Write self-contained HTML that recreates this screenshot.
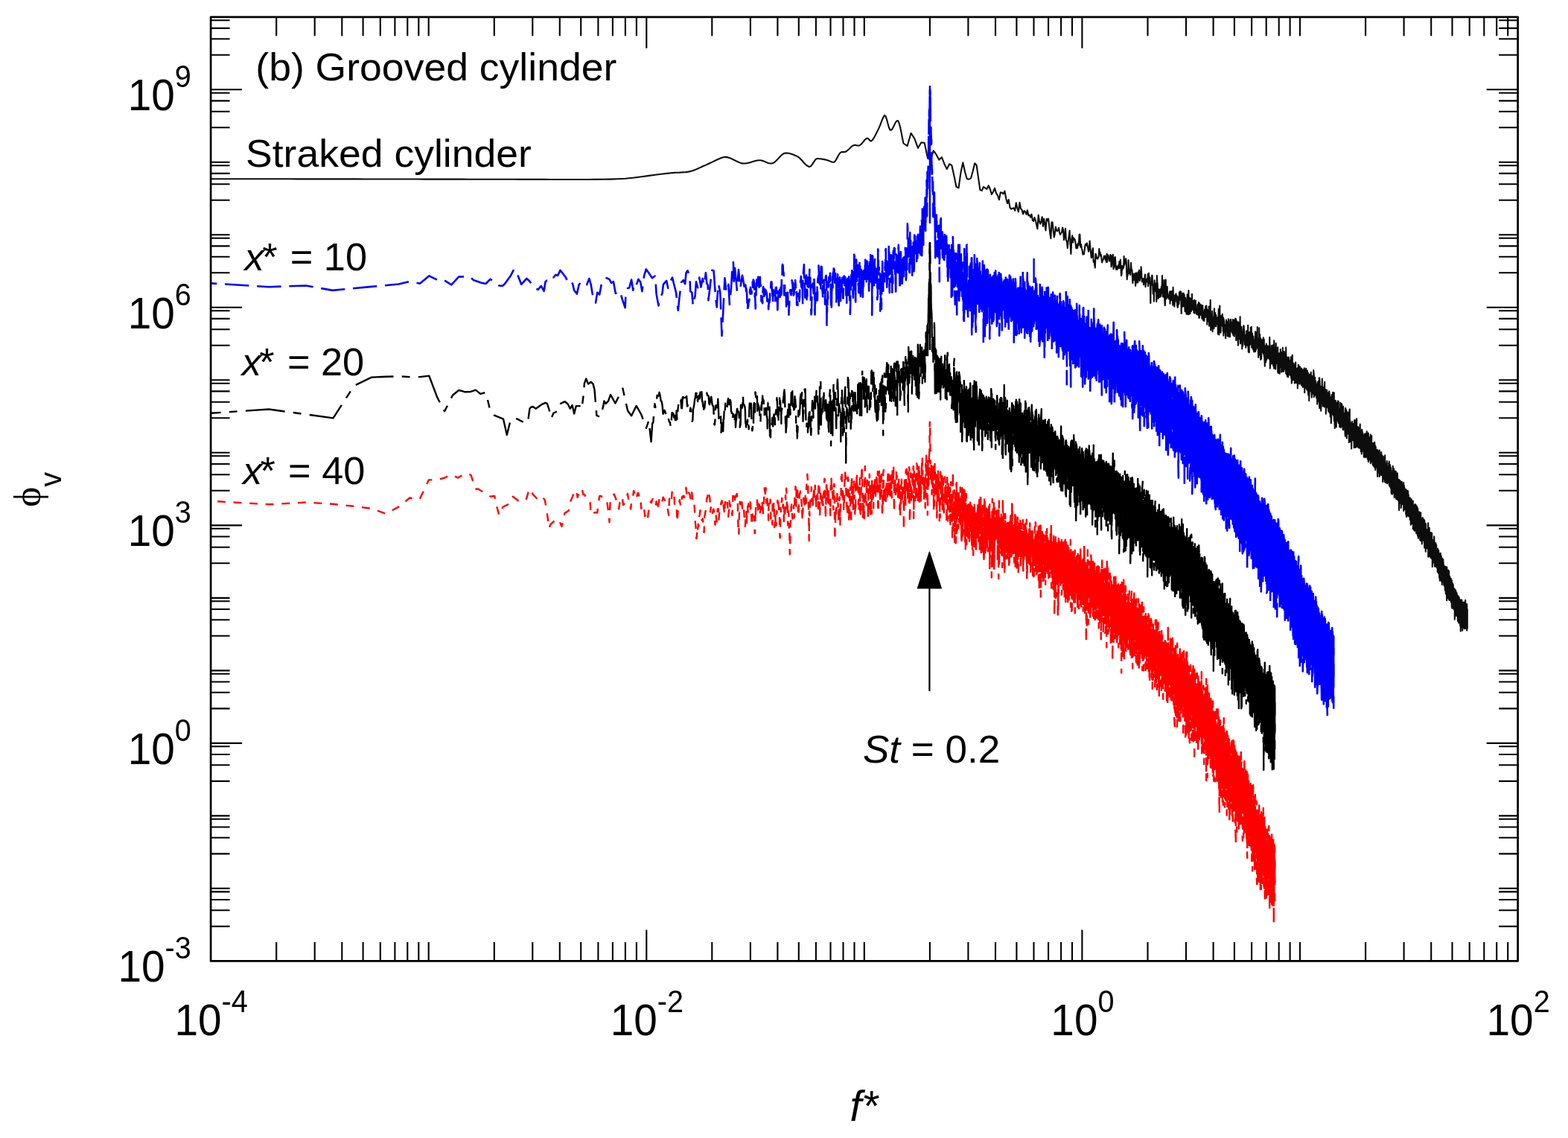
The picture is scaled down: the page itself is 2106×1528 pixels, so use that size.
<!DOCTYPE html>
<html lang="en"><head><meta charset="utf-8"><title>Velocity spectra - grooved cylinder</title>
<style>html,body{margin:0;padding:0;background:#fff}svg{display:block}text{font-family:"Liberation Sans",Arial,Helvetica,sans-serif;fill:#000}.i{font-style:italic}</style></head><body>
<svg width="2106" height="1528" viewBox="0 0 2106 1528">
<rect width="2106" height="1528" fill="#fff"/>
<defs><clipPath id="pc"><rect x="283.1" y="22.8" width="1755.5" height="1267.6"/></clipPath></defs>
<g clip-path="url(#pc)" fill="none" stroke-linejoin="round" stroke-linecap="butt">
<path d="M270.0 240.3L280.0 240.3L290.0 240.3L300.0 240.3L310.0 240.3L320.0 240.3L330.0 240.3L340.0 240.3L350.0 240.3L360.0 240.3L370.0 240.3L380.0 240.3L390.0 240.3L400.0 240.4L410.0 240.4L420.0 240.4L430.0 240.4L440.0 240.4L450.0 240.4L460.0 240.4L470.0 240.4L480.0 240.4L490.0 240.5L500.0 240.5L510.0 240.5L520.0 240.5L530.0 240.5L540.0 240.5L550.0 240.5L560.0 240.5L570.0 240.6L580.0 240.6L590.0 240.6L600.0 240.6L610.0 240.6L620.0 240.6L630.0 240.7L640.0 240.7L650.0 240.7L660.0 240.7L670.0 240.8L680.0 240.8L690.0 240.8L700.0 240.9L710.0 240.9L720.0 240.9L730.0 240.9L740.0 241.0L750.0 241.0L760.0 241.0L770.0 241.0L780.0 241.0L790.0 241.0L800.0 240.9L810.0 240.8L820.0 240.6L830.0 240.3L840.0 239.8L850.0 238.8L860.0 237.5L870.0 236.1L880.0 234.8L890.0 233.5L900.0 232.4L901.5 232.2L903.0 232.1L904.5 232.0L906.0 231.9L907.5 231.8L909.0 231.8L910.5 231.7L912.0 231.7L913.5 231.6L915.0 231.5L916.5 231.4L918.0 231.3L919.5 231.2L921.0 231.1L922.5 230.9L924.0 230.7L925.5 230.4L927.0 230.1L928.5 229.7L930.0 229.3L931.5 228.8L933.0 228.2L934.5 227.6L936.0 227.0L937.5 226.3L939.0 225.6L940.5 224.9L942.0 224.2L943.5 223.5L945.0 222.8L946.5 222.2L948.0 221.6L949.5 220.9L951.0 220.2L952.5 219.5L954.0 218.8L955.5 218.1L957.0 217.4L958.5 216.6L960.0 215.9L961.5 215.2L963.0 214.5L964.5 213.8L966.0 213.2L967.5 212.5L969.0 211.9L970.5 211.4L972.0 211.0L973.5 210.9L975.0 210.9L976.5 211.1L978.0 211.4L979.5 211.9L981.0 212.5L982.5 213.1L984.0 213.8L985.5 214.6L987.0 215.3L988.5 216.1L990.0 216.8L991.5 217.5L993.0 218.1L994.5 218.7L996.0 219.1L997.5 219.4L999.0 219.5L1000.5 219.5L1002.0 219.3L1003.5 219.1L1005.0 218.7L1006.5 218.4L1008.0 218.0L1009.5 217.5L1011.0 217.1L1012.5 216.6L1014.0 216.2L1015.5 215.8L1017.0 215.5L1018.5 215.3L1020.0 215.2L1021.5 215.3L1023.0 215.5L1024.5 216.0L1026.0 216.5L1027.5 217.1L1029.0 217.8L1030.5 218.4L1032.0 218.9L1033.5 219.3L1035.0 219.5L1036.5 219.5L1038.0 219.1L1039.5 218.3L1041.0 217.2L1042.5 215.8L1044.0 214.2L1045.5 212.6L1047.0 211.0L1048.5 209.4L1050.0 208.0L1051.5 206.9L1053.0 206.0L1054.5 205.6L1056.0 205.5L1057.5 205.6L1059.0 205.7L1060.5 206.0L1062.0 206.4L1063.5 206.9L1065.0 207.4L1066.5 208.0L1068.0 208.7L1069.5 209.4L1071.0 210.1L1072.5 211.0L1074.0 212.2L1075.5 213.7L1077.0 215.3L1078.5 217.0L1080.0 218.7L1081.5 220.3L1083.0 221.7L1084.5 222.8L1086.0 223.6L1087.5 223.9L1089.0 223.1L1090.5 221.3L1092.0 219.1L1093.5 216.8L1095.0 214.7L1096.5 213.3L1098.0 212.9L1099.5 213.0L1101.0 213.2L1102.5 213.3L1104.0 213.6L1105.5 213.8L1107.0 214.1L1108.5 214.4L1110.0 214.7L1111.5 215.2L1113.0 215.8L1114.5 216.4L1116.0 217.0L1117.5 217.5L1119.0 217.8L1120.5 217.6L1122.0 216.0L1123.5 213.6L1125.0 210.7L1126.5 208.0L1128.0 205.7L1129.5 204.5L1131.0 204.1L1132.5 204.1L1134.0 204.1L1135.5 203.8L1137.0 203.0L1138.5 201.8L1140.0 200.4L1141.5 198.9L1143.0 197.5L1144.5 196.2L1146.0 195.3L1147.5 194.9L1149.0 194.9L1150.5 195.2L1152.0 195.5L1153.5 195.5L1155.0 195.0L1156.5 193.8L1158.0 192.2L1159.5 190.4L1161.0 188.5L1162.5 186.9L1164.0 185.7L1165.5 185.7L1167.0 187.1L1168.5 188.8L1170.0 189.5L1171.5 188.3L1173.0 186.2L1174.5 183.7L1176.0 180.9L1177.5 178.0L1179.0 175.1L1180.5 171.9L1182.0 168.3L1183.5 164.4L1185.0 160.6L1186.5 157.3L1188.0 154.9L1189.5 156.1L1191.0 160.4L1192.5 166.0L1194.0 171.2L1195.5 174.5L1197.0 174.7L1198.5 173.0L1200.0 170.3L1201.5 167.1L1203.0 164.2L1204.5 162.3L1206.0 162.1L1207.5 165.0L1209.0 170.6L1210.5 177.8L1212.0 185.5L1213.5 192.5L1218.6 196.0L1223.6 178.8L1228.4 186.3L1233.0 198.8L1237.4 191.3L1241.7 191.9L1245.9 212.1L1249.9 215.0L1253.8 202.3L1257.6 207.7L1261.3 214.6L1264.9 211.2L1268.4 220.2L1271.8 227.1L1275.1 220.2L1278.3 222.0L1281.4 235.9L1284.5 251.0L1287.5 252.3L1290.4 232.0L1293.3 218.3L1296.1 231.0L1298.8 240.3L1301.5 240.7L1304.1 239.3L1306.6 230.0L1309.2 219.3L1311.6 221.8L1314.1 239.2L1316.4 255.1L1318.8 255.9L1321.0 250.8L1323.3 252.5L1325.5 253.8L1327.7 249.2L1329.8 253.8L1331.9 261.0L1334.0 257.5L1336.0 252.7L1338.0 259.3L1340.0 262.3L1341.9 268.2L1343.8 258.4L1345.7 258.8L1347.6 260.4L1349.4 256.5L1351.2 266.3L1353.0 273.1L1354.7 268.1L1356.5 278.7L1358.2 280.7L1359.9 279.7L1361.5 279.2L1363.2 282.9L1364.8 272.2L1366.4 279.8L1367.9 284.4L1369.5 271.9L1371.0 280.3L1372.6 281.8L1374.1 287.4L1375.6 283.2L1377.0 284.2L1378.5 287.9L1379.9 282.3L1381.3 289.3L1382.7 288.8L1384.1 291.7L1385.5 287.7L1386.9 295.9L1388.2 297.0L1389.5 292.1L1390.9 296.1L1392.2 302.1L1393.4 307.3L1394.7 288.9L1396.0 297.6L1397.2 300.7L1398.5 297.2L1399.7 291.2L1400.9 303.8L1402.1 293.8L1403.3 300.5L1404.5 309.4L1405.7 293.8L1406.8 296.5L1408.0 293.7L1409.1 301.9L1410.3 313.6L1411.4 320.1L1412.5 298.2L1413.6 298.5L1414.7 309.6L1415.8 318.5L1416.8 313.7L1417.9 304.6L1418.9 309.4L1420.0 310.3L1421.0 309.1L1422.1 305.9L1423.1 312.6L1424.1 315.1L1425.1 313.0L1426.1 312.0L1427.1 305.5L1428.1 308.9L1429.0 322.1L1430.0 317.4L1431.0 306.9L1431.9 322.7L1432.9 324.1L1433.8 333.2L1434.7 323.9L1435.7 316.7L1436.6 309.7L1437.5 326.2L1438.4 341.0L1439.3 322.1L1440.2 316.4L1441.1 325.5L1441.9 319.4L1442.8 320.5L1443.7 321.8L1444.5 325.8L1445.4 333.5L1446.2 328.9L1447.1 333.1L1447.9 326.7L1448.8 329.3L1449.6 315.1L1450.4 314.8L1451.2 331.7L1452.0 328.0L1452.8 333.2L1453.6 336.1L1454.4 341.7L1455.2 340.5L1456.0 341.2L1456.8 334.7L1457.6 328.7L1458.4 327.7L1459.1 329.7L1459.9 326.4L1460.6 329.3L1461.4 334.1L1462.1 337.8L1462.9 335.1L1463.6 323.6L1464.4 332.9L1465.1 339.4L1465.8 346.2L1466.6 345.1L1467.3 336.2L1468.0 333.3L1468.7 351.8L1469.4 349.9L1470.1 354.7L1470.8 359.4L1471.5 340.7L1472.2 342.5L1472.9 346.0L1473.6 347.2L1474.3 347.6L1474.9 345.6L1475.6 345.0L1476.3 334.0L1476.9 339.5L1477.6 338.9L1478.3 343.8L1478.9 342.0L1479.6 348.3L1480.2 352.4L1480.9 349.7L1481.5 348.9L1482.2 347.7L1482.8 343.9L1483.4 344.8L1484.1 343.5L1484.7 349.0L1485.3 348.8L1485.9 352.0L1486.6 340.7L1487.2 351.7L1487.8 345.8L1488.4 342.5L1489.0 346.5L1489.6 345.5L1490.2 350.7L1490.8 347.1L1491.4 342.0L1492.0 342.7L1492.6 358.1L1493.2 354.7L1493.8 343.8L1494.3 349.3L1494.9 341.7L1495.5 361.1L1496.1 346.4L1496.6 352.8L1497.2 358.1L1497.8 345.0L1498.3 352.6L1498.9 361.6L1499.4 359.9L1500.0 357.5L1500.6 362.0L1501.1 358.5L1501.7 358.2L1502.2 355.7L1502.8 360.1L1503.3 351.4L1503.8 359.9L1504.4 355.3L1504.9 348.6L1505.4 357.5L1506.0 370.2L1506.5 368.5L1507.0 357.0L1507.5 362.2L1508.1 357.4L1508.6 357.3L1509.1 359.8L1509.6 344.0L1510.1 356.0L1510.6 353.6L1511.2 353.4L1511.7 349.1L1512.2 347.3L1512.7 351.4L1513.2 365.1L1513.7 375.2L1514.2 365.8L1514.7 369.9L1515.2 363.4L1515.6 349.2L1516.1 359.9L1516.6 366.9L1517.1 361.8L1517.6 365.1L1518.1 368.9L1518.6 359.9L1519.0 352.7L1519.5 360.2L1520.0 363.4L1520.5 362.7L1520.9 371.9L1521.4 380.3L1521.9 367.5L1522.3 370.5L1522.8 375.0L1523.3 374.3L1523.7 376.3L1524.2 367.4L1524.6 372.2L1525.1 383.9L1525.6 378.7L1526.0 366.3L1526.5 371.8L1526.9 379.4L1527.4 375.0L1527.8 366.7L1528.2 379.4L1528.7 365.2L1529.1 371.1L1529.6 371.9L1530.0 362.8L1530.5 377.0L1530.9 376.8L1531.3 364.5L1531.8 373.5L1532.2 370.7L1532.6 358.4L1533.0 363.7L1533.5 373.3L1533.9 378.4L1534.3 376.2L1534.7 374.5L1535.2 377.5L1535.6 374.0L1536.0 382.3L1536.4 378.6L1536.8 377.5L1537.3 379.8L1537.7 369.6L1538.1 368.5L1538.5 385.2L1538.9 382.3L1539.3 375.5L1539.7 378.7L1540.1 374.7L1540.5 378.3L1540.9 373.8L1541.3 378.4L1541.7 368.0L1542.1 384.2L1542.5 378.4L1542.9 366.9L1543.3 374.1L1543.7 376.5L1544.1 380.1L1544.5 372.5L1544.9 380.5L1545.3 406.9L1545.7 380.5L1546.0 380.6L1546.4 380.1L1546.8 382.4L1547.2 369.8L1547.6 370.0L1548.0 383.1L1548.3 383.6L1548.7 394.4L1549.1 382.2L1549.5 383.1L1549.9 404.6L1550.2 385.5L1550.6 376.2L1551.0 382.2L1551.3 384.4L1551.7 390.9L1552.1 388.2L1552.4 380.6L1552.8 385.5L1553.2 405.1L1553.5 401.4L1553.9 370.0L1554.3 379.3L1554.6 380.6L1555.0 389.6L1555.4 387.8L1555.7 400.9L1556.1 399.0L1556.4 396.7L1556.8 391.8L1557.1 388.8L1557.5 391.2L1557.8 399.0L1558.2 396.2L1558.5 388.4L1558.9 398.0L1559.2 394.4L1559.6 390.2L1559.9 384.7L1560.3 384.8L1560.6 385.1L1561.0 370.0L1561.3 391.9L1561.7 397.9L1562.0 391.6L1562.3 398.8L1562.7 397.7L1563.0 396.0L1563.4 376.0L1563.7 385.3L1564.0 396.1L1564.4 405.7L1564.7 410.1L1565.0 407.9L1565.4 388.8L1565.7 375.6L1566.0 392.9L1566.3 395.8L1566.7 401.3L1567.0 396.0L1567.3 396.0L1567.7 384.9L1568.0 394.7L1568.3 393.2L1568.6 396.9L1569.0 399.7L1569.3 396.0L1569.6 397.9L1569.9 396.8L1570.2 401.6L1570.6 401.8L1570.9 393.9L1571.2 391.3L1571.5 407.8L1571.8 400.4L1572.1 404.0L1572.5 402.5L1572.8 394.4L1573.1 391.0L1573.4 396.9L1573.7 400.1L1574.0 403.1L1574.3 390.7L1574.6 391.2L1574.9 396.5L1575.2 409.8L1575.6 385.9L1575.9 396.5L1576.2 396.3L1576.5 401.0L1576.8 396.9L1577.1 401.0L1577.4 411.6L1577.7 406.0L1578.0 403.9L1578.3 403.7L1578.6 395.8L1578.9 402.4L1579.2 400.3L1579.5 394.4L1579.8 398.5L1580.1 399.2L1580.4 405.8L1580.7 402.6L1580.9 397.4L1581.2 410.5L1581.5 412.0L1581.8 413.0L1582.1 409.1L1582.4 402.6L1582.7 398.8L1583.0 399.2L1583.3 408.4L1583.6 405.5L1583.9 392.3L1584.1 398.9L1584.4 392.6L1584.7 400.8L1585.0 394.9L1585.3 391.3L1585.6 401.2L1585.8 403.2L1586.1 391.5L1586.4 405.1L1586.7 421.0L1587.0 398.5L1587.2 413.5L1587.5 403.6L1587.8 399.2L1588.1 402.0L1588.4 393.8L1588.6 410.5L1588.9 411.4L1589.2 400.8L1589.5 401.3L1589.7 393.7L1590.0 399.2L1590.3 411.3L1590.6 395.6L1590.8 398.5L1591.1 405.8L1591.4 413.8L1591.6 418.2L1591.9 406.1L1592.2 400.0L1592.4 407.9L1592.7 405.1L1593.0 403.6L1593.2 413.8L1593.5 421.6L1593.8 413.0L1594.0 406.5L1594.3 410.9L1594.6 395.4L1594.8 403.0L1595.1 400.1L1595.4 422.3L1595.6 418.8L1595.9 410.8L1596.1 407.2L1596.4 390.0L1596.7 407.6L1596.9 421.9L1597.2 407.4L1597.4 412.0L1597.7 415.8L1598.0 399.8L1598.2 412.3L1598.5 421.3L1598.7 414.4L1599.0 409.8L1599.2 415.3L1599.5 400.8L1599.7 407.1L1600.0 417.9L1600.2 404.0L1600.5 414.6L1600.7 410.0L1601.0 394.9L1601.2 405.2L1601.5 403.9L1601.7 411.1L1602.0 403.7L1602.2 416.1L1602.5 408.8L1602.7 412.5L1603.0 408.5L1603.2 408.3L1603.5 419.9L1603.7 416.6L1604.0 410.1L1604.2 402.7L1604.5 418.0L1604.7 420.8L1604.9 412.4L1605.2 414.1L1605.4 406.5L1605.7 403.7L1605.9 405.3L1606.2 414.2L1606.4 416.8L1606.6 409.4L1606.9 417.6L1607.1 421.6L1607.4 417.5L1607.6 422.3L1607.8 415.1L1608.1 413.3L1608.3 418.1L1608.5 416.0L1608.8 420.8L1609.0 408.4L1609.2 422.7L1609.5 413.5L1609.7 412.8L1609.9 405.8L1610.2 417.1L1610.4 426.8L1610.6 427.0L1610.9 425.0L1611.1 407.6L1611.3 407.5L1611.6 411.8L1611.8 409.3L1612.0 423.0L1612.3 421.4L1612.5 417.8L1612.7 421.1L1612.9 412.2L1613.2 409.2L1613.4 409.7L1613.6 419.7L1613.9 422.0L1614.1 423.4L1614.3 427.7L1614.5 411.7L1614.8 411.7L1615.0 418.8L1615.2 410.0L1615.4 412.4L1615.7 425.5L1615.9 429.9L1616.1 430.1L1616.3 422.8L1616.5 418.7L1616.8 427.4L1617.0 420.2L1617.2 422.0L1617.4 430.9L1617.7 421.3L1617.9 415.7L1618.1 419.5L1618.3 425.4L1618.5 426.2L1618.7 423.7L1619.0 425.9L1619.2 411.6L1619.4 411.9L1619.6 421.1L1619.8 415.9L1620.0 410.5L1620.3 410.6L1620.5 413.1L1620.7 419.2L1620.9 415.1L1621.1 422.2L1621.3 435.7L1621.5 426.2L1621.8 432.1L1622.0 428.5L1622.2 416.3L1622.4 419.2L1622.6 416.2L1622.8 427.1L1623.0 417.7L1623.2 430.9L1623.5 431.6L1623.7 411.5L1623.9 425.4L1624.1 437.7L1624.3 422.9L1624.5 430.2L1624.7 414.7L1624.9 422.8L1625.1 414.2L1625.3 425.0L1625.5 414.1L1625.7 402.8L1625.9 422.5L1626.2 443.3L1626.4 427.3L1626.6 430.8L1626.8 429.2L1627.0 424.5L1627.2 430.3L1627.4 439.9L1627.6 422.0L1627.8 428.1L1628.0 430.9L1628.2 417.9L1628.4 435.5L1628.6 445.2L1628.8 425.4L1629.0 437.8L1629.2 432.4L1629.4 426.9L1629.6 438.4L1629.8 433.4L1630.0 431.2L1630.2 440.0L1630.4 441.3L1630.6 438.1L1630.8 420.9L1631.0 414.4L1631.2 433.3L1631.4 425.2L1631.6 428.1L1631.8 422.0L1632.0 425.6L1632.2 420.0L1632.4 438.2L1632.6 426.4L1632.8 426.6L1633.0 428.4L1633.2 438.2L1633.3 423.0L1633.5 426.7L1633.7 428.9L1633.9 433.8L1634.1 435.3L1634.3 428.6L1634.5 431.5L1634.7 428.9L1634.9 433.5L1635.1 431.5L1635.3 426.4L1635.5 429.6L1635.7 434.0L1635.8 448.6L1636.0 433.6L1636.2 432.8L1636.4 443.0L1636.6 420.6L1636.8 414.7L1637.0 419.6L1637.2 428.6L1637.4 449.5L1637.6 441.1L1637.7 442.1L1637.9 434.0L1638.1 414.7L1638.3 410.5L1638.5 434.7L1638.7 436.8L1638.9 424.3L1639.0 438.1L1639.2 425.0L1639.4 437.9L1639.6 446.6L1639.8 431.6L1640.0 424.0L1640.2 437.2L1640.3 428.1L1640.5 437.6L1640.7 427.6L1640.9 437.1L1641.1 436.9L1641.3 431.5L1641.4 427.1L1641.6 434.1L1641.8 421.7L1642.0 428.3L1642.2 431.4L1642.3 438.8L1642.5 427.7L1642.7 444.4L1642.9 437.1L1643.1 426.5L1643.2 442.6L1643.4 450.6L1643.6 438.2L1643.8 428.9L1644.0 433.7L1644.1 431.0L1644.3 432.1L1644.5 446.4L1644.7 442.6L1644.9 438.2L1645.0 439.1L1645.2 436.8L1645.4 442.3L1645.6 444.8L1645.7 436.1L1645.9 436.6L1646.1 454.3L1646.3 445.6L1646.4 436.7L1646.6 451.2L1646.8 442.1L1647.0 429.5L1647.1 439.5L1647.3 432.6L1647.5 431.8L1647.7 438.7L1647.8 437.6L1648.0 432.0L1648.2 432.1L1648.4 432.4L1648.5 444.9L1648.7 435.7L1648.9 432.4L1649.0 451.4L1649.2 439.3L1649.4 447.7L1649.6 451.4L1649.7 440.7L1649.9 428.2L1650.1 438.6L1650.2 444.7L1650.4 447.5L1650.6 441.9L1650.8 447.9L1650.9 452.0L1651.1 435.1L1651.3 447.1L1651.4 444.1L1651.6 435.9L1651.8 436.0L1651.9 452.3L1652.1 451.3L1652.3 429.5L1652.4 436.3L1652.6 439.3L1652.8 438.6L1652.9 436.2L1653.1 428.7L1653.3 443.1L1653.4 435.8L1653.6 435.7L1653.8 435.5L1653.9 434.1L1654.1 444.4L1654.3 445.4L1654.4 437.1L1654.6 432.7L1654.8 435.6L1654.9 447.0L1655.1 444.5L1655.2 443.4L1655.4 439.7L1655.6 439.0L1655.7 442.6L1655.9 429.1L1656.1 448.9L1656.2 440.1L1656.4 436.1L1656.5 450.3L1656.7 446.9L1656.9 443.1L1657.0 438.3L1657.2 429.9L1657.4 440.1L1657.8 451.6L1657.8 438.1L1658.2 435.0L1658.3 444.9L1658.5 444.3L1658.6 448.1L1658.8 439.6L1659.0 434.3L1659.1 427.7L1659.3 430.5L1659.4 433.1L1659.6 431.0L1659.7 442.6L1659.9 439.9L1660.1 428.2L1660.2 457.0L1660.4 444.1L1660.5 433.3L1660.7 450.2L1660.8 455.6L1661.2 431.3L1661.2 450.4L1661.6 445.3L1661.8 438.4L1661.9 442.9L1662.1 453.6L1662.2 438.1L1662.4 439.2L1662.6 434.6L1662.7 457.6L1662.9 463.6L1663.2 456.7L1663.2 432.5L1663.6 442.9L1663.8 437.2L1663.9 433.5L1664.1 438.1L1664.2 442.2L1664.4 449.7L1664.5 452.9L1664.7 450.1L1664.8 440.6L1665.2 455.1L1665.2 443.3L1665.6 425.3L1665.8 437.3L1665.9 461.5L1666.1 455.8L1666.2 447.2L1666.4 453.4L1666.8 453.4L1666.8 445.3L1667.1 449.6L1667.3 444.0L1667.4 438.7L1667.8 446.6L1667.8 455.6L1668.1 453.4L1668.3 468.4L1668.4 456.8L1668.6 457.0L1668.7 465.5L1668.9 454.2L1669.2 451.2L1669.2 463.9L1669.6 452.9L1669.8 451.2L1669.9 441.4L1670.2 455.0L1670.2 437.2L1670.6 437.6L1670.8 439.1L1670.9 448.2L1671.2 456.1L1671.2 442.9L1671.6 455.6L1671.8 462.8L1671.9 461.2L1672.2 451.2L1672.2 459.5L1672.6 449.7L1672.8 453.9L1672.9 452.4L1673.2 450.8L1673.2 466.7L1673.6 452.6L1673.8 455.0L1673.9 457.5L1674.2 460.8L1674.2 444.5L1674.6 449.5L1674.8 444.4L1674.9 452.0L1675.2 443.8L1675.2 463.4L1675.6 461.1L1675.7 457.3L1675.9 464.6L1676.2 436.9L1676.2 451.3L1676.8 472.7L1676.8 450.2L1677.1 471.8L1677.3 464.6L1677.4 459.6L1677.8 473.2L1677.8 452.1L1678.2 446.0L1678.2 457.8L1678.6 459.2L1678.8 449.2L1678.9 462.9L1679.2 460.1L1679.2 447.1L1679.8 455.0L1679.8 439.7L1680.1 443.8L1680.3 454.8L1680.4 461.7L1680.8 438.7L1680.8 453.9L1681.2 450.4L1681.2 466.8L1681.8 465.5L1681.8 453.1L1682.1 447.7L1682.3 461.3L1682.4 461.3L1682.8 455.4L1682.8 467.7L1683.2 469.6L1683.2 451.9L1683.8 465.6L1683.8 456.4L1684.2 472.5L1684.2 460.8L1684.8 460.4L1684.8 469.7L1685.1 467.3L1685.3 456.4L1685.4 467.9L1685.8 464.5L1685.8 451.5L1686.2 445.4L1686.2 472.2L1686.8 463.0L1686.8 470.2L1687.2 465.3L1687.2 453.5L1687.8 464.8L1687.8 446.0L1688.2 451.0L1688.2 467.6L1688.8 439.1L1688.8 459.4L1689.2 464.5L1689.2 454.7L1689.8 454.6L1689.8 464.7L1690.2 480.0L1690.2 457.5L1690.8 459.5L1690.8 469.9L1691.2 467.2L1691.2 440.3L1691.8 476.6L1691.8 452.8L1692.2 472.2L1692.2 449.0L1692.8 471.7L1692.8 466.9L1693.2 482.9L1693.2 454.2L1693.8 477.4L1693.8 457.2L1694.2 481.8L1694.2 467.7L1694.8 456.3L1694.8 471.2L1695.2 472.7L1695.2 458.7L1695.8 466.7L1695.8 472.0L1696.2 470.7L1696.2 464.1L1696.8 453.4L1696.8 475.0L1697.2 468.1L1697.2 470.6L1697.8 455.7L1697.8 478.5L1698.2 463.6L1698.2 476.9L1698.8 491.8L1698.8 470.1L1699.2 466.0L1699.2 471.5L1699.8 481.9L1699.8 464.3L1700.2 486.5L1700.2 469.7L1700.8 472.3L1700.8 461.6L1701.2 468.5L1701.2 483.2L1701.8 480.6L1701.8 463.8L1702.2 470.6L1702.2 479.3L1702.8 466.7L1702.8 473.0L1703.2 465.5L1703.2 478.0L1703.8 467.2L1703.8 481.1L1704.2 464.4L1704.2 481.3L1704.8 478.0L1704.8 467.9L1705.2 482.8L1705.2 452.9L1705.8 477.0L1705.8 494.8L1706.2 488.5L1706.2 468.0L1706.8 473.6L1706.8 480.4L1707.2 474.0L1707.2 479.4L1707.8 470.1L1707.8 464.1L1708.2 476.3L1708.2 488.5L1708.8 481.1L1708.8 468.8L1709.2 483.5L1709.2 471.1L1709.8 475.2L1709.8 463.4L1710.2 475.4L1710.2 491.2L1710.8 483.3L1710.8 487.3L1711.2 494.8L1711.2 457.3L1711.8 470.3L1711.8 484.1L1712.2 482.0L1712.2 468.4L1712.8 471.5L1712.8 476.2L1713.2 469.8L1713.2 495.7L1713.8 483.7L1713.8 461.0L1714.2 482.8L1714.2 471.3L1714.8 486.0L1714.8 477.8L1715.2 480.8L1715.2 487.9L1715.8 472.4L1715.8 483.6L1716.2 466.3L1716.2 499.4L1716.8 500.7L1716.8 482.3L1717.2 489.7L1717.2 475.6L1717.8 477.9L1717.8 490.9L1718.2 474.3L1718.2 495.7L1718.8 501.8L1718.8 484.2L1719.2 490.7L1719.2 480.5L1719.8 483.9L1719.8 469.1L1720.2 482.6L1720.2 491.6L1720.8 493.5L1720.8 479.0L1721.2 473.4L1721.2 499.6L1721.8 483.2L1721.8 499.0L1722.2 494.8L1722.2 479.6L1722.8 498.7L1722.8 466.8L1723.2 495.8L1723.2 473.5L1723.8 496.9L1723.8 488.4L1724.2 476.4L1724.2 498.7L1724.8 472.0L1724.8 489.8L1725.2 481.7L1725.2 492.7L1725.8 475.0L1725.8 495.7L1726.2 474.4L1726.2 490.8L1726.8 479.5L1726.8 495.2L1727.2 501.5L1727.2 466.6L1727.8 502.4L1727.8 489.3L1728.2 479.1L1728.2 501.3L1728.8 479.9L1728.8 503.7L1729.2 505.8L1729.2 482.3L1729.8 482.0L1729.8 498.6L1730.2 506.3L1730.2 484.6L1730.8 498.6L1730.8 479.6L1731.2 485.2L1731.2 497.2L1731.8 503.2L1731.8 488.2L1732.2 496.1L1732.2 486.2L1732.8 503.8L1732.8 488.6L1733.2 483.7L1733.2 501.1L1733.8 479.2L1733.8 499.4L1734.2 507.8L1734.2 495.8L1734.8 483.3L1734.8 514.6L1735.2 510.5L1735.2 493.2L1735.8 476.6L1735.8 500.6L1736.2 491.3L1736.2 505.4L1736.8 495.8L1736.8 510.2L1737.2 487.8L1737.2 509.0L1737.8 492.0L1737.8 508.0L1738.2 504.4L1738.2 489.4L1738.8 514.6L1738.8 490.2L1739.2 491.3L1739.2 503.9L1739.8 513.7L1739.8 487.6L1740.2 486.5L1740.2 508.6L1740.8 496.0L1740.8 504.1L1741.2 502.3L1741.2 514.1L1741.8 506.9L1741.8 494.7L1742.2 497.3L1742.2 509.7L1742.8 499.8L1742.8 521.4L1743.2 493.7L1743.2 509.5L1743.8 500.7L1743.8 489.9L1744.2 490.5L1744.2 502.5L1744.8 495.8L1744.8 507.4L1745.2 515.6L1745.2 504.8L1745.8 508.0L1745.8 495.3L1746.2 504.6L1746.2 492.4L1746.8 498.6L1746.8 509.0L1747.2 514.9L1747.2 497.9L1747.8 497.6L1747.8 516.7L1748.2 494.9L1748.2 517.3L1748.8 496.0L1748.8 517.8L1749.2 501.6L1749.2 514.8L1749.8 502.1L1749.8 520.0L1750.2 517.2L1750.2 509.3L1750.8 518.7L1750.8 496.3L1751.2 516.5L1751.2 506.5L1751.8 515.9L1751.8 494.3L1752.2 502.2L1752.2 527.3L1752.8 497.9L1752.8 519.0L1753.2 521.1L1753.2 501.0L1753.8 497.1L1753.8 513.4L1754.2 494.7L1754.2 517.3L1754.8 499.2L1754.8 509.7L1755.2 505.3L1755.2 523.2L1755.8 517.1L1755.8 497.5L1756.2 500.9L1756.2 524.0L1756.8 500.6L1756.8 522.6L1757.2 530.5L1757.2 507.5L1757.8 505.2L1757.8 517.2L1758.2 510.7L1758.2 538.1L1758.8 522.5L1758.8 502.5L1759.2 508.4L1759.2 522.2L1759.8 506.6L1759.8 519.8L1760.2 525.1L1760.2 505.2L1760.8 499.9L1760.8 521.2L1761.2 505.5L1761.2 521.4L1761.8 533.6L1761.8 504.2L1762.2 507.4L1762.2 522.2L1762.8 506.0L1762.8 528.9L1763.2 528.4L1763.2 513.2L1763.8 525.0L1763.8 506.4L1764.2 525.3L1764.2 497.0L1764.8 503.7L1764.8 533.1L1765.2 509.2L1765.2 531.8L1765.8 531.2L1765.8 511.1L1766.2 506.9L1766.2 530.7L1766.8 511.0L1766.8 520.1L1767.2 513.3L1767.2 529.2L1767.8 515.8L1767.8 529.9L1768.2 524.1L1768.2 534.6L1768.8 529.8L1768.8 518.9L1769.2 516.1L1769.2 542.7L1769.8 512.7L1769.8 539.7L1770.2 516.6L1770.2 533.5L1770.8 521.4L1770.8 535.0L1771.2 511.2L1771.2 538.1L1771.8 507.8L1771.8 529.4L1772.2 548.1L1772.2 507.2L1772.8 518.5L1772.8 536.7L1773.2 544.1L1773.2 518.6L1773.8 526.7L1773.8 540.0L1774.2 519.8L1774.2 551.7L1774.8 536.3L1774.8 527.0L1775.2 518.4L1775.2 541.6L1775.8 508.6L1775.8 539.4L1776.2 525.8L1776.2 541.1L1776.8 526.8L1776.8 545.4L1777.2 520.0L1777.2 541.6L1777.8 520.6L1777.8 542.2L1778.2 541.9L1778.2 528.7L1778.8 546.5L1778.8 518.1L1779.2 512.7L1779.2 545.3L1779.8 541.3L1779.8 526.6L1780.2 542.4L1780.2 525.4L1780.8 523.0L1780.8 555.8L1781.2 546.4L1781.2 526.1L1781.8 542.8L1781.8 531.4L1782.2 524.0L1782.2 546.4L1782.8 527.1L1782.8 546.1L1783.2 531.4L1783.2 547.2L1783.8 527.7L1783.8 543.9L1784.2 552.5L1784.2 534.9L1784.8 552.3L1784.8 536.8L1785.2 546.2L1785.2 525.4L1785.8 529.6L1785.8 554.5L1786.2 552.8L1786.2 536.3L1786.8 559.7L1786.8 540.1L1787.2 541.1L1787.2 551.6L1787.8 533.5L1787.8 568.2L1788.2 559.5L1788.2 532.0L1788.8 552.0L1788.8 529.7L1789.2 537.7L1789.2 554.3L1789.8 556.1L1789.8 538.5L1790.2 526.8L1790.2 553.0L1790.8 557.2L1790.8 538.3L1791.2 544.5L1791.2 558.5L1791.8 527.4L1791.8 564.9L1792.2 540.4L1792.2 553.7L1792.8 574.9L1792.8 548.1L1793.2 543.1L1793.2 560.2L1793.8 537.9L1793.8 560.8L1794.2 540.3L1794.2 564.6L1794.8 573.4L1794.8 545.5L1795.2 541.7L1795.2 564.0L1795.8 540.8L1795.8 558.9L1796.2 540.4L1796.2 564.5L1796.8 561.8L1796.8 538.4L1797.2 544.1L1797.2 565.9L1797.8 539.0L1797.8 568.1L1798.2 548.5L1798.2 568.1L1798.8 551.4L1798.8 560.8L1799.2 550.0L1799.2 573.2L1799.8 564.6L1799.8 551.8L1800.2 563.2L1800.2 540.8L1800.8 574.0L1800.8 550.5L1801.2 542.1L1801.2 566.8L1801.8 547.3L1801.8 572.1L1802.2 563.6L1802.2 542.3L1802.8 550.0L1802.8 570.7L1803.2 551.7L1803.2 572.3L1803.8 577.2L1803.8 551.5L1804.2 569.7L1804.2 545.8L1804.8 576.0L1804.8 559.6L1805.2 575.4L1805.2 556.8L1805.8 569.4L1805.8 554.8L1806.2 555.4L1806.2 575.6L1806.8 585.8L1806.8 561.3L1807.2 548.1L1807.2 583.4L1807.8 559.1L1807.8 573.4L1808.2 550.2L1808.2 576.4L1808.8 562.3L1808.8 588.4L1809.2 552.7L1809.2 567.5L1809.8 559.4L1809.8 582.5L1810.2 577.3L1810.2 558.7L1810.8 575.2L1810.8 554.3L1811.2 582.8L1811.2 566.1L1811.8 565.5L1811.8 593.9L1812.2 582.7L1812.2 552.4L1812.8 549.6L1812.8 583.3L1813.2 564.3L1813.2 587.5L1813.8 566.9L1813.8 593.2L1814.2 568.7L1814.2 591.8L1814.8 585.0L1814.8 570.6L1815.2 602.5L1815.2 569.1L1815.8 568.9L1815.8 582.3L1816.2 566.1L1816.2 585.2L1816.8 575.8L1816.8 591.1L1817.2 591.1L1817.2 571.0L1817.8 576.4L1817.8 590.8L1818.2 568.7L1818.2 586.5L1818.8 601.1L1818.8 568.5L1819.2 586.5L1819.2 564.1L1819.8 589.2L1819.8 564.3L1820.2 574.6L1820.2 592.5L1820.8 600.9L1820.8 571.1L1821.2 600.2L1821.2 574.7L1821.8 591.5L1821.8 562.8L1822.2 562.2L1822.2 595.4L1822.8 576.1L1822.8 591.4L1823.2 599.6L1823.2 579.5L1823.8 600.2L1823.8 573.1L1824.2 575.2L1824.2 600.7L1824.8 601.1L1824.8 574.9L1825.2 575.4L1825.2 596.6L1825.8 595.1L1825.8 580.4L1826.2 601.7L1826.2 575.2L1826.8 569.6L1826.8 595.1L1827.2 598.8L1827.2 587.1L1827.8 606.3L1827.8 578.1L1828.2 602.3L1828.2 581.2L1828.8 609.6L1828.8 582.2L1829.2 594.4L1829.2 576.8L1829.8 580.6L1829.8 597.9L1830.2 581.9L1830.2 602.1L1830.8 586.5L1830.8 606.3L1831.2 605.7L1831.2 584.4L1831.8 588.3L1831.8 613.8L1832.2 604.9L1832.2 584.6L1832.8 582.7L1832.8 609.3L1833.2 613.6L1833.2 587.7L1833.8 614.1L1833.8 588.0L1834.2 605.7L1834.2 589.7L1834.8 613.7L1834.8 581.7L1835.2 590.2L1835.2 600.7L1835.8 579.2L1835.8 609.6L1836.2 609.1L1836.2 588.6L1836.8 616.5L1836.8 589.3L1837.2 615.5L1837.2 590.9L1837.8 581.5L1837.8 620.0L1838.2 617.2L1838.2 598.8L1838.8 596.3L1838.8 616.6L1839.2 587.6L1839.2 609.9L1839.8 586.7L1839.8 617.2L1840.2 587.2L1840.2 611.6L1840.8 583.6L1840.8 622.3L1841.2 601.9L1841.2 620.2L1841.8 620.0L1841.8 603.7L1842.2 585.2L1842.2 613.9L1842.8 613.6L1842.8 598.7L1843.2 597.3L1843.2 617.1L1843.8 624.2L1843.8 605.7L1844.2 619.9L1844.2 594.9L1844.8 597.4L1844.8 625.7L1845.2 620.0L1845.2 600.1L1845.8 601.9L1845.8 627.3L1846.2 623.7L1846.2 593.9L1846.8 605.4L1846.8 620.3L1847.2 598.4L1847.2 630.9L1847.8 625.8L1847.8 600.3L1848.2 627.3L1848.2 605.0L1848.8 626.4L1848.8 605.5L1849.2 608.6L1849.2 624.6L1849.8 603.9L1849.8 626.1L1850.2 640.0L1850.2 605.9L1850.8 635.0L1850.8 613.4L1851.2 634.1L1851.2 617.0L1851.8 631.7L1851.8 613.0L1852.2 627.3L1852.2 604.8L1852.8 604.6L1852.8 639.9L1853.2 635.6L1853.2 613.0L1853.8 634.5L1853.8 615.7L1854.2 632.4L1854.2 610.0L1854.8 634.5L1854.8 617.8L1855.2 607.1L1855.2 638.1L1855.8 636.5L1855.8 616.9L1856.2 635.0L1856.2 611.0L1856.8 633.5L1856.8 618.1L1857.2 647.0L1857.2 624.1L1857.8 643.3L1857.8 612.8L1858.2 618.4L1858.2 636.5L1858.8 617.5L1858.8 639.6L1859.2 643.1L1859.2 622.1L1859.8 614.5L1859.8 647.0L1860.2 611.4L1860.2 643.9L1860.8 625.5L1860.8 647.9L1861.2 629.8L1861.2 647.5L1861.8 622.6L1861.8 642.3L1862.2 648.3L1862.2 626.8L1862.8 619.0L1862.8 648.8L1863.2 649.1L1863.2 627.2L1863.8 626.6L1863.8 645.7L1864.2 642.8L1864.2 625.9L1864.8 629.4L1864.8 646.6L1865.2 648.0L1865.2 621.9L1865.8 650.9L1865.8 619.6L1866.2 652.6L1866.2 628.3L1866.8 627.9L1866.8 652.4L1867.2 624.3L1867.2 652.0L1867.8 655.1L1867.8 627.5L1868.2 631.8L1868.2 649.5L1868.8 662.8L1868.8 635.5L1869.2 660.3L1869.2 637.3L1869.8 640.8L1869.8 663.7L1870.2 659.6L1870.2 636.5L1870.8 625.9L1870.8 661.8L1871.2 630.1L1871.2 660.1L1871.8 636.0L1871.8 661.3L1872.2 629.6L1872.2 654.6L1872.8 668.1L1872.8 646.8L1873.2 637.2L1873.2 663.6L1873.8 658.2L1873.8 637.4L1874.2 658.2L1874.2 632.6L1874.8 633.0L1874.8 662.9L1875.2 670.0L1875.2 642.4L1875.8 670.5L1875.8 641.4L1876.2 641.2L1876.2 665.0L1876.8 666.7L1876.8 635.3L1877.2 646.4L1877.2 668.6L1877.8 671.9L1877.8 645.9L1878.2 669.5L1878.2 644.7L1878.8 643.8L1878.8 670.1L1879.2 685.1L1879.2 645.7L1879.8 667.2L1879.8 644.8L1880.2 675.7L1880.2 650.2L1880.8 673.9L1880.8 650.1L1881.2 670.2L1881.2 646.3L1881.8 651.7L1881.8 681.9L1882.2 674.7L1882.2 650.4L1882.8 669.1L1882.8 646.8L1883.2 657.6L1883.2 673.6L1883.8 658.3L1883.8 677.0L1884.2 651.5L1884.2 677.2L1884.8 655.4L1884.8 676.9L1885.2 648.1L1885.2 686.1L1885.8 651.9L1885.8 681.5L1886.2 678.4L1886.2 654.1L1886.8 657.8L1886.8 683.9L1887.2 662.4L1887.2 679.9L1887.8 662.4L1887.8 683.0L1888.2 657.1L1888.2 690.3L1888.8 658.0L1888.8 691.5L1889.2 693.9L1889.2 662.2L1889.8 692.4L1889.8 660.9L1890.2 686.2L1890.2 668.3L1890.8 692.4L1890.8 658.9L1891.2 687.5L1891.2 660.0L1891.8 686.0L1891.8 664.5L1892.2 693.5L1892.2 672.2L1892.8 692.1L1892.8 670.5L1893.2 691.8L1893.2 668.9L1893.8 668.4L1893.8 697.9L1894.2 669.9L1894.2 692.4L1894.8 678.6L1894.8 704.7L1895.2 697.8L1895.2 671.5L1895.8 702.5L1895.8 670.3L1896.2 699.1L1896.2 678.3L1896.8 703.2L1896.8 679.2L1897.2 701.5L1897.2 674.5L1897.8 672.6L1897.8 710.2L1898.2 678.0L1898.2 702.4L1898.8 708.3L1898.8 684.3L1899.2 712.1L1899.2 681.0L1899.8 683.1L1899.8 710.4L1900.2 712.8L1900.2 677.5L1900.8 677.1L1900.8 711.8L1901.2 711.0L1901.2 683.8L1901.8 678.2L1901.8 709.9L1902.2 682.7L1902.2 716.3L1902.8 680.5L1902.8 709.9L1903.2 708.8L1903.2 680.1L1903.8 682.9L1903.8 716.9L1904.2 719.7L1904.2 682.8L1904.8 693.0L1904.8 722.7L1905.2 690.9L1905.2 712.0L1905.8 688.3L1905.8 715.0L1906.2 687.4L1906.2 716.4L1906.8 720.0L1906.8 691.0L1907.2 725.2L1907.2 699.2L1907.8 716.0L1907.8 697.3L1908.2 688.2L1908.2 725.9L1908.8 724.2L1908.8 696.4L1909.2 695.9L1909.2 718.0L1909.8 730.5L1909.8 697.1L1910.2 721.4L1910.2 697.1L1910.8 695.1L1910.8 722.5L1911.2 700.5L1911.2 725.7L1911.8 725.7L1911.8 699.2L1912.2 723.2L1912.2 697.2L1912.8 729.1L1912.8 704.5L1913.2 735.4L1913.2 698.4L1913.8 724.6L1913.8 705.9L1914.2 726.2L1914.2 703.2L1914.8 740.8L1914.8 702.9L1915.2 704.5L1915.2 736.5L1915.8 710.7L1915.8 736.7L1916.2 735.2L1916.2 711.0L1916.8 736.1L1916.8 713.5L1917.2 712.6L1917.2 735.7L1917.8 714.9L1917.8 732.0L1918.2 702.4L1918.2 747.8L1918.8 714.3L1918.8 743.8L1919.2 714.0L1919.2 741.4L1919.8 708.7L1919.8 747.3L1920.2 743.7L1920.2 719.0L1920.8 743.8L1920.8 719.6L1921.2 717.7L1921.2 744.7L1921.8 749.0L1921.8 715.0L1922.2 715.5L1922.2 747.7L1922.8 726.7L1922.8 747.9L1923.2 715.9L1923.2 750.4L1923.8 724.2L1923.8 761.1L1924.2 727.6L1924.2 747.2L1924.8 726.0L1924.8 755.7L1925.2 727.9L1925.2 750.3L1925.8 753.5L1925.8 725.2L1926.2 752.3L1926.2 720.3L1926.8 734.7L1926.8 758.4L1927.2 760.8L1927.2 730.5L1927.8 734.5L1927.8 758.5L1928.2 760.4L1928.2 729.1L1928.8 731.7L1928.8 757.6L1929.2 731.8L1929.2 758.6L1929.8 738.3L1929.8 762.2L1930.2 760.7L1930.2 736.2L1930.8 768.3L1930.8 743.0L1931.2 764.9L1931.2 737.1L1931.8 767.8L1931.8 746.7L1932.2 770.0L1932.2 738.9L1932.8 769.1L1932.8 744.6L1933.2 776.0L1933.2 744.8L1933.8 747.5L1933.8 779.7L1934.2 743.1L1934.2 777.7L1934.8 742.7L1934.8 770.4L1935.2 755.0L1935.2 773.7L1935.8 746.5L1935.8 778.4L1936.2 780.8L1936.2 754.0L1936.8 784.9L1936.8 749.5L1937.2 778.6L1937.2 750.8L1937.8 772.3L1937.8 751.4L1938.2 778.2L1938.2 750.7L1938.8 759.1L1938.8 781.6L1939.2 758.9L1939.2 785.5L1939.8 782.1L1939.8 761.3L1940.2 787.2L1940.2 763.7L1940.8 792.8L1940.8 762.6L1941.2 789.0L1941.2 760.5L1941.8 762.1L1941.8 797.3L1942.2 767.5L1942.2 789.7L1942.8 766.6L1942.8 793.0L1943.2 806.2L1943.2 761.2L1943.8 771.2L1943.8 796.4L1944.2 766.4L1944.2 797.9L1944.8 771.3L1944.8 798.4L1945.2 765.6L1945.2 803.5L1945.8 798.9L1945.8 770.9L1946.2 767.1L1946.2 805.4L1946.8 798.2L1946.8 773.5L1947.2 805.9L1947.2 774.4L1947.8 778.0L1947.8 805.1L1948.2 799.3L1948.2 781.4L1948.8 808.2L1948.8 776.7L1949.2 808.6L1949.2 781.6L1949.8 814.8L1949.8 779.0L1950.2 786.7L1950.2 816.7L1950.8 787.7L1950.8 816.4L1951.2 783.2L1951.2 810.0L1951.8 785.2L1951.8 816.6L1952.2 813.8L1952.2 793.9L1952.8 791.7L1952.8 818.4L1953.2 817.0L1953.2 790.3L1953.8 800.0L1953.8 831.7L1954.2 819.5L1954.2 791.4L1954.8 825.3L1954.8 794.0L1955.2 792.7L1955.2 825.4L1955.8 799.6L1955.8 824.8L1956.2 827.0L1956.2 795.4L1956.8 798.3L1956.8 822.5L1957.2 800.2L1957.2 827.6L1957.8 800.5L1957.8 831.3L1958.2 834.1L1958.2 799.9L1958.8 802.5L1958.8 828.0L1959.2 805.1L1959.2 836.5L1959.8 802.0L1959.8 828.1L1960.2 807.8L1960.2 835.2L1960.8 836.7L1960.8 806.5L1961.2 840.3L1961.2 805.3L1961.8 847.6L1961.8 805.7L1962.2 809.3L1962.2 835.2L1962.8 840.6L1962.8 807.0L1963.2 841.8L1963.2 805.4L1963.8 842.2L1963.8 811.8L1964.2 846.8L1964.2 809.5L1964.8 837.4L1964.8 808.6L1965.2 810.7L1965.2 840.1L1965.8 815.7L1965.8 842.9L1966.2 808.9L1966.2 835.4L1966.8 812.0L1966.8 844.1L1967.2 808.5L1967.2 842.2L1967.8 844.0L1967.8 814.4L1968.2 805.7L1968.2 840.7L1968.8 843.3L1968.8 811.4L1969.2 812.0L1969.2 841.2L1969.8 839.0L1969.8 814.4L1970.2 846.4L1970.2 811.0L1970.8 843.8L1970.8 817.8" stroke="#0d0d0d" stroke-width="2.1"/>
<path d="M1281.2 366.7V381.9M1284.8 353.8V366.6M1286.8 344.2V370.9M1287.8 375.0V390.1M1289.2 358.6V367.8M1290.2 351.9V373.7M1291.2 361.8V385.1M1292.2 370.3V395.6M1293.2 375.1V392.9M1294.2 400.5V423.5M1295.2 336.1V406.3M1296.2 358.0V389.6M1297.2 395.4V414.1M1298.2 329.8V402.8M1299.2 387.2V395.9M1300.2 381.9V417.7M1301.2 378.1V402.3M1302.2 360.0V378.3M1303.2 369.0V391.8M1304.2 371.0V388.3M1305.2 351.5V440.3M1306.2 390.2V429.3M1307.2 370.0V403.9M1308.2 377.8V397.5M1309.2 360.0V377.2M1310.2 366.0V430.6M1311.2 372.8V396.1M1312.2 346.1V368.7M1313.2 367.5V404.0M1314.2 362.1V390.3M1315.2 390.6V414.7M1316.2 388.2V403.0M1317.2 378.9V410.7M1318.2 380.2V406.7M1319.2 375.7V400.7M1320.2 363.2V398.9M1321.2 380.6V404.7M1322.2 377.9V405.7M1323.2 377.1V414.7M1324.2 363.6V409.0M1325.2 367.0V400.8M1326.2 385.4V428.4M1327.2 377.4V400.8M1328.2 381.3V399.1M1329.2 388.2V443.5M1330.2 375.2V401.9M1331.2 382.5V414.6M1332.2 384.3V433.7M1333.2 380.6V419.3M1334.2 372.7V402.3M1335.2 372.8V392.9M1336.2 374.8V415.0M1337.2 367.6V387.3M1338.2 382.6V401.0M1339.2 373.2V394.3M1340.2 374.1V400.0M1341.2 380.2V406.3M1342.2 380.9V429.2M1343.2 372.6V417.9M1344.2 370.1V413.1M1345.2 380.6V415.9M1346.2 388.0V398.8M1347.2 383.2V413.4M1348.2 379.4V400.6M1349.2 381.1V419.1M1350.2 412.5V431.6M1351.2 395.1V410.5M1352.2 384.9V422.4M1353.2 384.6V414.3M1354.2 400.7V411.7M1355.2 399.3V424.3M1356.2 392.2V421.3M1357.2 373.9V415.7M1358.2 398.5V428.2M1359.2 388.6V401.3M1360.2 384.1V413.5M1361.2 395.0V420.9M1362.2 397.7V418.9M1363.2 403.9V442.0M1364.2 388.8V405.8M1365.2 391.8V436.3M1366.2 401.5V420.3M1367.2 390.8V431.1M1368.2 397.9V440.8M1369.2 399.1V417.6M1370.2 399.9V433.3M1371.2 394.1V428.8M1372.2 391.3V425.9M1373.2 388.5V414.0M1374.2 378.9V411.6M1375.2 390.6V436.6M1376.2 386.9V440.9M1377.2 408.3V427.0M1378.2 395.0V418.4M1379.2 398.2V436.9M1380.2 381.7V435.5M1381.2 389.5V410.1M1382.2 397.3V432.0M1383.2 388.6V441.5M1384.2 406.8V454.2M1385.2 397.1V427.4M1386.2 402.3V438.1M1387.2 398.4V414.9M1388.2 407.1V434.2M1389.2 399.2V419.4M1390.2 412.7V424.5M1391.2 395.4V422.5M1392.2 386.1V422.2M1393.2 414.7V436.8M1394.2 405.8V437.7M1395.2 400.5V437.2M1396.2 420.9V450.3M1397.2 397.1V427.8M1398.2 403.8V435.0M1399.2 401.6V429.2M1400.2 408.3V443.5M1401.2 402.0V418.6M1402.2 407.4V445.1M1403.2 394.0V448.1M1404.2 402.2V422.2M1405.2 403.0V422.5M1406.2 404.7V429.7M1407.2 421.4V448.2M1408.2 404.2V427.5M1409.2 403.9V451.9M1410.2 417.3V429.5M1411.2 403.5V417.6M1412.2 400.2V436.3M1413.2 414.6V431.3M1414.2 396.7V424.8M1415.2 405.1V452.9M1416.2 414.8V439.6M1417.2 412.6V443.2M1418.2 406.5V433.4M1419.2 409.7V445.6M1420.2 415.1V440.4M1421.2 413.4V427.7M1422.2 416.2V447.0M1423.2 404.7V451.2M1424.2 420.6V459.4M1425.2 411.2V443.4M1426.2 419.2V437.3M1427.2 419.1V460.2M1428.2 412.7V465.8M1429.2 420.4V452.8M1430.2 426.7V442.4M1431.2 422.6V465.0M1432.2 413.3V444.7M1433.2 412.5V450.4M1434.2 418.6V461.2M1435.2 418.7V442.1M1436.2 420.0V450.2M1437.2 429.8V473.5M1438.2 421.2V471.1M1439.2 420.1V456.4M1440.2 424.3V457.3M1441.2 419.3V469.9M1442.2 440.0V468.1M1443.2 432.8V461.9M1444.2 423.2V469.2M1445.2 426.5V487.0M1446.2 411.6V455.3M1447.2 434.6V471.2M1448.2 434.1V459.8M1449.2 443.4V480.4M1450.2 432.0V473.8M1451.2 431.6V466.5M1452.2 454.7V489.9M1453.2 438.6V483.7M1454.2 434.7V502.0M1455.2 442.3V496.6M1456.2 433.2V467.9M1457.2 452.4V510.1M1458.2 438.7V491.5M1459.2 441.5V475.9M1460.2 439.6V486.9M1461.2 439.3V474.7M1462.2 444.9V499.6M1463.2 445.8V470.7M1464.2 445.1V496.4M1465.2 448.1V501.3M1466.2 438.6V469.9M1467.2 447.5V480.2M1468.2 440.0V478.4M1469.2 426.7V481.1M1470.2 448.8V471.9M1471.2 455.2V486.0M1472.2 455.2V490.6M1473.2 456.8V488.2M1474.2 467.8V492.6M1475.2 437.6V485.4M1476.2 447.7V501.7M1477.2 444.0V485.9M1478.2 464.1V494.3M1479.2 451.2V491.2M1480.2 453.7V478.1M1481.2 460.8V476.1M1482.2 457.9V483.3M1483.2 458.2V485.5M1484.2 453.3V490.9M1485.2 452.2V483.9M1486.2 460.8V508.1M1487.2 461.8V508.6M1488.2 460.3V483.2M1489.2 464.8V501.8M1490.2 465.2V526.1M1491.2 457.7V498.5M1492.2 453.0V504.7M1493.2 466.6V512.0M1494.2 456.9V499.8M1495.2 470.7V514.1M1496.2 461.6V494.9M1497.2 466.0V502.7M1498.2 475.4V510.5M1499.2 466.0V496.6M1500.2 453.7V487.9M1501.2 467.9V506.4M1502.2 476.5V506.9M1503.2 470.0V502.6M1504.2 470.5V510.6M1505.2 482.0V521.8M1506.2 467.1V506.1M1507.2 474.7V510.9M1508.2 476.6V503.4M1509.2 471.8V496.7M1510.2 461.6V505.1M1511.2 484.4V507.3M1512.2 478.4V520.1M1513.2 472.6V512.4M1514.2 482.4V507.3M1515.2 478.4V519.0M1516.2 481.1V508.0M1517.2 475.3V505.6M1518.2 480.5V524.8M1519.2 482.1V511.1M1520.2 486.6V530.2M1521.2 475.3V525.1M1522.2 473.9V516.9M1523.2 476.6V532.9M1524.2 479.2V521.1M1525.2 489.8V525.8M1526.2 488.0V521.7M1527.2 485.5V517.9M1528.2 490.5V510.0M1529.2 489.0V534.0M1530.2 479.5V536.0M1531.2 494.5V538.3M1532.2 489.0V525.8M1533.2 481.5V521.1M1534.2 489.8V536.3M1535.2 487.0V538.6M1536.2 483.1V532.3M1537.2 509.7V539.1M1538.2 490.0V518.4M1539.2 486.2V534.9M1540.2 501.0V537.4M1541.2 500.7V544.2M1542.2 489.7V537.9M1543.2 488.1V533.0M1544.2 502.9V537.1M1545.2 502.4V538.3M1546.2 507.0V541.7M1547.2 506.9V549.6M1548.2 506.6V540.5M1549.2 509.2V549.4M1550.2 509.0V554.0M1551.2 504.2V537.2M1552.2 510.0V549.0M1553.2 513.8V563.0M1554.2 507.9V542.0M1555.2 512.2V552.1M1556.2 506.0V553.3M1557.2 515.3V557.5M1558.2 508.5V551.9M1559.2 518.7V550.1M1560.2 524.9V558.1M1561.2 509.9V554.6M1562.2 517.8V553.7M1563.2 522.1V551.2M1564.2 516.0V556.6M1565.2 525.3V559.6M1566.2 515.5V561.2M1567.2 521.3V560.1M1568.2 523.8V569.5M1569.2 526.5V564.6M1570.2 530.3V578.1M1571.2 519.3V562.1M1572.2 528.4V567.6M1573.2 528.7V563.5M1574.2 535.2V574.5M1575.2 535.4V570.1M1576.2 526.3V578.2M1577.2 524.0V567.3M1578.2 519.5V579.4M1579.2 532.2V583.1M1580.2 538.6V588.4M1581.2 537.5V579.0M1582.2 532.9V587.3M1583.2 537.6V580.8M1584.2 543.2V581.6M1585.2 546.5V585.9M1586.2 544.0V579.4M1587.2 544.1V586.1M1588.2 549.3V594.9M1589.2 548.0V595.3M1590.2 547.0V592.5M1591.2 547.5V584.4M1592.2 534.8V585.7M1593.2 561.2V602.7M1594.2 560.6V594.6M1595.2 552.8V612.6M1596.2 555.9V598.0M1597.2 558.1V602.8M1598.2 557.7V607.2M1599.2 568.8V616.0M1600.2 554.2V597.8M1601.2 557.8V604.3M1602.2 569.3V609.4M1603.2 562.2V600.8M1604.2 575.3V623.1M1605.2 571.9V610.9M1606.2 567.5V619.7M1607.2 571.1V610.5M1608.2 566.4V611.4M1609.2 575.5V618.1M1610.2 578.5V621.7M1611.2 576.8V616.1M1612.2 569.0V606.6M1613.2 577.8V618.2M1614.2 574.1V619.0M1615.2 584.6V626.0M1616.2 586.0V629.5M1617.2 577.7V638.1M1618.2 582.6V624.0M1619.2 585.4V623.1M1620.2 587.9V632.1M1621.2 590.3V629.0M1622.2 590.8V633.6M1623.2 588.1V646.1M1624.2 594.0V636.4M1625.2 597.7V640.8M1626.2 590.1V635.6M1627.2 600.0V638.5M1628.2 602.4V641.0M1629.2 604.5V642.8M1630.2 595.0V640.7M1631.2 595.5V648.4M1632.2 608.4V652.0M1633.2 606.3V639.6M1634.2 609.1V640.5M1635.2 608.3V649.8M1636.2 618.9V647.8M1637.2 611.8V646.0M1638.2 607.4V650.1M1639.2 613.6V662.3M1640.2 612.4V658.6M1641.2 620.4V656.4M1642.2 616.5V666.4M1643.2 619.8V659.8M1644.2 622.9V668.9M1645.2 621.2V663.0M1646.2 626.5V667.1M1647.2 626.8V667.9M1648.2 623.5V665.2M1649.2 623.7V671.1M1650.2 628.1V666.6M1651.2 629.9V671.4M1652.2 625.9V669.6M1653.2 630.4V674.4M1654.2 632.2V671.2M1655.2 636.4V673.1M1656.2 631.6V680.4M1657.2 636.0V671.6M1658.2 636.1V683.3M1659.2 646.6V687.0M1660.2 634.4V691.1M1661.2 635.0V684.3M1662.2 643.9V684.2M1663.2 646.9V686.4M1664.2 648.3V687.4M1665.2 642.4V694.6M1666.2 643.0V688.6M1667.2 652.6V692.4M1668.2 649.8V693.6M1669.2 652.0V689.9M1670.2 651.1V697.6M1671.2 648.4V695.3M1672.2 659.4V704.2M1673.2 661.4V702.5M1674.2 657.9V706.6M1675.2 662.6V708.5M1676.2 663.9V706.8M1677.2 665.4V703.4M1678.2 660.1V710.4M1679.2 671.9V711.4M1680.2 668.3V709.9M1681.2 665.2V711.0M1682.2 669.5V716.6M1683.2 676.1V715.5M1684.2 677.3V719.4M1685.2 680.9V725.1M1686.2 681.1V718.0M1687.2 676.8V718.8M1688.2 681.4V729.8M1689.2 681.0V724.2M1690.2 687.1V731.3M1691.2 691.9V735.4M1692.2 687.9V737.5M1693.2 693.8V734.9M1694.2 692.5V734.2M1695.2 687.8V733.6M1696.2 692.3V750.7M1697.2 696.1V742.0M1698.2 700.0V739.3M1699.2 694.2V738.2M1700.2 699.4V745.0M1701.2 705.1V749.2M1702.2 705.2V745.0M1703.2 700.8V750.6M1704.2 706.6V753.6M1705.2 705.3V747.4M1706.2 711.8V756.9M1707.2 716.8V758.6M1708.2 717.5V759.0M1709.2 713.6V754.8M1710.2 716.4V757.5M1711.2 717.2V757.7M1712.2 722.3V767.1M1713.2 721.0V765.4M1714.2 723.9V770.9M1715.2 725.1V762.9M1716.2 729.2V768.4M1717.2 730.5V773.9M1718.2 730.1V770.4M1719.2 740.6V780.3M1720.2 733.5V776.5M1721.2 738.4V779.0M1722.2 736.6V778.8M1723.2 739.4V785.0M1724.2 738.3V783.4M1725.2 740.0V792.5M1726.2 745.9V783.1M1727.2 747.8V785.7M1728.2 748.5V791.6M1729.2 750.6V789.7M1730.2 750.7V792.1M1731.2 756.9V791.7M1732.2 756.5V799.9M1733.2 758.1V800.6M1734.2 757.0V799.3M1735.2 762.9V806.3M1736.2 764.4V809.0M1737.2 766.9V815.2M1738.2 768.4V823.3M1739.2 776.2V820.9M1740.2 778.1V826.1M1741.2 776.9V819.9M1742.2 777.3V830.3M1743.2 789.3V831.0M1744.2 781.0V835.1M1745.2 792.3V834.9M1746.2 789.2V834.9M1747.2 789.5V835.0M1748.2 791.8V835.9M1749.2 801.8V842.9M1750.2 802.0V839.7M1751.2 800.3V843.8M1752.2 806.2V847.7M1753.2 803.1V852.2M1754.2 808.8V852.8M1755.2 806.8V846.9M1756.2 810.4V855.9M1757.2 816.1V852.0M1758.2 814.5V859.2M1759.2 812.4V858.3M1760.2 817.9V855.7M1761.2 822.4V859.5M1762.2 820.5V864.3M1763.2 821.7V859.2M1764.2 820.2V866.6M1765.2 828.8V863.6M1766.2 829.8V867.3M1767.2 826.8V874.7M1768.2 835.2V876.4M1769.2 836.9V880.1M1770.2 837.2V880.7M1771.2 838.4V883.9M1772.2 845.7V882.6M1773.2 842.0V880.3M1774.2 847.3V891.5M1775.2 844.3V892.1M1776.2 849.3V892.6M1777.2 854.2V899.6M1778.2 858.0V896.0M1779.2 859.4V898.8M1780.2 855.3V899.4M1781.2 859.2V899.0M1782.2 863.2V901.8M1783.2 861.9V903.0M1784.2 861.6V899.7M1785.2 864.3V903.7M1786.2 863.2V906.8M1787.2 866.3V907.1M1788.2 864.5V904.4M1789.2 864.7V905.3M1790.2 867.9V912.8M1791.2 869.9V908.9" stroke="#0000ff" stroke-width="2.4"/>
<path d="M273.0 380.2L283.0 380.4L361.1 385.2L411.0 383.5L446.7 389.9L499.0 384.9L535.6 381.5L550.6 377.9L563.9 380.7L576.3 370.4L587.1 375.7L594.6 374.9L606.3 382.4L616.2 371.6L630.9 371.5L635.7 375.9L646.6 379.7L652.3 381.0L658.5 374.9L663.7 378.0L670.3 383.5L674.6 383.9L677.5 381.8L686.0 369.9L690.5 361.1L695.0 368.5L700.2 381.8L707.4 374.0L711.2 377.5L718.8 387.5L722.6 388.9L726.8 383.9L730.6 390.8L732.5 378.5L734.4 376.6L737.3 378.0L740.1 373.0L743.5 372.5L746.3 369.0L749.2 369.9L752.5 362.8L760.1 372.8L763.4 380.8L767.2 378.7L769.1 380.8L771.0 389.4L774.8 394.6L777.6 382.3L781.0 378.0L786.2 382.7L788.1 382.3L791.4 374.0L793.8 382.7L795.7 394.6L800.0 406.5L802.3 392.7L805.2 395.6L807.6 382.7L810.4 382.7L814.7 373.2L818.5 375.1L821.1 379.8L823.9 378.1L826.8 394.0L832.5 390.5L836.0 402.6L839.6 413.2L840.3 398.3L843.2 386.9L845.3 386.2L848.1 375.5L850.3 389.7L852.4 378.3L855.3 381.2L857.4 374.8L860.3 379.1L862.4 391.2L865.2 369.8L867.8 361.5L871.7 367.0L875.9 373.4L879.8 370.5L880.9 384.0L881.6 394.7L884.5 410.4L885.9 401.9L889.5 394.0L890.9 381.9L895.2 376.9L897.3 386.9L899.4 379.8L903.0 372.6L905.1 381.2L908.0 392.6L910.8 416.8L912.3 401.1L915.1 379.1L917.9 376.2L920.1 381.2L921.5 366.2L923.6 363.4L926.5 371.2L927.2 391.2L929.3 392.6L930.8 410.4L932.2 401.9L933.6 397.6L935.0 378.3L937.2 386.2L939.3 372.6L941.5 385.5L943.6 374.1L945.7 382.6L947.9 366.2L949.3 380.5L950.7 382.6L951.4 403.3L953.6 385.5L955.0 372.6L956.4 362.7L958.5 363.4L959.3 372.6L960.0 384.0L961.4 402.6L962.8 412.5L963.5 398.3L965.0 381.2L967.1 391.2L967.8 404.0L969.5 451.0L971.4 416.8L972.4 393.3L973.5 373.4L975.6 392.6L978.5 381.9L979.9 409.0L982.1 385.5L982.8 373.4L983.5 358.4L984.9 352.0L985.6 377.6L987.0 359.8L989.9 389.7L992.0 362.0L994.2 386.9L997.0 369.8L999.1 381.2L999.6 384.8L1000.0 380.9L1000.5 378.5L1000.9 383.7L1001.3 382.5L1001.7 386.1L1002.1 391.2L1002.5 387.6L1002.9 390.4L1003.3 398.6L1003.7 412.8L1004.1 416.6L1004.5 406.1L1004.9 412.9L1005.3 408.5L1005.7 403.2L1006.1 404.9L1006.4 401.7L1006.8 404.3L1007.2 389.0L1007.6 394.7L1008.0 385.9L1008.4 387.8L1008.8 392.8L1009.1 393.3L1009.5 394.3L1009.9 389.0L1010.3 382.1L1010.7 378.7L1011.0 385.7L1011.4 379.9L1011.8 375.5L1012.2 376.2L1012.5 376.8L1012.9 380.4L1013.3 393.0L1013.6 399.9L1014.0 393.9L1014.4 402.5L1014.7 414.4L1015.1 395.7L1015.5 396.6L1015.8 379.8L1016.2 383.6L1016.6 373.0L1016.9 376.8L1017.3 372.7L1017.6 373.3L1018.0 383.4L1018.3 371.8L1018.7 381.5L1019.0 382.7L1019.4 390.5L1019.8 378.0L1020.1 378.6L1020.5 372.2L1020.8 371.9L1021.1 383.6L1021.5 382.2L1021.8 383.5L1022.2 388.5L1022.5 404.4L1022.9 401.7L1023.2 405.2L1023.6 402.1L1023.9 398.8L1024.2 407.2L1024.6 392.1L1024.9 386.1L1025.2 385.2L1025.6 391.4L1025.9 397.7L1026.3 397.9L1026.6 396.0L1026.9 388.1L1027.2 393.1L1027.6 395.7L1027.9 390.3L1028.2 392.2L1028.6 389.6L1028.9 391.2L1029.2 395.6L1029.5 392.3L1029.9 393.8L1030.2 400.1L1030.5 404.7L1030.8 402.0L1031.2 401.4L1031.5 402.6L1031.8 400.7L1032.1 415.3L1032.4 410.9L1032.8 404.2L1033.1 405.4L1033.4 406.4L1033.7 403.8L1034.0 403.9L1034.3 387.3L1034.6 387.0L1035.0 389.4L1035.3 383.5L1035.6 378.6L1035.9 379.4L1036.2 380.3L1036.5 378.6L1036.8 391.0L1037.1 391.0L1037.4 394.6L1037.7 403.5L1038.0 407.0L1038.3 398.0L1038.6 392.3L1038.9 389.4L1039.2 390.7L1039.5 392.2L1039.8 392.6L1040.1 396.7L1040.4 396.9L1040.7 391.5L1041.0 397.1L1041.3 405.5L1041.6 395.9L1041.9 386.6L1042.2 388.5L1042.5 385.7L1042.8 385.9L1043.1 398.3L1043.4 395.9L1043.7 394.7L1044.0 404.4L1044.3 416.2L1044.5 415.0L1044.8 394.7L1045.1 401.4L1045.4 390.8L1045.7 398.9L1046.0 397.3L1046.3 398.1L1046.6 389.9L1046.8 384.5L1047.1 396.2L1047.4 388.7L1047.7 398.6L1048.0 392.1L1048.2 383.5L1048.5 382.0L1048.8 387.1L1049.1 390.4L1049.4 396.0L1049.6 384.2L1049.9 373.7L1050.2 375.0L1050.5 376.5L1050.7 356.6L1051.0 355.0L1051.3 356.5L1051.6 356.3L1051.8 362.8L1052.1 365.9L1052.4 365.5L1052.7 368.9L1052.9 392.5L1053.2 396.3L1053.5 395.1L1053.7 395.0L1054.0 383.1L1054.3 389.0L1054.5 392.7L1054.8 389.6L1055.1 397.2L1055.3 396.5L1055.6 395.5L1055.9 395.5L1056.1 411.4L1056.4 401.5L1056.7 395.9L1056.9 401.9L1057.2 396.0L1057.4 392.8L1057.7 395.3L1058.0 392.8L1058.2 397.5L1058.5 409.3L1058.7 413.6L1059.0 411.0L1059.3 417.5L1059.5 422.8L1059.8 408.8L1060.0 411.8L1060.3 403.4L1060.5 397.7L1060.8 396.2L1061.0 394.1L1061.3 389.4L1061.5 392.3L1061.8 394.4L1062.1 389.7L1062.3 393.6L1062.6 396.3L1062.8 389.3L1063.1 391.4L1063.3 381.5L1063.6 376.2L1063.8 377.7L1064.1 381.0L1064.3 379.6L1064.5 380.6L1064.8 390.3L1065.0 379.2L1065.3 386.0L1065.5 394.6L1065.8 396.6L1066.0 390.2L1066.3 395.4L1066.5 388.8L1066.7 386.2L1067.0 394.7L1067.2 388.5L1067.5 385.0L1067.7 381.4L1068.0 388.3L1068.2 376.4L1068.4 380.6L1068.7 381.9L1068.9 387.1L1069.1 391.0L1069.4 387.6L1069.6 391.0L1069.9 391.4L1070.1 409.4L1070.3 407.8L1070.6 405.0L1070.8 407.8L1071.0 408.4L1071.3 406.4L1071.5 409.9L1071.7 403.2L1072.0 403.5L1072.2 401.2L1072.4 395.6L1072.7 393.8L1072.9 397.4L1073.1 401.4L1073.4 401.7L1073.6 404.4L1073.8 399.9L1074.1 399.8L1074.3 383.7L1074.5 384.8L1074.7 383.6L1075.0 377.8L1075.2 376.6L1075.4 378.5L1075.6 375.4L1075.9 371.0L1076.1 384.7L1076.3 373.0L1076.5 377.5L1076.8 386.5L1077.0 383.8L1077.2 382.5L1077.4 386.3L1077.7 387.5L1077.9 390.7L1078.1 410.7L1078.3 367.1L1078.5 365.7L1078.8 367.3L1079.0 366.6L1079.2 361.9L1079.4 362.0L1079.6 359.6L1079.9 355.2L1080.1 376.5L1080.3 373.8L1080.5 374.9L1080.7 375.6L1081.0 384.6L1081.2 392.9L1081.4 399.6L1081.6 391.3L1081.8 375.1L1082.0 380.5L1082.3 377.6L1082.5 378.3L1082.7 371.5L1082.9 369.5L1083.1 369.7L1083.3 381.0L1083.5 402.1L1083.7 397.2L1084.0 388.7L1084.2 389.1L1084.4 397.6L1084.6 384.5L1084.8 380.8L1085.0 372.9L1085.2 372.6L1085.4 375.5L1085.6 385.7L1085.8 378.1L1086.1 373.8L1086.3 384.5L1086.5 380.2L1086.7 381.3L1086.9 375.5L1087.1 373.2L1087.3 361.8L1087.5 364.4L1087.7 365.2L1087.9 363.8L1088.1 368.7L1088.3 374.4L1088.5 387.5L1088.7 387.9L1088.9 404.1L1089.1 403.9L1089.3 415.1L1089.6 422.4L1089.8 421.1L1090.0 418.8L1090.2 404.9L1090.4 399.6L1090.6 390.0L1090.8 386.6L1091.0 383.2L1091.2 381.8L1091.4 381.2L1091.6 380.5L1091.8 385.9L1092.0 386.1L1092.2 390.2L1092.4 390.0L1092.6 394.0L1092.8 375.9L1092.9 373.2L1093.1 373.7L1093.3 375.5L1093.5 375.2L1093.7 381.9L1093.9 386.2L1094.1 384.8L1094.3 411.4L1094.5 422.4L1094.7 404.1L1094.9 402.4L1095.1 412.7L1095.3 400.1L1095.5 402.5L1095.7 400.2L1095.9 399.1L1096.1 400.0L1096.3 394.1L1096.5 395.9L1096.6 394.4L1096.8 397.6L1097.0 392.7L1097.2 395.7L1097.4 392.7L1097.6 385.5L1097.8 403.4L1098.0 398.6L1098.2 382.6L1098.4 374.9L1098.5 378.9L1098.7 372.7L1098.9 374.7L1099.1 379.5L1099.3 367.5L1099.5 356.6L1099.7 362.6L1099.9 370.8L1100.0 370.1L1100.2 373.3L1100.4 373.6L1100.6 373.1L1100.8 365.7L1101.0 378.4L1101.2 381.3L1101.3 382.0L1101.5 368.3L1101.7 368.0L1101.9 367.6L1102.1 367.7L1102.3 391.6L1102.5 378.9L1102.6 361.2L1102.8 357.8L1103.0 368.9L1103.2 366.3L1103.4 364.2L1103.5 358.4L1103.7 358.2L1103.9 363.7L1104.1 383.1L1104.3 390.9L1104.4 387.8L1104.6 391.9L1104.8 389.7L1105.0 398.2L1105.2 388.7L1105.3 385.6L1105.5 380.6L1105.7 378.6L1105.9 376.3L1106.1 378.0L1106.2 376.2L1106.4 379.4L1106.6 375.7L1106.8 385.3L1106.9 392.3L1107.1 388.8L1107.3 393.8L1107.5 389.2L1107.7 391.4L1107.8 391.4L1108.0 408.6L1108.2 403.9L1108.4 402.7L1108.5 391.4L1108.7 387.3L1108.9 372.3L1109.1 371.4L1109.2 370.8L1109.4 370.1L1109.6 372.2L1109.7 370.0L1109.9 381.1L1110.1 383.8L1110.3 417.3L1110.4 441.2L1110.6 420.0L1110.8 419.7L1110.9 412.0L1111.1 419.9L1111.3 411.1L1111.5 403.5L1111.6 398.4L1111.8 391.7L1112.0 401.5L1112.1 400.3L1112.3 391.4L1112.5 377.6L1112.6 378.5L1112.8 384.3L1113.0 379.1L1113.2 377.9L1113.3 372.1L1113.5 374.4L1113.7 381.4L1113.8 381.7L1114.0 373.3L1114.2 372.2L1114.3 377.1L1114.5 378.7L1114.7 378.1L1114.8 368.4L1115.0 366.9L1115.2 375.6L1115.3 386.7L1115.5 384.9L1115.7 381.7L1115.8 386.4L1116.0 396.9L1116.1 410.7L1116.3 409.1L1116.5 410.8L1116.6 406.7L1116.8 412.4L1117.0 405.3L1117.1 392.3L1117.3 386.6L1117.5 390.3L1117.6 381.9L1117.8 381.1L1117.9 384.2L1118.1 371.2L1118.3 377.4L1118.4 381.6L1118.6 386.2L1118.8 366.6L1118.9 375.0L1119.1 369.0L1119.2 367.6L1119.4 364.7L1119.6 365.9L1119.7 362.4L1119.9 356.2L1120.0 365.0L1120.2 364.5L1120.4 368.7L1120.5 361.5L1120.7 375.4L1120.8 366.9L1121.0 370.2L1121.1 376.1L1121.3 379.7L1121.5 377.6L1121.6 370.6L1121.8 377.4L1121.9 375.8L1122.1 364.3L1122.2 367.3L1122.4 367.2L1122.6 369.9L1122.7 373.2L1122.9 377.8L1123.0 381.3L1123.2 377.0L1123.3 407.1L1123.5 395.5L1123.6 399.7L1123.8 400.8L1124.0 388.5L1124.1 383.2L1124.3 375.1L1124.4 374.9L1124.6 374.3L1124.7 378.1L1124.9 377.5L1125.0 368.3L1125.2 376.3L1125.3 379.5L1125.5 389.1L1125.6 389.6L1125.8 384.4L1126.0 386.1L1126.1 387.9L1126.3 403.9L1126.4 401.4L1126.6 410.3L1126.7 410.2L1126.9 398.1L1127.0 401.9L1127.2 397.8L1127.3 388.3L1127.5 380.7L1127.6 374.5L1127.8 373.5L1127.9 372.4L1128.1 383.7L1128.2 385.7L1128.4 391.1L1128.5 393.0L1128.7 402.1L1128.8 403.5L1129.0 404.1L1129.1 390.9L1129.3 387.7L1129.4 389.8L1129.6 376.2L1129.7 379.0L1129.8 379.4L1130.0 384.8L1130.1 379.1L1130.3 384.9L1130.4 389.4L1130.6 384.3L1130.7 392.0L1130.9 377.3L1131.0 373.4L1131.2 374.0L1131.3 372.9L1131.5 376.9L1131.6 375.8L1131.8 379.4L1131.9 383.2L1132.0 394.8L1132.2 400.0L1132.3 395.3L1132.5 400.6L1132.6 391.7L1132.8 390.3L1132.9 386.1L1133.1 376.0L1133.2 373.5L1133.3 372.8L1133.5 374.0L1133.6 370.5L1133.8 374.0L1133.9 374.0L1134.1 372.5L1134.2 378.5L1134.3 383.3L1134.5 382.8L1134.6 374.0L1134.8 378.1L1134.9 378.6L1135.2 377.8L1135.2 372.0L1135.6 377.6L1135.8 380.1L1135.9 384.0L1136.2 382.7L1136.2 396.5L1136.6 395.0L1136.7 378.6L1136.9 389.1L1137.2 390.0L1137.2 406.7L1137.8 376.1L1137.8 387.9L1138.1 387.8L1138.3 385.4L1138.4 374.1L1138.8 374.7L1138.8 396.5L1139.1 393.9L1139.2 388.6L1139.4 373.8L1139.8 377.1L1139.8 384.9L1140.2 371.6L1140.2 385.3L1140.6 384.8L1140.7 378.7L1140.9 379.2L1141.2 378.1L1141.2 405.2L1141.8 407.9L1141.8 421.9L1142.2 411.7L1142.2 393.0L1142.6 386.2L1142.7 388.9L1142.9 375.6L1143.2 376.4L1143.2 369.4L1143.8 375.1L1143.8 364.4L1144.2 361.6L1144.2 368.3L1144.8 363.3L1144.8 378.9L1145.1 386.5L1145.3 383.7L1145.4 391.0L1145.8 398.8L1145.8 388.2L1146.2 403.9L1146.2 386.4L1146.8 370.3L1146.8 358.2L1147.2 363.1L1147.2 341.8L1147.8 344.2L1147.8 355.8L1148.2 352.8L1148.2 378.3L1148.8 384.0L1148.8 401.1L1149.2 405.4L1149.2 368.1L1149.6 367.2L1149.8 367.5L1149.9 358.1L1150.2 348.6L1150.2 364.8L1150.8 377.8L1150.8 362.6L1151.2 372.0L1151.2 364.6L1151.8 363.6L1151.8 372.0L1152.2 369.2L1152.2 356.0L1152.8 361.3L1152.8 382.9L1153.2 383.7L1153.2 391.7L1153.8 393.3L1153.8 366.5L1154.2 376.9L1154.2 356.7L1154.8 348.7L1154.8 357.7L1155.2 357.5L1155.2 380.3L1155.8 377.7L1155.8 398.0L1156.2 388.0L1156.2 370.2L1156.8 360.1L1156.8 374.8L1157.2 377.5L1157.2 394.4L1157.8 393.2L1157.8 364.3L1158.2 364.6L1158.2 383.2L1158.8 382.6L1158.8 398.9L1159.2 383.6L1159.2 372.6L1159.8 384.4L1159.8 368.9L1160.2 363.0L1160.2 373.3L1160.8 364.4L1160.8 373.2L1161.2 365.9L1161.2 372.5L1161.8 374.6L1161.8 356.2L1162.2 362.0L1162.2 348.7L1162.8 354.9L1162.8 372.7L1163.2 371.3L1163.2 363.2L1163.8 378.2L1163.8 354.4L1164.2 354.5L1164.2 350.5L1164.8 351.1L1164.8 375.6L1165.2 356.6L1165.2 364.7L1165.8 356.0L1165.8 374.8L1166.2 369.8L1166.2 360.8L1166.8 363.9L1166.8 380.6L1167.2 390.4L1167.2 364.6L1167.8 370.3L1167.8 352.0L1168.2 377.1L1168.2 360.4L1168.8 384.1L1168.8 353.3L1169.2 365.0L1169.2 342.3L1169.8 345.7L1169.8 361.2L1170.2 351.4L1170.2 370.0L1170.8 360.0L1170.8 378.1L1171.2 384.1L1171.2 422.9L1171.8 363.3L1171.8 343.4L1172.2 343.7L1172.2 366.7L1172.8 361.2L1172.8 371.4L1173.2 363.3L1173.2 372.7L1173.8 374.1L1173.8 383.3L1174.2 377.2L1174.2 384.2L1174.8 364.7L1174.8 351.3L1175.2 346.9L1175.2 372.4L1175.8 366.8L1175.8 385.0L1176.2 384.5L1176.2 368.6L1176.8 364.4L1176.8 376.3L1177.2 364.3L1177.2 379.7L1177.8 357.3L1177.8 371.3L1178.2 365.9L1178.2 402.2L1178.8 398.4L1178.8 367.3L1179.2 349.8L1179.2 334.6L1179.8 339.4L1179.8 362.7L1180.2 368.1L1180.2 360.9L1180.8 358.9L1180.8 376.6L1181.2 387.6L1181.2 375.4L1181.8 381.7L1181.8 367.2L1182.2 369.2L1182.2 417.6L1182.8 410.1L1182.8 398.2L1183.2 396.2L1183.2 408.8L1183.8 400.8L1183.8 414.9L1184.2 400.7L1184.2 377.8L1184.8 369.4L1184.8 353.9L1185.2 351.0L1185.2 370.2L1185.8 366.4L1185.8 390.8L1186.2 390.8L1186.2 373.9L1186.8 369.6L1186.8 380.4L1187.2 375.0L1187.2 369.3L1187.8 366.9L1187.8 375.2L1188.2 378.2L1188.2 356.5L1188.8 363.0L1188.8 352.5L1189.2 358.8L1189.2 336.6L1189.8 334.1L1189.8 355.5L1190.2 373.4L1190.2 360.7L1190.8 350.2L1190.8 362.0L1191.2 368.2L1191.2 385.7L1191.8 375.3L1191.8 363.7L1192.2 361.0L1192.2 374.6L1192.8 367.0L1192.8 350.5L1193.2 346.1L1193.2 354.1L1193.8 356.5L1193.8 331.1L1194.2 328.4L1194.2 375.8L1194.8 393.1L1194.8 364.7L1195.2 360.3L1195.2 349.3L1195.8 373.3L1195.8 349.3L1196.2 354.3L1196.2 345.8L1196.8 357.2L1196.8 342.4L1197.2 343.8L1197.2 379.0L1197.8 373.7L1197.8 352.3L1198.2 356.1L1198.2 392.6L1198.8 369.1L1198.8 374.9L1199.2 380.5L1199.2 358.9L1199.8 336.7L1199.8 351.6L1200.2 338.6L1200.2 360.3L1200.8 349.3L1200.8 333.7L1201.2 337.3L1201.2 332.7L1201.8 333.9L1201.8 361.5L1202.2 368.2L1202.2 349.8L1202.8 357.3L1202.8 375.2L1203.2 397.2L1203.2 348.0L1203.8 349.1L1203.8 341.5L1204.2 343.8L1204.2 360.2L1204.8 371.2L1204.8 351.2L1205.2 346.5L1205.2 353.5L1205.8 347.7L1205.8 357.1L1206.2 366.2L1206.2 331.6L1206.8 335.2L1206.8 328.7L1207.2 345.7L1207.2 337.4L1207.8 334.9L1207.8 358.3L1208.2 342.4L1208.2 376.1L1208.8 389.3L1208.8 367.7L1209.2 371.9L1209.2 347.6L1209.8 355.6L1209.8 338.1L1210.2 344.6L1210.2 370.7L1210.8 356.8L1210.8 370.7L1211.2 360.4L1211.2 371.8L1211.8 386.5L1211.8 364.5L1212.2 373.9L1212.2 349.8L1212.8 347.0L1212.8 364.0L1213.2 346.0L1213.2 355.5L1213.8 370.9L1213.8 349.6L1214.2 348.0L1214.2 359.4L1214.8 354.4L1214.8 339.6L1215.2 341.9L1215.2 359.0L1215.8 362.7L1215.8 332.9L1216.2 336.4L1216.2 350.0L1216.8 341.0L1216.8 376.1L1217.2 369.9L1217.2 339.6L1217.8 335.4L1217.8 360.6L1218.2 362.2L1218.2 332.8L1218.8 331.1L1218.8 300.4L1219.2 307.1L1219.2 316.7L1219.8 314.9L1219.8 333.0L1220.2 345.0L1220.2 336.6L1220.8 344.4L1220.8 326.9L1221.2 329.8L1221.2 365.0L1221.8 366.2L1221.8 322.1L1222.2 312.2L1222.2 327.4L1222.8 322.4L1222.8 359.9L1223.2 353.1L1223.2 322.0L1223.8 330.2L1223.8 340.3L1224.2 331.0L1224.2 337.9L1224.8 331.3L1224.8 355.4L1225.2 369.8L1225.2 347.1L1225.8 354.8L1225.8 327.5L1226.2 331.2L1226.2 364.9L1226.8 360.1L1226.8 320.9L1227.2 320.3L1227.2 367.7L1227.8 360.0L1227.8 326.3L1228.2 327.5L1228.2 315.5L1228.8 316.6L1228.8 332.6L1229.2 345.4L1229.2 330.6L1229.8 337.4L1229.8 319.7L1230.2 318.2L1230.2 340.3L1230.8 325.3L1230.8 335.7L1231.2 336.5L1231.2 350.9L1231.8 317.4L1231.8 331.3L1232.2 324.1L1232.2 346.9L1232.8 335.6L1232.8 312.5L1233.2 310.9L1233.2 336.2L1233.8 334.4L1233.8 321.0L1234.2 330.4L1234.2 321.1L1234.8 315.4L1234.8 333.0L1235.2 317.3L1235.2 338.3L1235.8 343.2L1235.8 308.4L1236.2 300.8L1236.2 339.1L1236.8 348.2L1236.8 321.9L1237.2 325.9L1237.2 308.5L1237.8 324.3L1237.8 296.0L1238.2 296.9L1238.2 343.2L1238.8 305.1L1238.8 280.5L1239.2 295.0L1239.2 329.1L1239.8 310.6L1239.8 297.3L1240.2 328.8L1240.2 309.5L1240.8 304.8L1240.8 296.5L1241.2 304.9L1241.2 279.0L1241.8 271.2L1241.8 297.7L1242.0 309.0L1242.1 308.4L1242.2 299.0L1242.2 295.4L1242.3 296.1L1242.4 304.8L1242.4 296.0L1242.5 299.9L1242.5 279.4L1242.6 265.6L1242.7 269.2L1242.7 269.3L1242.8 272.6L1242.8 268.2L1242.9 272.1L1243.0 269.5L1243.0 288.0L1243.1 311.9L1243.1 312.5L1243.2 289.7L1243.3 288.7L1243.3 298.5L1243.4 278.6L1243.4 274.3L1243.5 272.8L1243.6 271.0L1243.6 265.3L1243.7 277.4L1243.7 275.5L1243.8 268.7L1243.9 281.4L1243.9 289.7L1244.0 281.2L1244.0 284.9L1244.1 291.8L1244.2 283.5L1244.2 267.2L1244.3 269.5L1244.3 269.8L1244.4 268.0L1244.5 265.7L1244.5 259.7L1244.6 244.0L1244.6 241.8L1244.7 248.7L1244.8 250.7L1244.8 249.2L1244.9 246.4L1244.9 249.7L1245.0 253.3L1245.1 273.8L1245.1 289.9L1245.2 275.6L1245.2 270.6L1245.3 256.1L1245.4 248.1L1245.4 249.1L1245.5 243.5L1245.5 231.8L1245.6 229.9L1245.7 232.5L1245.7 227.4L1245.8 231.8L1245.8 238.1L1245.9 237.1L1246.0 239.1L1246.0 241.2L1246.1 239.4L1246.1 242.1L1246.2 247.3L1246.3 252.8L1246.3 248.2L1246.4 247.0L1246.4 237.9L1246.5 244.3L1246.5 231.8L1246.6 224.6L1246.7 226.5L1246.7 219.3L1246.8 220.3L1246.8 213.5L1246.9 203.6L1247.0 201.8L1247.0 202.4L1247.1 202.3L1247.1 199.3L1247.2 185.2L1247.3 180.9L1247.3 178.3L1247.4 182.8L1247.4 178.8L1247.5 178.4L1247.5 175.4L1247.6 160.7L1247.7 168.5L1247.7 158.8L1247.8 159.1L1247.8 160.3L1247.9 158.5L1248.0 148.5L1248.0 147.2L1248.1 155.7L1248.1 151.2L1248.2 159.4L1248.2 156.3L1248.3 151.4L1248.4 149.4L1248.4 161.8L1248.5 161.8L1248.5 164.3L1248.6 173.7L1248.6 170.0L1248.7 142.9L1248.8 143.8L1248.8 134.2L1248.9 127.8L1248.9 125.3L1249.0 117.8L1249.1 114.9L1249.1 116.9L1249.2 127.5L1249.2 122.4L1249.3 130.0L1249.3 122.5L1249.4 122.8L1249.5 128.8L1249.5 134.1L1249.6 130.8L1249.6 136.0L1249.7 146.0L1249.7 146.6L1249.8 169.6L1249.9 174.3L1249.9 183.3L1250.0 178.1L1250.0 178.2L1250.1 176.2L1250.1 176.0L1250.2 174.6L1250.3 170.9L1250.3 171.0L1250.4 173.1L1250.4 175.8L1250.5 186.5L1250.5 190.3L1250.6 194.3L1250.7 181.9L1250.7 183.4L1250.8 188.6L1250.8 186.4L1250.9 187.8L1250.9 188.3L1251.0 188.1L1251.1 187.4L1251.1 211.2L1251.2 210.1L1251.2 215.3L1251.3 217.8L1251.3 224.0L1251.4 228.8L1251.5 222.1L1251.5 227.9L1251.6 221.0L1251.6 233.8L1251.7 230.4L1251.7 228.8L1251.8 230.7L1251.9 227.5L1251.9 229.2L1252.0 229.9L1252.0 239.6L1252.1 237.0L1252.1 235.7L1252.2 245.0L1252.2 240.6L1252.3 240.7L1252.4 254.6L1252.4 254.6L1252.5 253.2L1252.5 255.5L1252.6 261.9L1252.6 259.7L1252.7 255.8L1252.8 245.4L1252.8 245.0L1252.9 244.0L1252.9 246.9L1253.0 245.1L1253.0 247.2L1253.1 249.3L1253.1 256.7L1253.2 275.5L1253.3 280.4L1253.3 289.2L1253.4 291.2L1253.4 285.8L1253.5 282.9L1253.5 282.6L1253.6 286.1L1253.6 292.2L1253.7 287.3L1253.8 278.1L1253.8 278.3L1253.9 289.4L1253.9 283.2L1254.0 286.4L1254.0 280.6L1254.1 271.2L1254.1 275.4L1254.2 259.9L1254.3 260.2L1254.3 262.4L1254.4 263.7L1254.4 265.4L1254.5 267.9L1254.5 269.8L1254.6 266.2L1254.6 273.2L1254.7 269.4L1254.8 262.5L1254.8 258.4L1254.9 258.8L1254.9 261.0L1255.0 263.4L1255.0 262.3L1255.1 275.5L1255.1 279.0L1255.2 285.3L1255.3 285.2L1255.3 285.7L1255.4 283.7L1255.4 277.8L1255.5 283.0L1255.5 282.6L1255.6 284.7L1255.6 285.1L1255.7 303.0L1255.7 296.0L1255.8 301.2L1255.9 318.5L1255.9 320.6L1256.0 325.6L1256.2 346.3L1256.2 320.5L1256.8 302.7L1256.8 290.2L1257.2 300.2L1257.2 286.5L1257.8 285.7L1257.8 300.1L1258.2 296.2L1258.2 329.4L1258.8 324.6L1258.8 344.3L1259.2 323.3L1259.2 338.3L1259.8 325.7L1259.8 310.5L1260.2 303.4L1260.2 336.7L1260.8 345.2L1260.8 316.1L1261.2 324.8L1261.2 302.8L1261.8 378.3L1261.8 317.8L1262.2 348.1L1262.2 313.8L1262.8 305.0L1262.8 334.1L1263.2 295.1L1263.2 314.0L1263.8 293.1L1263.8 327.3L1264.2 310.9L1264.2 326.3L1264.8 339.6L1264.8 314.0L1265.2 321.2L1265.2 308.4L1265.8 312.3L1265.8 342.6L1266.2 324.9L1266.2 345.6L1266.8 346.3L1266.8 328.1L1267.2 343.8L1267.2 318.4L1267.8 331.0L1267.8 348.2L1268.2 326.9L1268.2 353.7L1268.8 339.4L1268.8 313.4L1269.2 321.2L1269.2 337.0L1269.8 337.9L1269.8 322.0L1270.2 330.8L1270.2 340.6L1270.8 326.9L1270.8 344.1L1271.2 316.8L1271.2 330.2L1271.8 324.0L1271.8 334.5L1272.2 336.1L1272.2 366.5L1272.8 371.6L1272.8 338.0L1273.2 339.2L1273.2 381.6L1273.8 361.5L1273.8 347.3L1274.2 329.6L1274.2 344.0L1274.8 329.3L1274.8 354.5L1275.2 349.2L1275.2 335.6L1275.8 358.9L1275.8 338.2L1276.2 353.4L1276.2 337.3L1276.8 372.4L1276.8 345.7L1277.2 335.2L1277.2 357.8L1277.8 357.5L1277.8 398.9L1278.2 328.8L1278.2 360.0L1278.8 352.3L1278.8 362.6L1279.2 397.2L1279.2 346.8L1279.8 346.9L1279.8 318.0L1280.2 336.0L1280.2 358.0L1280.8 336.3L1280.8 370.5L1281.2 366.6L1281.2 390.3L1281.8 372.1L1281.8 345.0L1282.2 354.0L1282.2 385.5L1282.8 409.0L1282.8 355.0L1283.2 365.8L1283.2 340.2L1283.8 340.2L1283.8 355.4L1284.2 360.1L1284.2 380.1L1284.8 352.7L1284.8 368.7L1285.2 428.2L1285.2 363.2L1285.8 388.2L1285.8 341.1L1286.2 347.7L1286.2 384.9L1286.8 371.2L1286.8 342.0L1287.2 328.8L1287.2 387.5L1287.8 373.1L1287.8 394.1L1288.2 409.7L1288.2 323.0L1288.8 329.8L1288.8 398.0L1289.2 371.7L1289.2 357.2L1289.8 384.2L1289.8 364.7L1290.2 350.7L1290.2 374.8L1290.8 388.1L1290.8 339.1L1291.2 361.5L1291.2 390.2L1291.8 386.6L1291.8 361.8L1292.2 397.9L1292.2 366.4L1292.8 352.5L1292.8 384.1L1293.2 374.9L1293.2 402.5L1293.8 372.4L1293.8 416.9L1294.2 398.9L1294.2 429.2L1294.8 431.0L1294.8 372.7L1295.2 420.7L1295.2 334.0L1295.8 405.7L1295.8 339.6L1296.2 354.5L1296.2 409.5L1296.8 361.9L1296.8 406.5L1297.2 394.4L1297.2 414.6L1297.8 415.2L1297.8 375.6L1298.2 405.5L1298.2 329.3L1298.8 328.6L1298.8 402.0L1299.2 396.8L1299.2 385.7L1299.8 387.7L1299.8 417.1L1300.2 425.1L1300.2 375.3L1300.8 375.5L1300.8 408.9L1301.2 376.6L1301.2 408.8L1301.8 406.9L1301.8 357.9L1302.2 358.7L1302.2 381.4L1302.8 385.4L1302.8 418.2L1303.2 392.0L1303.2 361.7L1303.8 353.5L1303.8 412.8L1304.2 369.9L1304.2 404.0L1304.8 416.6L1304.8 346.3L1305.2 346.2L1305.2 449.2L1305.8 375.5L1305.8 441.6L1306.2 435.7L1306.2 389.7L1306.8 380.9L1306.8 432.2L1307.2 413.0L1307.2 362.6L1307.8 378.0L1307.8 421.4L1308.2 410.2L1308.2 376.3L1308.8 382.8L1308.8 342.4L1309.2 378.1L1309.2 359.2L1309.8 411.9L1309.8 354.4L1310.2 364.8L1310.2 431.8L1310.8 445.6L1310.8 372.4L1311.2 369.0L1311.2 399.2L1311.8 397.3L1311.8 361.7L1312.2 373.6L1312.2 344.6L1312.8 354.0L1312.8 397.9L1313.2 407.9L1313.2 366.1L1313.8 376.0L1313.8 402.3L1314.2 359.8L1314.2 392.3L1314.8 389.2L1314.8 359.6L1315.2 418.9L1315.2 389.3L1315.8 353.3L1315.8 383.8L1316.2 406.4L1316.2 379.1L1316.8 360.4L1316.8 396.8L1317.2 414.4L1317.2 375.3L1317.8 375.8L1317.8 401.0L1318.2 379.0L1318.2 409.5L1318.8 370.6L1318.8 423.0L1319.2 372.6L1319.2 418.1L1319.8 350.5L1319.8 384.6L1320.2 360.7L1320.2 401.7L1320.8 392.7L1320.8 461.1L1321.2 426.6L1321.2 373.2L1321.8 392.4L1321.8 356.0L1322.2 368.4L1322.2 417.1L1322.8 451.6L1322.8 367.5L1323.2 374.6L1323.2 419.2L1323.8 440.6L1323.8 399.2L1324.2 362.8L1324.2 413.9L1324.8 424.6L1324.8 366.8L1325.2 365.8L1325.2 406.9L1325.8 361.6L1325.8 420.3L1326.2 433.8L1326.2 379.8L1326.8 389.3L1326.8 362.6L1327.2 376.6L1327.2 403.1L1327.8 375.8L1327.8 411.1L1328.2 404.9L1328.2 378.2L1328.8 400.0L1328.8 375.5L1329.2 385.9L1329.2 454.9L1329.8 394.2L1329.8 368.9L1330.2 373.4L1330.2 405.8L1330.8 409.3L1330.8 376.1L1331.2 379.2L1331.2 418.7L1331.8 398.4L1331.8 372.9L1332.2 380.9L1332.2 434.8L1332.8 381.0L1332.8 425.4L1333.2 424.8L1333.2 375.1L1333.8 371.0L1333.8 410.6L1334.2 368.1L1334.2 431.2L1334.8 428.0L1334.8 376.9L1335.2 418.1L1335.2 368.0L1335.8 362.3L1335.8 400.0L1336.2 368.0L1336.2 420.7L1336.8 419.5L1336.8 386.8L1337.2 363.5L1337.2 413.7L1337.8 419.5L1337.8 378.5L1338.2 381.7L1338.2 405.8L1338.8 438.0L1338.8 372.1L1339.2 403.7L1339.2 368.4L1339.8 370.1L1339.8 434.2L1340.2 404.9L1340.2 372.3L1340.8 411.0L1340.8 369.3L1341.2 378.7L1341.2 410.8L1341.8 427.5L1341.8 366.1L1342.2 372.2L1342.2 450.8L1342.8 426.9L1342.8 369.3L1343.2 372.1L1343.2 423.0L1343.8 375.4L1343.8 409.1L1344.2 367.7L1344.2 415.7L1344.8 414.7L1344.8 373.5L1345.2 376.0L1345.2 422.7L1345.8 443.4L1345.8 384.6L1346.2 384.2L1346.2 408.2L1346.8 395.8L1346.8 419.9L1347.2 418.1L1347.2 383.1L1347.8 402.9L1347.8 379.1L1348.2 378.0L1348.2 409.5L1348.8 415.2L1348.8 376.4L1349.2 379.0L1349.2 427.2L1349.8 423.6L1349.8 401.2L1350.2 399.0L1350.2 438.5L1350.8 397.0L1350.8 367.7L1351.2 421.4L1351.2 390.6L1351.8 377.8L1351.8 432.2L1352.2 424.6L1352.2 378.3L1352.8 419.4L1352.8 375.0L1353.2 426.7L1353.2 381.4L1353.8 385.1L1353.8 432.4L1354.2 398.7L1354.2 416.9L1354.8 447.0L1354.8 379.6L1355.2 426.9L1355.2 391.6L1355.8 366.6L1355.8 421.6L1356.2 391.0L1356.2 421.9L1356.8 424.0L1356.8 381.3L1357.2 369.2L1357.2 418.3L1357.8 375.6L1357.8 402.7L1358.2 395.9L1358.2 431.1L1358.8 419.7L1358.8 386.9L1359.2 403.2L1359.2 383.8L1359.8 381.4L1359.8 418.1L1360.2 416.7L1360.2 382.0L1360.8 374.6L1360.8 435.9L1361.2 391.8L1361.2 424.9L1361.8 419.8L1361.8 459.8L1362.2 448.1L1362.2 393.7L1362.8 379.6L1362.8 431.7L1363.2 401.8L1363.2 449.8L1363.8 429.3L1363.8 374.3L1364.2 379.8L1364.2 414.2L1364.8 442.9L1364.8 389.2L1365.2 388.9L1365.2 449.9L1365.8 448.2L1365.8 415.2L1366.2 432.7L1366.2 398.4L1366.8 418.0L1366.8 381.1L1367.2 383.5L1367.2 433.1L1367.8 392.8L1367.8 420.4L1368.2 386.5L1368.2 451.1L1368.8 446.1L1368.8 405.3L1369.2 395.8L1369.2 429.1L1369.8 422.4L1369.8 387.5L1370.2 439.2L1370.2 394.3L1370.8 365.4L1370.8 406.8L1371.2 393.3L1371.2 429.8L1371.8 446.5L1371.8 392.2L1372.2 427.6L1372.2 389.2L1372.8 434.1L1372.8 386.7L1373.2 415.7L1373.2 387.1L1373.8 439.6L1373.8 364.4L1374.2 423.1L1374.2 374.2L1374.8 391.2L1374.8 422.8L1375.2 444.0L1375.2 386.2L1375.8 427.1L1375.8 379.5L1376.2 378.8L1376.2 453.7L1376.8 421.7L1376.8 387.6L1377.2 434.6L1377.2 406.6L1377.8 396.5L1377.8 428.4L1378.2 421.9L1378.2 390.6L1378.8 410.8L1378.8 441.4L1379.2 447.0L1379.2 391.1L1379.8 366.4L1379.8 420.9L1380.2 377.7L1380.2 447.6L1380.8 439.7L1380.8 378.3L1381.2 379.6L1381.2 426.2L1381.8 413.5L1381.8 392.1L1382.2 441.5L1382.2 392.7L1382.8 395.7L1382.8 436.7L1383.2 384.6L1383.2 454.2L1383.8 397.9L1383.8 439.2L1384.2 458.7L1384.2 404.7L1384.8 450.3L1384.8 411.6L1385.2 432.7L1385.2 394.5L1385.8 386.4L1385.8 433.2L1386.2 444.6L1386.2 394.7L1386.8 441.3L1386.8 385.3L1387.2 391.6L1387.2 421.4L1387.8 401.1L1387.8 428.5L1388.2 438.1L1388.2 406.1L1388.8 434.7L1388.8 390.2L1389.2 387.7L1389.2 424.2L1389.8 434.9L1389.8 393.4L1390.2 434.0L1390.2 410.8L1390.8 429.6L1390.8 373.5L1391.2 377.1L1391.2 425.7L1391.8 394.2L1391.8 442.0L1392.2 381.3L1392.2 426.6L1392.8 424.4L1392.8 405.4L1393.2 410.4L1393.2 440.3L1393.8 428.2L1393.8 393.5L1394.2 441.6L1394.2 400.0L1394.8 437.3L1394.8 400.8L1395.2 457.9L1395.2 399.6L1395.8 453.3L1395.8 398.4L1396.2 406.2L1396.2 464.6L1396.8 457.1L1396.8 382.0L1397.2 390.3L1397.2 451.7L1397.8 452.4L1397.8 390.6L1398.2 457.7L1398.2 398.3L1398.8 395.8L1398.8 453.7L1399.2 398.2L1399.2 439.8L1399.8 385.8L1399.8 442.2L1400.2 402.9L1400.2 464.3L1400.8 402.7L1400.8 450.4L1401.2 398.4L1401.2 423.9L1401.8 405.9L1401.8 432.3L1402.2 451.5L1402.2 404.6L1402.8 479.9L1402.8 399.0L1403.2 467.5L1403.2 386.6L1403.8 387.9L1403.8 446.9L1404.2 428.4L1404.2 396.9L1404.8 440.0L1404.8 401.6L1405.2 399.7L1405.2 426.5L1405.8 383.2L1405.8 429.1L1406.2 438.1L1406.2 395.1L1406.8 393.6L1406.8 427.7L1407.2 463.0L1407.2 418.2L1407.8 433.7L1407.8 385.7L1408.2 436.4L1408.2 400.2L1408.8 444.7L1408.8 399.7L1409.2 457.0L1409.2 399.6L1409.8 409.8L1409.8 446.7L1410.2 442.0L1410.2 412.5L1410.8 416.5L1410.8 441.2L1411.2 421.8L1411.2 400.1L1411.8 431.0L1411.8 395.3L1412.2 395.9L1412.2 450.8L1412.8 402.9L1412.8 467.8L1413.2 410.7L1413.2 449.7L1413.8 446.3L1413.8 397.3L1414.2 392.6L1414.2 436.0L1414.8 437.1L1414.8 404.3L1415.2 404.0L1415.2 458.6L1415.8 413.5L1415.8 451.9L1416.2 463.7L1416.2 408.3L1416.8 436.3L1416.8 393.5L1417.2 449.2L1417.2 403.5L1417.8 403.8L1417.8 436.9L1418.2 439.9L1418.2 399.5L1418.8 406.3L1418.8 463.2L1419.2 404.6L1419.2 473.4L1419.8 397.8L1419.8 466.7L1420.2 454.9L1420.2 407.4L1420.8 445.7L1420.8 419.2L1421.2 434.2L1421.2 409.9L1421.8 416.9L1421.8 479.2L1422.2 412.9L1422.2 455.0L1422.8 447.4L1422.8 408.5L1423.2 454.9L1423.2 396.5L1423.8 394.2L1423.8 452.1L1424.2 470.1L1424.2 417.0L1424.8 412.2L1424.8 458.1L1425.2 445.2L1425.2 405.4L1425.8 414.1L1425.8 457.4L1426.2 449.4L1426.2 408.6L1426.8 468.8L1426.8 420.7L1427.2 417.6L1427.2 470.8L1427.8 418.6L1427.8 457.7L1428.2 482.0L1428.2 404.2L1428.8 460.6L1428.8 405.7L1429.2 418.0L1429.2 457.8L1429.8 423.3L1429.8 477.5L1430.2 422.9L1430.2 451.6L1430.8 464.3L1430.8 413.0L1431.2 469.5L1431.2 417.9L1431.8 473.2L1431.8 392.0L1432.2 463.8L1432.2 409.6L1432.8 419.4L1432.8 516.2L1433.2 409.4L1433.2 463.3L1433.8 398.1L1433.8 465.3L1434.2 414.3L1434.2 475.6L1434.8 425.0L1434.8 469.2L1435.2 457.3L1435.2 416.4L1435.8 409.2L1435.8 462.2L1436.2 465.2L1436.2 416.2L1436.8 482.1L1436.8 402.2L1437.2 490.9L1437.2 424.9L1437.8 473.4L1437.8 429.6L1438.2 519.4L1438.2 410.5L1438.8 420.9L1438.8 468.4L1439.2 412.8L1439.2 468.8L1439.8 488.0L1439.8 432.8L1440.2 469.0L1440.2 415.6L1440.8 476.1L1440.8 425.2L1441.2 488.1L1441.2 415.4L1441.8 415.9L1441.8 459.3L1442.2 430.2L1442.2 481.8L1442.8 426.1L1442.8 487.2L1443.2 480.5L1443.2 428.2L1443.8 429.0L1443.8 469.6L1444.2 493.4L1444.2 416.2L1444.8 417.1L1444.8 461.6L1445.2 419.6L1445.2 493.8L1445.8 427.9L1445.8 470.2L1446.2 405.9L1446.2 474.6L1446.8 454.6L1446.8 421.1L1447.2 423.8L1447.2 481.6L1447.8 490.6L1447.8 438.2L1448.2 429.9L1448.2 470.7L1448.8 484.0L1448.8 431.0L1449.2 438.5L1449.2 492.6L1449.8 456.4L1449.8 410.1L1450.2 477.3L1450.2 421.9L1450.8 470.5L1450.8 429.4L1451.2 427.4L1451.2 473.6L1451.8 462.1L1451.8 436.1L1452.2 453.1L1452.2 505.3L1452.8 426.0L1452.8 470.8L1453.2 429.9L1453.2 511.6L1453.8 489.2L1453.8 435.9L1454.2 519.6L1454.2 424.4L1454.8 475.7L1454.8 414.3L1455.2 413.2L1455.2 503.3L1455.8 430.3L1455.8 482.5L1456.2 424.9L1456.2 479.3L1456.8 436.2L1456.8 485.1L1457.2 520.5L1457.2 436.7L1457.8 435.7L1457.8 488.8L1458.2 504.1L1458.2 434.5L1458.8 509.1L1458.8 436.7L1459.2 489.1L1459.2 432.1L1459.8 425.5L1459.8 477.4L1460.2 431.4L1460.2 498.9L1460.8 492.3L1460.8 434.6L1461.2 430.0L1461.2 494.1L1461.8 413.3L1461.8 508.6L1462.2 443.1L1462.2 507.4L1462.8 439.9L1462.8 505.2L1463.2 478.8L1463.2 440.1L1463.8 496.9L1463.8 444.1L1464.2 440.6L1464.2 524.7L1464.8 488.9L1464.8 444.3L1465.2 442.0L1465.2 511.4L1465.8 505.2L1465.8 427.3L1466.2 498.3L1466.2 430.7L1466.8 441.8L1466.8 509.0L1467.2 444.4L1467.2 495.6L1467.8 494.7L1467.8 442.8L1468.2 432.1L1468.2 481.6L1468.8 502.2L1468.8 438.7L1469.2 504.6L1469.2 414.5L1469.8 444.1L1469.8 490.9L1470.2 439.3L1470.2 481.5L1470.8 441.4L1470.8 497.3L1471.2 491.8L1471.2 444.8L1471.8 508.1L1471.8 459.3L1472.2 495.9L1472.2 450.8L1472.8 513.6L1472.8 441.2L1473.2 495.6L1473.2 446.7L1473.8 435.0L1473.8 492.6L1474.2 500.8L1474.2 460.9L1474.8 432.4L1474.8 478.8L1475.2 495.0L1475.2 429.2L1475.8 502.5L1475.8 446.2L1476.2 515.0L1476.2 440.3L1476.8 454.1L1476.8 487.7L1477.2 498.2L1477.2 435.6L1477.8 454.8L1477.8 512.1L1478.2 502.3L1478.2 457.5L1478.8 455.7L1478.8 503.0L1479.2 513.8L1479.2 443.2L1479.8 530.5L1479.8 433.0L1480.2 449.7L1480.2 485.8L1480.8 450.2L1480.8 509.4L1481.2 494.2L1481.2 454.2L1481.8 495.9L1481.8 456.7L1482.2 500.2L1482.2 449.3L1482.8 510.4L1482.8 439.8L1483.2 493.6L1483.2 449.0L1483.8 520.5L1483.8 455.2L1484.2 442.0L1484.2 501.5L1484.8 508.9L1484.8 455.3L1485.2 506.9L1485.2 445.5L1485.8 527.1L1485.8 447.5L1486.2 446.7L1486.2 515.1L1486.8 508.6L1486.8 439.0L1487.2 520.7L1487.2 458.2L1487.8 436.6L1487.8 509.1L1488.2 451.5L1488.2 498.2L1488.8 448.5L1488.8 482.3L1489.2 452.4L1489.2 512.5L1489.8 456.3L1489.8 508.4L1490.2 452.8L1490.2 539.3L1490.8 449.6L1490.8 509.7L1491.2 450.8L1491.2 511.7L1491.8 449.9L1491.8 516.2L1492.2 448.5L1492.2 513.4L1492.8 542.2L1492.8 462.1L1493.2 460.7L1493.2 539.0L1493.8 452.6L1493.8 512.9L1494.2 449.1L1494.2 514.6L1494.8 452.7L1494.8 510.5L1495.2 521.3L1495.2 456.4L1495.8 427.9L1495.8 511.4L1496.2 457.9L1496.2 507.3L1496.8 466.1L1496.8 544.1L1497.2 511.7L1497.2 459.9L1497.8 456.2L1497.8 509.4L1498.2 469.5L1498.2 527.3L1498.8 513.2L1498.8 457.8L1499.2 460.5L1499.2 514.9L1499.8 513.6L1499.8 443.9L1500.2 443.0L1500.2 502.4L1500.8 518.4L1500.8 451.1L1501.2 455.8L1501.2 526.6L1501.8 456.6L1501.8 506.5L1502.2 526.5L1502.2 459.6L1502.8 459.5L1502.8 517.7L1503.2 531.5L1503.2 464.4L1503.8 468.6L1503.8 528.5L1504.2 517.2L1504.2 465.2L1504.8 466.7L1504.8 503.0L1505.2 536.2L1505.2 475.7L1505.8 524.2L1505.8 464.5L1506.2 461.0L1506.2 544.2L1506.8 463.7L1506.8 517.1L1507.2 527.9L1507.2 469.8L1507.8 534.9L1507.8 461.3L1508.2 546.0L1508.2 466.4L1508.8 527.7L1508.8 463.8L1509.2 467.2L1509.2 503.0L1509.8 464.8L1509.8 522.9L1510.2 516.4L1510.2 446.1L1510.8 476.2L1510.8 518.7L1511.2 530.1L1511.2 479.8L1511.8 468.8L1511.8 546.0L1512.2 470.2L1512.2 526.1L1512.8 530.1L1512.8 467.5L1513.2 456.9L1513.2 516.1L1513.8 473.4L1513.8 529.9L1514.2 474.6L1514.2 516.1L1514.8 479.7L1514.8 512.3L1515.2 533.4L1515.2 468.8L1515.8 481.1L1515.8 534.5L1516.2 515.9L1516.2 463.7L1516.8 534.9L1516.8 479.0L1517.2 469.9L1517.2 523.3L1517.8 476.1L1517.8 538.8L1518.2 532.5L1518.2 469.9L1518.8 475.8L1518.8 528.1L1519.2 521.5L1519.2 472.5L1519.8 527.2L1519.8 474.8L1520.2 479.7L1520.2 544.4L1520.8 548.6L1520.8 466.1L1521.2 464.2L1521.2 562.3L1521.8 520.7L1521.8 469.0L1522.2 468.7L1522.2 544.5L1522.8 535.6L1522.8 481.5L1523.2 553.7L1523.2 468.0L1523.8 547.6L1523.8 463.2L1524.2 458.1L1524.2 539.2L1524.8 534.4L1524.8 492.2L1525.2 477.7L1525.2 542.6L1525.8 541.0L1525.8 462.1L1526.2 540.7L1526.2 473.9L1526.8 478.6L1526.8 534.8L1527.2 470.5L1527.2 530.4L1527.8 473.8L1527.8 538.2L1528.2 485.9L1528.2 531.5L1528.8 473.1L1528.8 560.6L1529.2 484.4L1529.2 547.3L1529.8 530.2L1529.8 480.9L1530.2 560.2L1530.2 458.2L1530.8 474.1L1530.8 548.5L1531.2 582.5L1531.2 486.0L1531.8 489.8L1531.8 535.3L1532.2 480.1L1532.2 528.9L1532.8 543.7L1532.8 479.9L1533.2 464.8L1533.2 537.7L1533.8 485.1L1533.8 557.1L1534.2 481.8L1534.2 558.0L1534.8 557.7L1534.8 464.2L1535.2 479.3L1535.2 558.4L1535.8 546.4L1535.8 491.2L1536.2 470.8L1536.2 541.8L1536.8 482.4L1536.8 572.1L1537.2 550.1L1537.2 500.0L1537.8 470.2L1537.8 543.8L1538.2 533.2L1538.2 479.0L1538.8 482.2L1538.8 558.6L1539.2 554.0L1539.2 472.9L1539.8 487.3L1539.8 564.3L1540.2 492.6L1540.2 543.6L1540.8 574.7L1540.8 481.2L1541.2 485.9L1541.2 560.8L1541.8 478.6L1541.8 559.1L1542.2 573.9L1542.2 478.9L1542.8 545.9L1542.8 474.0L1543.2 478.7L1543.2 555.4L1543.8 493.2L1543.8 557.4L1544.2 497.0L1544.2 549.4L1544.8 486.5L1544.8 551.0L1545.2 490.1L1545.2 549.2L1545.8 496.8L1545.8 561.5L1546.2 560.8L1546.2 499.0L1546.8 542.2L1546.8 487.3L1547.2 575.5L1547.2 492.3L1547.8 492.9L1547.8 567.0L1548.2 552.0L1548.2 497.8L1548.8 556.4L1548.8 492.9L1549.2 488.8L1549.2 566.8L1549.8 553.9L1549.8 485.4L1550.2 572.1L1550.2 485.2L1550.8 493.1L1550.8 560.4L1551.2 565.4L1551.2 489.6L1551.8 499.5L1551.8 556.4L1552.2 505.0L1552.2 561.3L1552.8 563.1L1552.8 495.6L1553.2 507.0L1553.2 583.6L1553.8 491.2L1553.8 575.1L1554.2 497.6L1554.2 558.0L1554.8 496.4L1554.8 584.2L1555.2 566.1L1555.2 502.6L1555.8 552.2L1555.8 494.8L1556.2 491.2L1556.2 566.1L1556.8 502.1L1556.8 567.0L1557.2 496.5L1557.2 603.8L1557.8 506.9L1557.8 561.5L1558.2 566.5L1558.2 497.3L1558.8 567.5L1558.8 508.5L1559.2 508.9L1559.2 583.8L1559.8 500.9L1559.8 579.7L1560.2 510.1L1560.2 575.4L1560.8 565.3L1560.8 499.5L1561.2 564.6L1561.2 503.7L1561.8 588.7L1561.8 512.6L1562.2 576.6L1562.2 506.0L1562.8 501.9L1562.8 583.7L1563.2 566.0L1563.2 506.3L1563.8 522.7L1563.8 581.0L1564.2 504.5L1564.2 582.7L1564.8 507.2L1564.8 571.3L1565.2 516.6L1565.2 584.0L1565.8 569.0L1565.8 503.3L1566.2 507.2L1566.2 604.3L1566.8 595.3L1566.8 502.5L1567.2 575.8L1567.2 510.8L1567.8 501.0L1567.8 600.0L1568.2 584.4L1568.2 510.9L1568.8 505.9L1568.8 610.7L1569.2 579.0L1569.2 516.7L1569.8 515.0L1569.8 560.8L1570.2 594.9L1570.2 513.0L1570.8 512.5L1570.8 573.6L1571.2 506.1L1571.2 577.7L1571.8 584.5L1571.8 503.1L1572.2 516.6L1572.2 591.9L1572.8 514.8L1572.8 601.9L1573.2 603.5L1573.2 523.5L1573.8 530.1L1573.8 583.4L1574.2 599.1L1574.2 525.8L1574.8 515.4L1574.8 601.0L1575.2 597.9L1575.2 517.3L1575.8 511.1L1575.8 603.0L1576.2 604.7L1576.2 518.1L1576.8 585.8L1576.8 524.0L1577.2 588.3L1577.2 510.2L1577.8 514.0L1577.8 613.4L1578.2 505.1L1578.2 594.0L1578.8 600.9L1578.8 514.5L1579.2 524.7L1579.2 606.9L1579.8 600.8L1579.8 521.9L1580.2 527.8L1580.2 604.8L1580.8 597.2L1580.8 529.4L1581.2 597.9L1581.2 530.2L1581.8 605.6L1581.8 522.0L1582.2 517.9L1582.2 597.7L1582.8 641.6L1582.8 534.5L1583.2 602.5L1583.2 528.0L1583.8 533.4L1583.8 598.0L1584.2 531.2L1584.2 591.8L1584.8 517.6L1584.8 605.5L1585.2 539.7L1585.2 598.4L1585.8 541.9L1585.8 607.9L1586.2 531.4L1586.2 606.3L1586.8 537.2L1586.8 617.1L1587.2 603.8L1587.2 523.7L1587.8 527.6L1587.8 610.6L1588.2 542.5L1588.2 607.2L1588.8 624.6L1588.8 526.6L1589.2 610.8L1589.2 537.0L1589.8 599.4L1589.8 536.8L1590.2 610.6L1590.2 536.9L1590.8 536.1L1590.8 652.9L1591.2 524.6L1591.2 598.1L1591.8 521.4L1591.8 610.3L1592.2 606.0L1592.2 525.5L1592.8 534.1L1592.8 627.8L1593.2 619.3L1593.2 543.5L1593.8 601.6L1593.8 538.9L1594.2 617.2L1594.2 541.4L1594.8 625.3L1594.8 534.7L1595.2 642.8L1595.2 542.7L1595.8 616.1L1595.8 521.9L1596.2 618.1L1596.2 546.7L1596.8 541.7L1596.8 619.1L1597.2 544.4L1597.2 621.4L1597.8 613.1L1597.8 547.3L1598.2 542.6L1598.2 645.6L1598.8 611.2L1598.8 533.3L1599.2 550.3L1599.2 634.5L1599.8 625.3L1599.8 533.0L1600.2 537.0L1600.2 607.4L1600.8 614.6L1600.8 552.8L1601.2 537.7L1601.2 663.1L1601.8 626.3L1601.8 545.6L1602.2 558.6L1602.2 617.8L1602.8 634.8L1602.8 546.1L1603.2 549.8L1603.2 618.0L1603.8 625.1L1603.8 558.6L1604.2 561.3L1604.2 639.1L1604.8 554.3L1604.8 625.9L1605.2 654.5L1605.2 553.8L1605.8 543.2L1605.8 631.5L1606.2 552.0L1606.2 643.1L1606.8 563.1L1606.8 632.7L1607.2 559.3L1607.2 630.2L1607.8 649.2L1607.8 558.9L1608.2 555.0L1608.2 629.2L1608.8 637.2L1608.8 557.3L1609.2 640.1L1609.2 556.4L1609.8 627.8L1609.8 553.0L1610.2 556.5L1610.2 639.3L1610.8 637.8L1610.8 562.2L1611.2 564.3L1611.2 639.4L1611.8 558.8L1611.8 644.2L1612.2 558.4L1612.2 645.1L1612.8 633.9L1612.8 562.8L1613.2 566.6L1613.2 631.9L1613.8 660.4L1613.8 558.3L1614.2 566.4L1614.2 656.2L1614.8 638.6L1614.8 562.0L1615.2 569.5L1615.2 650.1L1615.8 564.5L1615.8 654.9L1616.2 663.6L1616.2 567.3L1616.8 575.5L1616.8 643.9L1617.2 569.8L1617.2 672.8L1617.8 653.9L1617.8 565.4L1618.2 649.5L1618.2 566.9L1618.8 575.4L1618.8 667.0L1619.2 564.4L1619.2 647.1L1619.8 657.5L1619.8 575.9L1620.2 580.1L1620.2 682.3L1620.8 574.6L1620.8 665.8L1621.2 656.0L1621.2 571.3L1621.8 568.3L1621.8 665.2L1622.2 670.7L1622.2 570.7L1622.8 661.4L1622.8 570.9L1623.2 666.7L1623.2 561.3L1623.8 580.4L1623.8 653.8L1624.2 650.8L1624.2 582.8L1624.8 577.8L1624.8 668.0L1625.2 659.6L1625.2 580.5L1625.8 576.9L1625.8 648.2L1626.2 659.4L1626.2 572.7L1626.8 573.0L1626.8 645.6L1627.2 578.8L1627.2 656.4L1627.8 670.0L1627.8 592.5L1628.2 583.2L1628.2 668.0L1628.8 602.0L1628.8 665.3L1629.2 593.0L1629.2 669.2L1629.8 595.5L1629.8 664.5L1630.2 667.2L1630.2 585.0L1630.8 591.6L1630.8 652.1L1631.2 584.1L1631.2 665.9L1631.8 676.8L1631.8 594.5L1632.2 591.2L1632.2 680.8L1632.8 684.1L1632.8 595.6L1633.2 670.4L1633.2 590.6L1633.8 671.8L1633.8 593.4L1634.2 596.5L1634.2 662.6L1634.8 600.0L1634.8 681.7L1635.2 595.7L1635.2 663.2L1635.8 666.4L1635.8 589.7L1636.2 604.8L1636.2 671.0L1636.8 676.8L1636.8 590.8L1637.2 591.1L1637.2 668.2L1637.8 683.6L1637.8 595.9L1638.2 593.3L1638.2 667.8L1638.8 583.9L1638.8 664.9L1639.2 603.9L1639.2 677.2L1639.8 598.6L1639.8 673.3L1640.2 598.5L1640.2 696.4L1640.8 679.0L1640.8 608.3L1641.2 680.9L1641.2 609.7L1641.8 593.7L1641.8 681.3L1642.2 602.3L1642.2 696.5L1642.8 596.3L1642.8 672.0L1643.2 686.8L1643.2 609.0L1643.8 602.4L1643.8 698.4L1644.2 611.3L1644.2 683.0L1644.8 693.0L1644.8 609.7L1645.2 608.3L1645.2 688.6L1645.8 684.7L1645.8 606.8L1646.2 615.6L1646.2 687.3L1646.8 611.0L1646.8 715.4L1647.2 614.8L1647.2 701.6L1647.8 609.3L1647.8 683.6L1648.2 605.2L1648.2 712.6L1648.8 696.2L1648.8 612.3L1649.2 616.3L1649.2 694.0L1649.8 609.9L1649.8 682.4L1650.2 693.0L1650.2 615.9L1650.8 610.6L1650.8 696.3L1651.2 708.9L1651.2 619.4L1651.8 695.5L1651.8 622.4L1652.2 698.0L1652.2 610.6L1652.8 609.0L1652.8 696.6L1653.2 601.7L1653.2 695.5L1653.8 690.8L1653.8 616.1L1654.2 694.1L1654.2 621.3L1654.8 625.4L1654.8 693.6L1655.2 698.5L1655.2 622.6L1655.8 617.0L1655.8 703.8L1656.2 702.0L1656.2 612.2L1656.8 703.1L1656.8 627.8L1657.2 708.4L1657.2 623.6L1657.8 690.6L1657.8 611.6L1658.2 622.7L1658.2 715.1L1658.8 698.5L1658.8 617.0L1659.2 617.2L1659.2 714.2L1659.8 693.4L1659.8 626.1L1660.2 619.9L1660.2 721.0L1660.8 619.1L1660.8 710.9L1661.2 717.7L1661.2 623.9L1661.8 625.9L1661.8 703.3L1662.2 618.1L1662.2 701.8L1662.8 632.0L1662.8 719.4L1663.2 631.6L1663.2 719.1L1663.8 722.7L1663.8 625.0L1664.2 641.3L1664.2 706.3L1664.8 706.2L1664.8 624.6L1665.2 739.9L1665.2 624.3L1665.8 631.2L1665.8 723.1L1666.2 619.3L1666.2 709.3L1666.8 703.6L1666.8 632.6L1667.2 628.1L1667.2 729.1L1667.8 716.3L1667.8 633.8L1668.2 628.6L1668.2 717.3L1668.8 743.3L1668.8 636.5L1669.2 637.7L1669.2 718.7L1669.8 645.3L1669.8 736.8L1670.2 740.4L1670.2 642.8L1670.8 633.6L1670.8 726.5L1671.2 740.5L1671.2 629.9L1671.8 717.4L1671.8 635.7L1672.2 740.3L1672.2 647.2L1672.8 717.6L1672.8 642.1L1673.2 636.5L1673.2 721.5L1673.8 725.2L1673.8 655.6L1674.2 724.8L1674.2 646.1L1674.8 636.3L1674.8 725.1L1675.2 762.4L1675.2 644.8L1675.8 737.4L1675.8 650.6L1676.2 730.7L1676.2 647.2L1676.8 643.0L1676.8 733.0L1677.2 645.9L1677.2 747.8L1677.8 741.5L1677.8 640.6L1678.2 739.9L1678.2 649.0L1678.8 726.8L1678.8 654.5L1679.2 655.3L1679.2 734.5L1679.8 739.3L1679.8 644.4L1680.2 734.3L1680.2 652.7L1680.8 749.6L1680.8 654.8L1681.2 738.4L1681.2 647.9L1681.8 651.9L1681.8 748.6L1682.2 658.3L1682.2 734.7L1682.8 654.5L1682.8 763.1L1683.2 662.0L1683.2 739.0L1683.8 658.5L1683.8 757.8L1684.2 765.5L1684.2 661.4L1684.8 747.6L1684.8 659.2L1685.2 667.2L1685.2 761.4L1685.8 642.5L1685.8 747.1L1686.2 746.6L1686.2 670.6L1686.8 765.2L1686.8 666.3L1687.2 662.0L1687.2 745.8L1687.8 761.5L1687.8 671.8L1688.2 755.9L1688.2 658.7L1688.8 666.2L1688.8 755.1L1689.2 743.0L1689.2 666.2L1689.8 763.1L1689.8 666.9L1690.2 776.7L1690.2 665.9L1690.8 670.9L1690.8 750.9L1691.2 758.8L1691.2 674.4L1691.8 777.9L1691.8 680.2L1692.2 787.9L1692.2 673.2L1692.8 763.3L1692.8 681.2L1693.2 771.7L1693.2 680.0L1693.8 675.3L1693.8 798.0L1694.2 755.0L1694.2 676.6L1694.8 766.0L1694.8 682.5L1695.2 775.2L1695.2 668.7L1695.8 676.5L1695.8 758.0L1696.2 680.4L1696.2 780.5L1696.8 686.3L1696.8 756.1L1697.2 679.9L1697.2 760.0L1697.8 681.1L1697.8 768.8L1698.2 778.3L1698.2 669.9L1698.8 674.6L1698.8 770.0L1699.2 756.6L1699.2 684.1L1699.8 767.2L1699.8 696.5L1700.2 685.4L1700.2 783.2L1700.8 682.4L1700.8 770.3L1701.2 678.7L1701.2 796.2L1701.8 794.5L1701.8 685.1L1702.2 762.3L1702.2 696.0L1702.8 770.7L1702.8 697.9L1703.2 774.4L1703.2 677.1L1703.8 701.4L1703.8 792.1L1704.2 778.4L1704.2 684.5L1704.8 769.4L1704.8 687.0L1705.2 774.9L1705.2 692.9L1705.8 693.9L1705.8 773.1L1706.2 689.5L1706.2 810.9L1706.8 691.9L1706.8 778.8L1707.2 784.6L1707.2 702.5L1707.8 691.4L1707.8 777.3L1708.2 794.3L1708.2 700.5L1708.8 787.0L1708.8 704.1L1709.2 793.8L1709.2 692.3L1709.8 707.0L1709.8 789.7L1710.2 782.9L1710.2 700.0L1710.8 698.1L1710.8 816.6L1711.2 773.5L1711.2 703.0L1711.8 692.3L1711.8 788.5L1712.2 698.3L1712.2 793.6L1712.8 701.7L1712.8 817.5L1713.2 792.6L1713.2 701.2L1713.8 703.1L1713.8 790.4L1714.2 817.7L1714.2 705.8L1714.8 796.0L1714.8 702.8L1715.2 705.8L1715.2 828.1L1715.8 711.3L1715.8 790.9L1716.2 796.6L1716.2 716.5L1716.8 784.4L1716.8 697.1L1717.2 699.8L1717.2 799.8L1717.8 801.9L1717.8 720.8L1718.2 799.7L1718.2 717.5L1718.8 818.4L1718.8 709.4L1719.2 809.1L1719.2 720.0L1719.8 801.7L1719.8 712.1L1720.2 812.2L1720.2 713.8L1720.8 810.5L1720.8 725.4L1721.2 729.7L1721.2 794.5L1721.8 815.9L1721.8 711.5L1722.2 718.6L1722.2 810.2L1722.8 807.9L1722.8 723.4L1723.2 721.3L1723.2 806.0L1723.8 724.8L1723.8 816.6L1724.2 814.9L1724.2 718.4L1724.8 727.4L1724.8 821.6L1725.2 814.4L1725.2 724.2L1725.8 725.4L1725.8 832.7L1726.2 822.2L1726.2 729.1L1726.8 809.2L1726.8 729.9L1727.2 728.0L1727.2 804.4L1727.8 810.7L1727.8 736.0L1728.2 829.9L1728.2 728.8L1728.8 733.9L1728.8 816.6L1729.2 813.3L1729.2 735.1L1729.8 740.6L1729.8 819.0L1730.2 833.5L1730.2 727.3L1730.8 739.5L1730.8 820.9L1731.2 806.9L1731.2 740.6L1731.8 735.1L1731.8 826.1L1732.2 737.7L1732.2 820.8L1732.8 741.7L1732.8 827.5L1733.2 743.5L1733.2 845.8L1733.8 738.6L1733.8 833.1L1734.2 827.7L1734.2 739.4L1734.8 841.3L1734.8 742.6L1735.2 740.6L1735.2 834.6L1735.8 839.0L1735.8 740.8L1736.2 745.8L1736.2 830.9L1736.8 855.9L1736.8 747.6L1737.2 861.7L1737.2 737.7L1737.8 754.1L1737.8 849.1L1738.2 747.8L1738.2 852.9L1738.8 759.7L1738.8 850.9L1739.2 864.4L1739.2 759.7L1739.8 853.2L1739.8 753.1L1740.2 756.7L1740.2 865.1L1740.8 749.6L1740.8 845.9L1741.2 760.5L1741.2 850.8L1741.8 852.3L1741.8 766.5L1742.2 860.4L1742.2 764.6L1742.8 869.0L1742.8 765.7L1743.2 760.3L1743.2 861.7L1743.8 861.9L1743.8 755.1L1744.2 747.1L1744.2 887.1L1744.8 767.5L1744.8 857.1L1745.2 772.4L1745.2 862.6L1745.8 770.6L1745.8 894.1L1746.2 764.5L1746.2 867.3L1746.8 774.5L1746.8 875.1L1747.2 864.6L1747.2 759.5L1747.8 888.8L1747.8 773.3L1748.2 865.9L1748.2 773.1L1748.8 879.9L1748.8 780.0L1749.2 789.8L1749.2 876.4L1749.8 777.7L1749.8 901.5L1750.2 884.7L1750.2 784.4L1750.8 787.7L1750.8 889.9L1751.2 874.9L1751.2 776.9L1751.8 787.0L1751.8 890.8L1752.2 787.6L1752.2 873.7L1752.8 786.4L1752.8 883.3L1753.2 885.0L1753.2 783.7L1753.8 879.2L1753.8 787.9L1754.2 792.8L1754.2 881.2L1754.8 877.3L1754.8 783.6L1755.2 784.9L1755.2 895.8L1755.8 782.7L1755.8 903.1L1756.2 786.7L1756.2 883.9L1756.8 880.2L1756.8 790.4L1757.2 887.8L1757.2 796.8L1757.8 887.4L1757.8 804.0L1758.2 796.7L1758.2 908.0L1758.8 897.2L1758.8 798.4L1759.2 786.5L1759.2 894.5L1759.8 898.7L1759.8 782.9L1760.2 792.4L1760.2 887.9L1760.8 891.9L1760.8 805.2L1761.2 879.1L1761.2 809.1L1761.8 885.4L1761.8 794.0L1762.2 915.1L1762.2 796.9L1762.8 807.8L1762.8 911.2L1763.2 891.1L1763.2 806.0L1763.8 797.2L1763.8 894.0L1764.2 891.6L1764.2 802.1L1764.8 893.7L1764.8 806.2L1765.2 805.5L1765.2 889.1L1765.8 814.5L1765.8 907.4L1766.2 922.8L1766.2 809.8L1766.8 906.0L1766.8 814.6L1767.2 903.8L1767.2 801.5L1767.8 913.0L1767.8 808.0L1768.2 903.3L1768.2 809.4L1768.8 818.4L1768.8 919.5L1769.2 822.3L1769.2 931.2L1769.8 918.2L1769.8 813.6L1770.2 823.5L1770.2 909.5L1770.8 911.6L1770.8 817.5L1771.2 912.4L1771.2 819.5L1771.8 902.7L1771.8 824.8L1772.2 823.9L1772.2 918.7L1772.8 831.2L1772.8 921.7L1773.2 827.9L1773.2 905.4L1773.8 827.2L1773.8 922.1L1774.2 836.0L1774.2 925.2L1774.8 830.7L1774.8 921.3L1775.2 939.8L1775.2 821.1L1775.8 918.5L1775.8 825.6L1776.2 921.5L1776.2 830.0L1776.8 830.8L1776.8 933.1L1777.2 928.3L1777.2 836.3L1777.8 945.5L1777.8 839.0L1778.2 845.8L1778.2 925.0L1778.8 929.7L1778.8 828.5L1779.2 925.7L1779.2 844.4L1779.8 939.9L1779.8 831.1L1780.2 845.1L1780.2 941.1L1780.8 925.2L1780.8 841.5L1781.2 922.4L1781.2 840.7L1781.8 949.7L1781.8 835.6L1782.2 848.5L1782.2 930.9L1782.8 960.1L1782.8 844.0L1783.2 930.2L1783.2 846.3L1783.8 847.2L1783.8 948.8L1784.2 934.1L1784.2 835.7L1784.8 837.2L1784.8 925.7L1785.2 843.6L1785.2 935.3L1785.8 938.3L1785.8 849.9L1786.2 847.3L1786.2 926.3L1786.8 857.2L1786.8 933.0L1787.2 852.1L1787.2 935.2L1787.8 847.0L1787.8 931.1L1788.2 936.9L1788.2 845.3L1788.8 933.1L1788.8 852.7L1789.2 944.9L1789.2 843.1L1789.8 942.8L1789.8 848.3L1790.2 942.9L1790.2 854.3L1790.8 944.7L1790.8 853.4L1791.2 854.4L1791.2 951.8" stroke="#0000ff" stroke-width="2.6" stroke-dasharray="32.4 10.8" stroke-dashoffset="14.1"/>
<path d="M1248.9 115V127M1248.9 129.5V300M1388.6 347V380" stroke="#0000ff" stroke-width="2.4"/>
<path d="M1281.2 492.9V517.4M1284.8 507.8V527.3M1286.8 503.9V533.3M1287.8 510.9V535.8M1289.2 514.5V552.2M1290.2 530.7V577.3M1291.2 543.9V551.8M1292.2 535.8V585.5M1293.2 530.8V563.7M1294.2 526.9V547.9M1295.2 522.5V545.5M1296.2 521.9V557.3M1297.2 537.6V560.1M1298.2 525.5V590.3M1299.2 546.8V563.8M1300.2 530.4V556.3M1301.2 535.4V543.5M1302.2 549.4V560.5M1303.2 516.8V551.9M1304.2 534.7V546.9M1305.2 549.8V583.6M1306.2 540.2V583.5M1307.2 558.8V585.2M1308.2 530.1V590.9M1309.2 525.8V562.7M1310.2 539.9V558.4M1311.2 515.8V544.4M1312.2 533.1V556.5M1313.2 546.9V588.4M1314.2 549.2V570.8M1315.2 540.8V575.3M1316.2 523.7V556.9M1317.2 534.9V569.1M1318.2 539.0V568.1M1319.2 543.7V602.0M1320.2 543.8V568.1M1321.2 541.5V571.4M1322.2 533.3V565.6M1323.2 541.2V582.4M1324.2 551.6V566.7M1325.2 548.4V577.5M1326.2 548.1V565.0M1327.2 538.7V558.7M1328.2 539.2V563.3M1329.2 535.4V565.1M1330.2 559.5V577.3M1331.2 523.8V576.3M1332.2 534.6V555.2M1333.2 542.0V568.4M1334.2 538.0V573.5M1335.2 545.7V558.5M1336.2 538.4V576.1M1337.2 549.1V592.4M1338.2 558.4V580.5M1339.2 535.1V560.8M1340.2 555.1V577.1M1341.2 569.3V587.5M1342.2 542.5V590.3M1343.2 539.2V582.2M1344.2 536.1V569.9M1345.2 544.4V580.8M1346.2 562.0V579.1M1347.2 541.2V589.8M1348.2 550.0V563.3M1349.2 549.4V583.6M1350.2 541.6V590.4M1351.2 548.5V575.8M1352.2 559.1V575.5M1353.2 562.2V594.3M1354.2 559.2V572.5M1355.2 566.8V580.8M1356.2 557.8V585.2M1357.2 560.8V599.3M1358.2 583.0V631.5M1359.2 541.4V596.3M1360.2 553.8V575.0M1361.2 545.0V562.7M1362.2 558.0V582.5M1363.2 557.3V583.7M1364.2 542.2V589.9M1365.2 555.1V573.2M1366.2 541.9V577.1M1367.2 579.9V599.3M1368.2 556.9V595.3M1369.2 541.2V581.7M1370.2 546.1V582.0M1371.2 587.4V609.4M1372.2 558.0V593.3M1373.2 557.6V585.5M1374.2 562.1V586.5M1375.2 560.6V594.0M1376.2 554.5V581.2M1377.2 545.2V601.4M1378.2 564.1V606.2M1379.2 567.9V597.6M1380.2 572.6V642.1M1381.2 551.3V594.7M1382.2 549.4V599.6M1383.2 570.8V595.2M1384.2 573.5V591.1M1385.2 578.1V612.3M1386.2 553.3V608.5M1387.2 564.5V622.9M1388.2 572.9V599.1M1389.2 569.1V596.3M1390.2 564.1V606.1M1391.2 582.8V593.7M1392.2 565.0V592.1M1393.2 577.8V627.1M1394.2 583.9V606.2M1395.2 558.6V606.6M1396.2 566.8V604.9M1397.2 563.5V591.9M1398.2 570.4V604.5M1399.2 580.0V612.4M1400.2 574.0V614.9M1401.2 577.8V609.5M1402.2 589.8V618.3M1403.2 580.7V614.2M1404.2 586.1V604.5M1405.2 577.6V607.6M1406.2 583.5V610.4M1407.2 583.3V607.8M1408.2 563.9V613.1M1409.2 576.1V633.6M1410.2 586.9V614.1M1411.2 590.6V626.8M1412.2 598.1V626.1M1413.2 575.9V609.5M1414.2 600.4V634.4M1415.2 590.0V615.8M1416.2 584.3V608.6M1417.2 581.3V603.1M1418.2 588.9V625.3M1419.2 595.8V626.1M1420.2 591.1V624.3M1421.2 597.9V633.7M1422.2 591.0V623.1M1423.2 597.9V633.6M1424.2 599.1V647.7M1425.2 583.5V632.2M1426.2 599.4V629.6M1427.2 613.4V647.0M1428.2 599.7V628.3M1429.2 601.9V644.2M1430.2 605.6V634.8M1431.2 598.1V641.9M1432.2 600.8V645.1M1433.2 602.8V629.6M1434.2 615.9V633.9M1435.2 599.8V652.4M1436.2 612.8V636.0M1437.2 600.9V616.9M1438.2 601.4V639.3M1439.2 611.4V641.9M1440.2 612.2V640.9M1441.2 600.5V631.3M1442.2 588.4V633.5M1443.2 606.6V650.5M1444.2 610.5V660.1M1445.2 608.6V684.3M1446.2 606.9V651.2M1447.2 632.5V657.5M1448.2 619.0V651.9M1449.2 611.7V648.8M1450.2 608.5V646.7M1451.2 622.5V666.7M1452.2 615.8V647.8M1453.2 604.1V643.1M1454.2 609.7V653.2M1455.2 619.7V644.0M1456.2 625.2V654.9M1457.2 625.4V662.0M1458.2 624.3V673.6M1459.2 622.9V653.0M1460.2 614.6V672.0M1461.2 617.9V650.9M1462.2 627.2V658.1M1463.2 609.7V659.3M1464.2 621.9V667.3M1465.2 619.2V655.2M1466.2 640.7V673.5M1467.2 621.9V695.7M1468.2 622.4V656.7M1469.2 631.9V666.6M1470.2 633.2V674.4M1471.2 634.8V673.8M1472.2 626.2V656.0M1473.2 632.1V669.4M1474.2 632.3V669.8M1475.2 624.2V658.4M1476.2 621.2V681.6M1477.2 627.7V663.1M1478.2 624.3V675.8M1479.2 621.7V690.3M1480.2 641.7V667.1M1481.2 629.8V668.5M1482.2 633.2V668.5M1483.2 632.9V657.8M1484.2 626.7V678.8M1485.2 647.0V675.4M1486.2 633.6V694.0M1487.2 635.9V675.2M1488.2 629.4V668.9M1489.2 627.7V665.3M1490.2 636.5V663.6M1491.2 632.9V679.1M1492.2 647.9V686.5M1493.2 644.5V706.3M1494.2 650.3V676.9M1495.2 640.7V667.0M1496.2 636.6V676.4M1497.2 631.9V673.7M1498.2 662.8V692.1M1499.2 644.8V694.2M1500.2 647.1V684.0M1501.2 647.4V690.3M1502.2 652.7V688.2M1503.2 655.8V710.0M1504.2 643.0V678.3M1505.2 659.8V690.7M1506.2 651.6V694.7M1507.2 657.6V687.0M1508.2 648.3V681.3M1509.2 664.3V701.4M1510.2 657.2V696.1M1511.2 653.5V700.9M1512.2 651.1V690.7M1513.2 653.6V698.4M1514.2 650.8V692.4M1515.2 645.1V677.0M1516.2 661.3V699.2M1517.2 657.5V689.5M1518.2 677.5V726.6M1519.2 650.3V695.3M1520.2 658.5V708.4M1521.2 656.0V688.1M1522.2 658.0V698.7M1523.2 669.1V707.5M1524.2 657.4V699.7M1525.2 669.6V705.0M1526.2 673.8V693.7M1527.2 670.7V709.4M1528.2 655.5V708.9M1529.2 660.1V704.8M1530.2 670.1V704.0M1531.2 678.3V719.3M1532.2 680.6V715.4M1533.2 675.0V706.3M1534.2 671.2V714.7M1535.2 687.2V733.4M1536.2 681.0V719.9M1537.2 672.2V720.3M1538.2 688.1V725.7M1539.2 680.9V727.4M1540.2 687.2V719.0M1541.2 682.8V739.8M1542.2 691.3V723.7M1543.2 686.2V735.9M1544.2 691.6V721.7M1545.2 683.3V716.3M1546.2 694.5V732.0M1547.2 704.9V762.0M1548.2 693.1V735.2M1549.2 689.8V732.0M1550.2 695.8V741.5M1551.2 687.8V729.1M1552.2 704.1V755.6M1553.2 703.0V739.2M1554.2 703.8V741.7M1555.2 690.3V741.3M1556.2 706.0V736.0M1557.2 701.4V738.3M1558.2 701.5V741.4M1559.2 698.6V740.2M1560.2 704.5V744.3M1561.2 701.4V732.6M1562.2 706.4V742.5M1563.2 696.1V738.5M1564.2 707.1V745.4M1565.2 713.3V747.6M1566.2 713.0V750.2M1567.2 707.8V758.8M1568.2 713.5V772.9M1569.2 708.3V756.5M1570.2 708.9V741.4M1571.2 714.3V756.3M1572.2 715.5V750.4M1573.2 707.5V753.4M1574.2 720.6V768.6M1575.2 721.5V751.1M1576.2 713.0V754.6M1577.2 716.7V765.8M1578.2 721.0V773.2M1579.2 728.8V755.7M1580.2 727.3V775.8M1581.2 730.1V763.5M1582.2 728.4V768.4M1583.2 731.6V771.6M1584.2 726.0V762.8M1585.2 728.3V761.9M1586.2 723.5V775.5M1587.2 728.1V763.2M1588.2 733.2V774.0M1589.2 737.5V774.8M1590.2 733.3V785.1M1591.2 731.9V774.1M1592.2 733.7V783.5M1593.2 734.5V777.9M1594.2 728.7V776.6M1595.2 738.5V782.7M1596.2 735.9V771.9M1597.2 738.6V772.5M1598.2 736.1V778.4M1599.2 737.0V779.4M1600.2 742.1V788.4M1601.2 749.0V787.3M1602.2 751.1V786.7M1603.2 743.8V786.4M1604.2 766.6V795.0M1605.2 753.8V805.7M1606.2 753.8V783.5M1607.2 751.5V798.7M1608.2 750.2V793.3M1609.2 759.3V795.4M1610.2 752.9V785.8M1611.2 759.1V797.0M1612.2 763.9V809.3M1613.2 765.1V812.2M1614.2 773.5V807.3M1615.2 767.4V806.1M1616.2 767.4V815.8M1617.2 772.4V831.2M1618.2 775.9V824.0M1619.2 773.9V820.1M1620.2 774.2V832.7M1621.2 778.4V821.2M1622.2 780.4V825.8M1623.2 777.1V826.7M1624.2 776.4V834.1M1625.2 791.8V829.5M1626.2 792.8V836.9M1627.2 791.6V835.1M1628.2 790.6V831.0M1629.2 790.6V834.9M1630.2 795.1V829.7M1631.2 798.8V836.6M1632.2 797.0V838.1M1633.2 797.7V844.9M1634.2 794.2V847.3M1635.2 804.9V844.5M1636.2 804.4V847.1M1637.2 809.8V856.6M1638.2 812.6V849.2M1639.2 804.2V844.0M1640.2 807.3V852.3M1641.2 811.5V858.6M1642.2 817.4V864.3M1643.2 817.7V852.7M1644.2 819.3V851.0M1645.2 814.6V861.1M1646.2 821.0V862.5M1647.2 827.1V876.8M1648.2 815.4V863.2M1649.2 826.5V864.9M1650.2 831.7V872.7M1651.2 828.6V881.1M1652.2 833.4V872.5M1653.2 842.6V876.2M1654.2 837.5V879.7M1655.2 838.5V893.4M1656.2 840.4V876.4M1657.2 838.2V878.3M1658.2 847.5V880.3M1659.2 845.3V885.5M1660.2 841.9V888.5M1661.2 845.2V886.9M1662.2 846.5V889.1M1663.2 847.8V899.0M1664.2 849.5V893.7M1665.2 857.3V892.0M1666.2 853.0V898.7M1667.2 856.5V900.8M1668.2 858.0V897.1M1669.2 862.6V895.9M1670.2 856.1V894.4M1671.2 869.4V908.2M1672.2 865.6V905.6M1673.2 860.0V909.5M1674.2 866.5V903.5M1675.2 867.6V904.0M1676.2 872.7V906.7M1677.2 876.2V912.2M1678.2 876.1V914.7M1679.2 880.1V919.8M1680.2 880.2V920.8M1681.2 878.2V923.7M1682.2 892.0V929.1M1683.2 885.6V926.8M1684.2 889.1V931.0M1685.2 894.4V936.4M1686.2 889.5V927.8M1687.2 897.6V932.8M1688.2 899.6V934.1M1689.2 901.8V938.0M1690.2 904.9V945.0M1691.2 902.2V949.6M1692.2 907.4V950.9M1693.2 914.3V945.7M1694.2 914.1V951.4M1695.2 915.9V954.7M1696.2 914.6V951.4M1697.2 915.2V961.4M1698.2 920.0V963.0M1699.2 922.8V959.5M1700.2 923.8V962.9M1701.2 925.5V971.6M1702.2 922.0V970.7M1703.2 925.2V968.1M1704.2 935.1V975.0M1705.2 929.0V974.8M1706.2 929.4V963.4M1707.2 932.8V978.1M1708.2 942.5V983.6M1709.2 936.4V979.9M1710.2 939.9V980.0M1711.2 940.4V985.3M1712.2 942.8V985.4" stroke="#000" stroke-width="2.4"/>
<path d="M273.0 555.4L283.0 554.8L361.1 549.5L447.5 561.4L475.6 517.9L499.0 506.6L518.4 505.8L535.3 505.3L550.3 506.1L563.7 506.1L576.3 504.6L587.1 533.2L597.1 552.3L607.9 530.7L616.2 524.0L620.0 524.9L624.7 526.3L631.4 526.1L639.0 523.7L645.2 528.9L652.3 527.0L654.7 535.6L657.5 547.5L659.9 552.2L663.2 557.4L673.7 561.7L676.0 562.6L680.8 584.0L685.5 565.0L690.3 561.4L695.0 562.6L705.0 568.1L707.8 568.1L709.7 561.2L711.4 549.1L712.6 547.0L715.9 546.0L719.7 548.7L727.3 543.2L732.5 540.8L734.9 541.8L737.8 550.8L740.4 561.7L743.5 554.6L749.6 551.7L753.1 541.8L758.7 539.2L762.5 542.2L765.8 548.7L768.6 544.1L771.2 555.5L773.8 545.1L778.6 545.1L781.4 549.4L782.9 536.5L784.3 526.6L784.8 515.2L787.3 508.5L790.0 515.6L793.8 512.8L796.6 515.6L798.5 523.2L800.4 546.5L801.4 557.9L805.7 559.8L807.6 555.5L810.4 544.6L811.4 538.4L813.7 542.0L817.1 538.4L820.0 529.9L826.4 541.5L836.4 521.6L843.1 551.5L848.1 558.2L854.7 544.9L861.3 556.5L868.0 574.8L871.3 564.8L874.6 593.1L876.2 568.5L877.3 567.5L878.4 553.8L879.4 542.2L880.5 547.1L881.6 541.4L882.6 530.8L883.6 531.8L884.6 531.5L885.6 526.8L886.7 531.7L887.7 538.4L888.6 538.9L889.6 544.1L890.6 555.8L891.6 552.6L892.5 550.8L893.5 553.1L894.4 556.4L895.4 556.8L896.3 554.7L897.2 555.4L898.1 563.7L899.0 566.7L899.9 567.1L900.8 573.7L901.7 565.4L902.6 554.0L903.5 554.5L904.4 555.2L905.2 560.7L906.1 558.0L907.0 564.0L907.8 564.3L908.6 551.5L909.5 564.3L910.3 551.7L911.1 544.4L912.0 536.4L912.8 538.8L913.6 536.8L914.4 536.8L915.2 548.0L916.0 548.3L916.8 533.3L917.6 533.0L918.4 534.3L919.1 533.9L919.9 534.0L920.7 533.5L921.4 533.7L922.2 532.0L923.0 545.6L923.7 543.6L924.5 551.4L925.2 549.1L925.9 549.8L926.7 552.1L927.4 547.7L928.1 549.5L928.8 562.7L929.6 565.6L930.3 564.8L931.0 549.8L931.7 546.8L932.4 542.9L933.1 536.4L933.8 534.2L934.5 527.6L935.1 534.0L935.8 526.0L936.5 536.2L937.2 539.0L937.8 527.6L938.5 535.6L939.2 530.5L939.8 535.2L940.5 526.7L941.1 528.7L941.8 529.1L942.4 526.2L943.1 539.4L943.7 538.8L944.4 546.1L945.0 544.9L945.6 555.3L946.3 548.6L946.9 540.6L947.5 534.1L948.1 532.3L948.7 532.6L949.3 527.4L950.0 530.8L950.6 530.7L951.2 531.4L951.8 532.2L952.4 542.0L953.0 543.2L953.5 540.8L954.1 539.4L954.7 533.3L955.3 532.8L955.9 536.7L956.5 542.3L957.0 544.6L957.6 544.9L958.2 545.1L958.8 558.4L959.3 570.0L959.9 570.4L960.5 563.2L961.0 547.7L961.6 544.2L962.1 544.3L962.7 547.2L963.2 547.3L963.8 545.0L964.3 535.7L964.9 546.9L965.4 561.9L965.9 559.9L966.5 564.4L967.0 561.8L967.5 559.7L968.1 557.1L968.6 580.8L969.1 569.4L969.6 568.1L970.1 572.0L970.7 571.7L971.2 579.1L971.7 562.8L972.2 562.7L972.7 550.7L973.2 556.2L973.7 552.1L974.2 544.2L974.7 537.2L975.2 536.8L975.7 538.3L976.2 541.0L976.7 546.0L977.2 543.0L977.7 536.9L978.2 535.0L978.7 540.6L979.2 538.0L979.6 543.2L980.1 539.5L980.6 536.9L981.1 537.9L981.5 540.3L982.0 552.6L982.5 552.4L983.0 556.2L983.4 555.6L983.9 563.5L984.4 556.8L984.8 555.6L985.3 567.9L985.7 565.0L986.2 563.9L986.7 563.2L987.1 560.2L987.6 556.6L988.0 573.8L988.5 565.4L988.9 564.0L989.4 558.0L989.8 549.6L990.3 548.8L990.7 554.2L991.1 548.9L991.6 548.6L992.0 553.5L992.4 554.9L992.9 561.9L993.3 570.6L993.7 573.7L994.2 566.2L994.6 570.9L995.0 543.7L995.5 547.2L995.9 547.2L996.3 548.2L996.7 547.7L997.1 545.3L997.6 538.7L998.0 530.7L998.4 549.6L998.8 543.9L999.2 543.3L999.6 543.5L1000.0 545.9L1000.5 546.0L1000.9 552.8L1001.3 567.9L1001.7 568.8L1002.1 573.6L1002.5 567.5L1002.9 567.5L1003.3 565.8L1003.7 569.6L1004.1 563.8L1004.5 568.9L1004.9 565.0L1005.3 571.0L1005.7 576.2L1006.1 565.4L1006.4 549.2L1006.8 541.5L1007.2 547.5L1007.6 547.7L1008.0 542.5L1008.4 541.8L1008.8 541.7L1009.1 547.2L1009.5 567.3L1009.9 573.9L1010.3 578.4L1010.7 577.3L1011.0 571.0L1011.4 574.1L1011.8 575.0L1012.2 555.2L1012.5 542.9L1012.9 540.9L1013.3 542.0L1013.6 543.0L1014.0 553.5L1014.4 526.5L1014.7 526.8L1015.1 532.8L1015.5 540.5L1015.8 537.0L1016.2 536.7L1016.6 533.4L1016.9 531.9L1017.3 551.7L1017.6 540.9L1018.0 541.7L1018.3 543.7L1018.7 544.8L1019.0 544.8L1019.4 546.5L1019.8 549.9L1020.1 550.7L1020.5 566.0L1020.8 566.2L1021.1 565.3L1021.5 567.0L1021.8 546.7L1022.2 549.7L1022.5 543.7L1022.9 550.8L1023.2 540.0L1023.6 542.3L1023.9 537.6L1024.2 531.5L1024.6 537.5L1024.9 536.3L1025.2 538.0L1025.6 537.3L1025.9 544.5L1026.3 541.0L1026.6 546.2L1026.9 561.3L1027.2 561.3L1027.6 563.4L1027.9 558.3L1028.2 551.4L1028.6 548.5L1028.9 547.8L1029.2 547.9L1029.5 551.2L1029.9 559.9L1030.2 558.8L1030.5 563.0L1030.8 575.4L1031.2 558.4L1031.5 541.4L1031.8 540.8L1032.1 540.9L1032.4 539.5L1032.8 539.2L1033.1 537.8L1033.4 538.8L1033.7 553.5L1034.0 584.2L1034.3 585.9L1034.6 586.0L1035.0 587.3L1035.3 569.9L1035.6 567.0L1035.9 567.2L1036.2 567.1L1036.5 569.9L1036.8 569.1L1037.1 558.2L1037.4 554.5L1037.7 560.4L1038.0 572.0L1038.3 572.4L1038.6 564.0L1038.9 562.9L1039.2 558.9L1039.5 556.4L1039.8 559.3L1040.1 565.7L1040.4 564.8L1040.7 561.2L1041.0 570.1L1041.3 566.6L1041.6 559.6L1041.9 552.9L1042.2 554.1L1042.5 548.5L1042.8 547.3L1043.1 545.3L1043.4 534.2L1043.7 536.7L1044.0 541.9L1044.3 556.1L1044.5 557.5L1044.8 558.9L1045.1 549.6L1045.4 553.9L1045.7 566.7L1046.0 557.5L1046.3 546.7L1046.6 547.2L1046.8 545.5L1047.1 534.5L1047.4 542.9L1047.7 537.6L1048.0 540.1L1048.2 541.4L1048.5 551.7L1048.8 550.6L1049.1 549.2L1049.4 568.7L1049.6 554.0L1049.9 548.7L1050.2 549.8L1050.5 546.8L1050.7 544.4L1051.0 540.3L1051.3 541.2L1051.6 537.4L1051.8 540.7L1052.1 537.2L1052.4 532.4L1052.7 532.7L1052.9 526.5L1053.2 530.0L1053.5 523.4L1053.7 527.7L1054.0 530.5L1054.3 542.5L1054.5 548.6L1054.8 555.0L1055.1 573.6L1055.3 560.9L1055.6 580.7L1055.9 575.3L1056.1 574.8L1056.4 572.7L1056.7 558.4L1056.9 560.2L1057.2 551.4L1057.4 556.7L1057.7 558.0L1058.0 552.3L1058.2 549.9L1058.5 550.3L1058.7 552.6L1059.0 553.3L1059.3 561.9L1059.5 542.4L1059.8 543.2L1060.0 549.1L1060.3 552.8L1060.5 544.4L1060.8 551.2L1061.0 541.9L1061.3 540.1L1061.5 556.8L1061.8 547.9L1062.1 549.0L1062.3 546.6L1062.6 533.5L1062.8 527.3L1063.1 529.2L1063.3 527.4L1063.6 527.7L1063.8 530.3L1064.1 529.9L1064.3 525.3L1064.5 543.5L1064.8 545.9L1065.0 541.8L1065.3 546.2L1065.5 549.2L1065.8 546.0L1066.0 543.5L1066.3 552.9L1066.5 542.0L1066.7 542.9L1067.0 549.8L1067.2 535.3L1067.5 532.3L1067.7 537.5L1068.0 539.5L1068.2 536.2L1068.4 541.4L1068.7 546.8L1068.9 544.0L1069.1 564.8L1069.4 573.3L1069.6 570.7L1069.9 568.3L1070.1 570.9L1070.3 579.7L1070.6 574.2L1070.8 588.6L1071.0 577.6L1071.3 580.8L1071.5 572.7L1071.7 569.6L1072.0 563.9L1072.2 560.7L1072.4 551.1L1072.7 551.5L1072.9 556.0L1073.1 556.0L1073.4 550.3L1073.6 551.6L1073.8 557.0L1074.1 553.0L1074.3 549.1L1074.5 548.2L1074.7 539.8L1075.0 532.8L1075.2 539.7L1075.4 542.5L1075.6 526.9L1075.9 528.0L1076.1 536.6L1076.3 536.7L1076.5 532.1L1076.8 531.6L1077.0 531.5L1077.2 525.1L1077.4 541.7L1077.7 541.9L1077.9 540.3L1078.1 538.3L1078.3 552.7L1078.5 565.6L1078.8 556.2L1079.0 555.9L1079.2 555.5L1079.4 550.9L1079.6 551.8L1079.9 554.6L1080.1 531.4L1080.3 528.7L1080.5 523.5L1080.7 523.0L1081.0 522.5L1081.2 527.0L1081.4 526.6L1081.6 522.5L1081.8 540.3L1082.0 542.2L1082.3 557.5L1082.5 568.2L1082.7 571.6L1082.9 571.9L1083.1 572.4L1083.3 574.7L1083.5 568.6L1083.7 570.6L1084.0 568.6L1084.2 571.2L1084.4 570.1L1084.6 569.3L1084.8 569.0L1085.0 580.5L1085.2 572.3L1085.4 569.6L1085.6 572.1L1085.8 574.9L1086.1 560.2L1086.3 560.1L1086.5 565.2L1086.7 554.5L1086.9 565.1L1087.1 563.8L1087.3 555.5L1087.5 552.9L1087.7 564.1L1087.9 560.0L1088.1 559.8L1088.3 572.4L1088.5 566.3L1088.7 564.2L1088.9 579.1L1089.1 580.6L1089.3 584.1L1089.6 576.7L1089.8 575.0L1090.0 559.1L1090.2 564.9L1090.4 564.0L1090.6 556.8L1090.8 542.2L1091.0 541.9L1091.2 537.9L1091.4 538.8L1091.6 547.4L1091.8 542.6L1092.0 541.0L1092.2 544.4L1092.4 561.0L1092.6 558.6L1092.8 551.3L1092.9 551.2L1093.1 552.0L1093.3 542.0L1093.5 544.6L1093.7 539.1L1093.9 540.3L1094.1 532.6L1094.3 542.7L1094.5 543.1L1094.7 542.8L1094.9 548.8L1095.1 536.4L1095.3 536.9L1095.5 535.9L1095.7 539.5L1095.9 534.2L1096.1 531.7L1096.3 529.4L1096.5 524.6L1096.6 533.5L1096.8 536.0L1097.0 534.3L1097.2 533.4L1097.4 538.7L1097.6 528.8L1097.8 527.1L1098.0 539.0L1098.2 541.0L1098.4 542.9L1098.5 543.7L1098.7 546.5L1098.9 550.5L1099.1 572.4L1099.3 582.5L1099.5 580.8L1099.7 581.9L1099.9 569.1L1100.0 572.0L1100.2 580.0L1100.4 566.3L1100.6 558.0L1100.8 553.3L1101.0 519.7L1101.2 512.0L1101.3 512.2L1101.5 512.7L1101.7 512.0L1101.9 512.8L1102.1 511.1L1102.3 513.1L1102.5 540.8L1102.6 559.4L1102.8 570.4L1103.0 556.5L1103.2 547.7L1103.4 554.8L1103.5 554.6L1103.7 555.9L1103.9 551.8L1104.1 550.6L1104.3 551.3L1104.4 551.7L1104.6 550.4L1104.8 543.9L1105.0 553.0L1105.2 551.6L1105.3 543.2L1105.5 537.4L1105.7 532.7L1105.9 535.6L1106.1 538.1L1106.2 541.7L1106.4 535.9L1106.6 527.8L1106.8 535.9L1106.9 533.3L1107.1 536.8L1107.3 538.4L1107.5 541.4L1107.7 542.8L1107.8 545.7L1108.0 556.7L1108.2 538.8L1108.4 548.6L1108.5 539.0L1108.7 537.8L1108.9 539.5L1109.1 537.1L1109.2 537.9L1109.4 539.6L1109.6 551.5L1109.7 546.3L1109.9 556.2L1110.1 560.9L1110.3 563.6L1110.4 557.0L1110.6 556.9L1110.8 557.5L1110.9 556.4L1111.1 564.4L1111.3 556.6L1111.5 543.3L1111.6 542.9L1111.8 551.8L1112.0 557.5L1112.1 551.5L1112.3 557.0L1112.5 555.3L1112.6 566.3L1112.8 580.7L1113.0 583.8L1113.2 582.6L1113.3 560.6L1113.5 566.0L1113.7 552.3L1113.8 547.5L1114.0 536.3L1114.2 539.2L1114.3 529.7L1114.5 527.6L1114.7 527.5L1114.8 520.6L1115.0 526.3L1115.2 528.4L1115.3 538.4L1115.5 540.1L1115.7 552.9L1115.8 557.3L1116.0 571.9L1116.1 598.3L1116.3 557.5L1116.5 553.2L1116.6 551.1L1116.8 546.7L1117.0 540.6L1117.1 540.1L1117.3 540.4L1117.5 539.1L1117.6 557.4L1117.8 564.9L1117.9 565.4L1118.1 572.1L1118.3 584.6L1118.4 560.8L1118.6 543.5L1118.8 537.3L1118.9 539.9L1119.1 528.6L1119.2 525.1L1119.4 522.0L1119.6 513.8L1119.7 520.4L1119.9 530.4L1120.0 538.6L1120.2 539.8L1120.4 545.5L1120.5 550.7L1120.7 551.2L1120.8 534.7L1121.0 533.5L1121.1 532.3L1121.3 529.1L1121.5 528.7L1121.6 522.3L1121.8 520.6L1121.9 520.8L1122.1 544.2L1122.2 544.3L1122.4 545.1L1122.6 550.0L1122.7 547.8L1122.9 567.0L1123.0 566.6L1123.2 575.0L1123.3 562.5L1123.5 563.7L1123.6 558.7L1123.8 540.5L1124.0 539.9L1124.1 532.0L1124.3 529.8L1124.4 523.8L1124.6 513.1L1124.7 512.4L1124.9 509.4L1125.0 514.5L1125.2 512.9L1125.3 520.0L1125.5 523.5L1125.6 526.4L1125.8 542.6L1126.0 544.9L1126.1 558.2L1126.3 549.2L1126.4 556.9L1126.6 545.2L1126.7 547.0L1126.9 542.1L1127.0 548.4L1127.2 546.2L1127.3 544.6L1127.5 552.5L1127.6 547.0L1127.8 552.4L1127.9 552.4L1128.1 549.2L1128.2 550.4L1128.4 553.3L1128.5 552.7L1128.7 553.8L1128.8 560.3L1129.0 566.8L1129.1 567.4L1129.3 593.1L1129.4 556.2L1129.6 554.5L1129.7 558.7L1129.8 539.9L1130.0 540.5L1130.1 538.4L1130.3 533.8L1130.4 533.0L1130.6 527.3L1130.7 523.5L1130.9 522.5L1131.0 534.4L1131.2 533.8L1131.3 534.9L1131.5 538.6L1131.6 538.3L1131.8 574.1L1131.9 585.6L1132.0 561.8L1132.2 560.5L1132.3 551.8L1132.5 551.2L1132.6 550.9L1132.8 550.4L1132.9 548.6L1133.1 551.0L1133.2 566.2L1133.3 573.2L1133.5 574.4L1133.6 580.2L1133.8 576.6L1133.9 568.3L1134.1 568.3L1134.2 545.3L1134.3 546.2L1134.5 532.4L1134.6 534.0L1134.8 525.5L1134.9 523.5L1135.2 519.8L1135.2 530.4L1135.6 544.2L1135.8 548.4L1135.9 565.1L1136.2 572.2L1136.2 621.5L1136.6 584.0L1136.7 583.2L1136.9 569.7L1137.2 556.9L1137.2 547.5L1137.8 554.5L1137.8 549.4L1138.1 558.0L1138.3 557.2L1138.4 531.6L1138.8 531.1L1138.8 506.9L1139.1 508.0L1139.2 509.5L1139.4 509.6L1139.8 521.6L1139.8 560.8L1140.2 569.7L1140.2 571.0L1140.6 549.9L1140.7 549.7L1140.9 554.1L1141.2 529.8L1141.2 527.6L1141.8 529.8L1141.8 536.3L1142.2 556.7L1142.2 554.2L1142.6 554.0L1142.7 575.7L1142.9 566.9L1143.2 568.2L1143.2 558.8L1143.8 562.3L1143.8 553.5L1144.2 539.8L1144.2 524.6L1144.8 526.3L1144.8 520.0L1145.1 524.8L1145.3 527.3L1145.4 539.1L1145.8 531.9L1145.8 536.1L1146.2 538.9L1146.2 550.9L1146.8 551.9L1146.8 543.8L1147.2 548.3L1147.2 545.1L1147.8 538.4L1147.8 522.4L1148.2 520.8L1148.2 523.0L1148.8 532.0L1148.8 550.7L1149.2 550.1L1149.2 543.3L1149.6 547.3L1149.8 545.9L1149.9 552.0L1150.2 544.8L1150.2 555.1L1150.8 551.2L1150.8 544.1L1151.2 557.2L1151.2 549.5L1151.8 539.6L1151.8 542.6L1152.2 541.9L1152.2 516.4L1152.8 523.8L1152.8 520.8L1153.2 528.0L1153.2 550.0L1153.8 539.4L1153.8 514.5L1154.2 515.7L1154.2 535.9L1154.8 533.1L1154.8 559.6L1155.2 532.8L1155.2 521.0L1155.8 522.0L1155.8 514.3L1156.2 515.2L1156.2 521.6L1156.8 518.5L1156.8 549.5L1157.2 558.0L1157.2 523.8L1157.8 520.3L1157.8 509.6L1158.2 498.6L1158.2 513.0L1158.8 522.0L1158.8 506.1L1159.2 509.6L1159.2 511.5L1159.8 518.6L1159.8 536.6L1160.2 534.8L1160.2 515.2L1160.8 517.1L1160.8 507.2L1161.2 520.7L1161.2 524.5L1161.8 536.0L1161.8 546.5L1162.2 533.8L1162.2 524.4L1162.8 518.9L1162.8 528.5L1163.2 511.2L1163.2 514.7L1163.8 509.2L1163.8 521.1L1164.2 522.3L1164.2 544.2L1164.8 555.7L1164.8 527.1L1165.2 525.0L1165.2 518.7L1165.8 521.0L1165.8 534.2L1166.2 531.2L1166.2 523.6L1166.8 518.9L1166.8 529.1L1167.2 523.6L1167.2 535.8L1167.8 535.3L1167.8 549.9L1168.2 536.9L1168.2 544.0L1168.8 533.6L1168.8 541.7L1169.2 546.4L1169.2 536.8L1169.8 541.8L1169.8 516.1L1170.2 516.7L1170.2 499.2L1170.8 497.4L1170.8 513.3L1171.2 515.5L1171.2 500.5L1171.8 504.2L1171.8 497.7L1172.2 503.0L1172.2 525.1L1172.8 519.9L1172.8 504.3L1173.2 499.9L1173.2 510.2L1173.8 506.9L1173.8 524.2L1174.2 522.5L1174.2 532.8L1174.8 522.6L1174.8 518.9L1175.2 517.5L1175.2 544.6L1175.8 553.2L1175.8 532.5L1176.2 532.5L1176.2 526.6L1176.8 522.3L1176.8 540.7L1177.2 547.0L1177.2 558.6L1177.8 565.0L1177.8 553.2L1178.2 553.4L1178.2 528.2L1178.8 531.8L1178.8 547.8L1179.2 541.0L1179.2 563.1L1179.8 535.2L1179.8 544.6L1180.2 550.8L1180.2 534.3L1180.8 536.1L1180.8 524.1L1181.2 527.0L1181.2 540.1L1181.8 536.5L1181.8 528.9L1182.2 523.2L1182.2 515.9L1182.8 513.7L1182.8 522.7L1183.2 513.3L1183.2 524.5L1183.8 527.5L1183.8 544.1L1184.2 537.3L1184.2 510.3L1184.8 506.1L1184.8 514.9L1185.2 514.9L1185.2 504.5L1185.8 508.7L1185.8 537.1L1186.2 584.3L1186.2 562.3L1186.8 563.4L1186.8 536.0L1187.2 537.8L1187.2 516.7L1187.8 506.7L1187.8 501.4L1188.2 504.6L1188.2 531.2L1188.8 534.4L1188.8 545.5L1189.2 552.7L1189.2 544.8L1189.8 547.8L1189.8 527.2L1190.2 524.8L1190.2 504.6L1190.8 492.9L1190.8 506.2L1191.2 487.1L1191.2 494.7L1191.8 486.7L1191.8 508.7L1192.2 511.5L1192.2 523.3L1192.8 519.7L1192.8 491.2L1193.2 489.8L1193.2 512.8L1193.8 507.1L1193.8 527.3L1194.2 529.2L1194.2 511.3L1194.8 502.1L1194.8 518.9L1195.2 518.9L1195.2 540.2L1195.8 521.1L1195.8 505.5L1196.2 505.5L1196.2 512.1L1196.8 487.0L1196.8 497.5L1197.2 538.7L1197.2 501.4L1197.8 501.1L1197.8 508.1L1198.2 525.1L1198.2 495.1L1198.8 496.7L1198.8 519.9L1199.2 533.9L1199.2 507.3L1199.8 502.2L1199.8 523.8L1200.2 538.4L1200.2 512.3L1200.8 500.6L1200.8 490.9L1201.2 488.0L1201.2 516.0L1201.8 488.0L1201.8 509.3L1202.2 516.4L1202.2 534.3L1202.8 534.0L1202.8 544.8L1203.2 543.8L1203.2 518.8L1203.8 517.4L1203.8 498.8L1204.2 485.7L1204.2 499.1L1204.8 498.7L1204.8 543.1L1205.2 558.1L1205.2 518.2L1205.8 511.1L1205.8 485.5L1206.2 489.6L1206.2 503.2L1206.8 505.3L1206.8 489.8L1207.2 491.0L1207.2 509.1L1207.8 513.4L1207.8 496.3L1208.2 505.0L1208.2 519.5L1208.8 514.1L1208.8 537.4L1209.2 534.2L1209.2 524.2L1209.8 530.5L1209.8 504.6L1210.2 508.4L1210.2 495.9L1210.8 500.3L1210.8 510.5L1211.2 510.7L1211.2 495.0L1211.8 510.5L1211.8 520.2L1212.2 506.2L1212.2 517.1L1212.8 523.5L1212.8 503.0L1213.2 503.2L1213.2 486.0L1213.8 487.6L1213.8 517.9L1214.2 500.3L1214.2 507.3L1214.8 543.9L1214.8 511.8L1215.2 519.6L1215.2 500.0L1215.8 511.6L1215.8 484.8L1216.2 479.2L1216.2 493.7L1216.8 507.5L1216.8 483.5L1217.2 493.3L1217.2 478.6L1217.8 478.4L1217.8 506.2L1218.2 505.7L1218.2 500.6L1218.8 492.7L1218.8 516.0L1219.2 508.4L1219.2 525.9L1219.8 552.7L1219.8 490.3L1220.2 488.5L1220.2 466.0L1220.8 482.9L1220.8 509.2L1221.2 502.6L1221.2 515.3L1221.8 503.8L1221.8 474.0L1222.2 487.4L1222.2 473.8L1222.8 472.4L1222.8 484.2L1223.2 506.9L1223.2 487.2L1223.8 491.1L1223.8 471.5L1224.2 471.7L1224.2 486.4L1224.8 502.4L1224.8 528.6L1225.2 512.3L1225.2 490.9L1225.8 488.7L1225.8 475.6L1226.2 477.5L1226.2 501.0L1226.8 503.4L1226.8 488.1L1227.2 495.2L1227.2 485.3L1227.8 505.0L1227.8 485.0L1228.2 509.5L1228.2 485.5L1228.8 479.9L1228.8 494.2L1229.2 491.6L1229.2 507.8L1229.8 518.3L1229.8 480.7L1230.2 481.0L1230.2 512.6L1230.8 530.0L1230.8 493.2L1231.2 499.3L1231.2 485.8L1231.8 495.5L1231.8 483.4L1232.2 533.3L1232.2 484.3L1232.8 477.0L1232.8 462.7L1233.2 478.1L1233.2 495.8L1233.8 480.9L1233.8 500.5L1234.2 502.5L1234.2 535.1L1234.8 522.1L1234.8 479.2L1235.2 475.0L1235.2 486.1L1235.8 478.1L1235.8 462.9L1236.2 489.2L1236.2 472.6L1236.8 473.9L1236.8 504.7L1237.2 486.5L1237.2 467.8L1237.8 480.4L1237.8 467.8L1238.2 466.4L1238.2 506.2L1238.8 514.7L1238.8 486.6L1239.2 471.9L1239.2 483.5L1239.8 497.7L1239.8 478.6L1240.2 480.9L1240.2 507.7L1240.8 499.4L1240.8 484.7L1241.2 470.1L1241.2 489.2L1241.8 490.2L1241.8 472.0L1242.0 483.1L1242.1 481.4L1242.2 481.2L1242.2 485.4L1242.3 486.6L1242.4 486.8L1242.4 512.8L1242.5 504.8L1242.5 498.1L1242.6 498.9L1242.7 501.7L1242.7 499.0L1242.8 494.2L1242.8 476.6L1242.9 465.1L1243.0 468.4L1243.0 473.7L1243.1 472.5L1243.1 466.1L1243.2 466.7L1243.3 460.8L1243.3 461.1L1243.4 471.9L1243.4 471.6L1243.5 471.2L1243.6 462.9L1243.6 449.9L1243.7 446.2L1243.7 452.2L1243.8 459.0L1243.9 449.5L1243.9 449.8L1244.0 447.7L1244.0 448.6L1244.1 461.1L1244.2 461.2L1244.2 460.8L1244.3 461.7L1244.3 470.4L1244.4 472.4L1244.5 475.1L1244.5 477.0L1244.6 476.4L1244.6 468.7L1244.7 464.0L1244.8 458.0L1244.8 460.9L1244.9 460.1L1244.9 460.3L1245.0 445.0L1245.1 448.6L1245.1 453.0L1245.2 443.6L1245.2 446.0L1245.3 444.7L1245.4 444.8L1245.4 437.1L1245.5 456.1L1245.5 454.6L1245.6 456.2L1245.7 474.7L1245.7 473.1L1245.8 476.2L1245.8 470.0L1245.9 479.8L1246.0 480.6L1246.0 453.9L1246.1 453.8L1246.1 451.3L1246.2 447.9L1246.3 443.7L1246.3 435.6L1246.4 437.3L1246.4 434.3L1246.5 448.2L1246.5 448.2L1246.6 442.0L1246.7 447.5L1246.7 446.8L1246.8 427.5L1246.8 424.3L1246.9 420.8L1247.0 419.6L1247.0 414.8L1247.1 410.9L1247.1 400.5L1247.2 400.8L1247.3 418.8L1247.3 415.0L1247.4 412.2L1247.4 403.4L1247.5 402.8L1247.5 391.3L1247.6 399.3L1247.7 396.2L1247.7 386.5L1247.8 385.3L1247.8 379.6L1247.9 385.3L1248.0 383.2L1248.0 404.0L1248.1 399.8L1248.1 397.2L1248.2 412.9L1248.2 409.1L1248.3 423.6L1248.4 384.4L1248.4 376.9L1248.5 375.3L1248.5 358.6L1248.6 340.4L1248.6 337.6L1248.7 333.9L1248.8 333.9L1248.8 337.2L1248.9 336.1L1248.9 326.0L1249.0 331.2L1249.1 344.6L1249.1 346.9L1249.2 347.0L1249.2 334.4L1249.3 338.6L1249.3 342.9L1249.4 356.3L1249.5 360.5L1249.5 361.0L1249.6 362.8L1249.6 367.7L1249.7 393.7L1249.7 400.0L1249.8 379.6L1249.9 384.2L1249.9 390.1L1250.0 388.7L1250.0 390.5L1250.1 376.7L1250.1 378.4L1250.2 382.2L1250.3 386.3L1250.3 383.2L1250.4 384.0L1250.4 389.0L1250.5 392.0L1250.5 409.1L1250.6 407.1L1250.7 409.9L1250.7 410.1L1250.8 419.0L1250.8 423.7L1250.9 426.1L1250.9 430.1L1251.0 425.1L1251.1 425.0L1251.1 412.4L1251.2 427.0L1251.2 425.2L1251.3 419.9L1251.3 421.6L1251.4 423.2L1251.5 427.4L1251.5 433.7L1251.6 438.3L1251.6 440.2L1251.7 445.0L1251.7 452.9L1251.8 452.8L1251.9 448.1L1251.9 452.5L1252.0 453.0L1252.0 474.8L1252.1 469.6L1252.1 462.2L1252.2 465.5L1252.2 455.8L1252.3 458.9L1252.4 461.3L1252.4 459.0L1252.5 455.8L1252.5 460.6L1252.6 456.2L1252.6 453.3L1252.7 467.0L1252.8 468.2L1252.8 453.3L1252.9 458.1L1252.9 462.1L1253.0 460.7L1253.0 466.6L1253.1 473.4L1253.1 464.9L1253.2 462.5L1253.3 474.3L1253.3 475.6L1253.4 477.7L1253.4 478.2L1253.5 485.9L1253.5 478.4L1253.6 477.6L1253.6 471.4L1253.7 474.4L1253.8 471.9L1253.8 469.0L1253.9 463.4L1253.9 462.4L1254.0 466.7L1254.0 466.6L1254.1 474.4L1254.1 480.6L1254.2 472.9L1254.3 474.4L1254.3 482.4L1254.4 477.9L1254.4 476.8L1254.5 481.1L1254.5 474.4L1254.6 469.0L1254.6 477.9L1254.7 471.5L1254.8 452.1L1254.8 449.4L1254.9 433.8L1254.9 434.1L1255.0 438.2L1255.0 440.7L1255.1 439.3L1255.1 442.5L1255.2 454.9L1255.3 461.0L1255.3 497.1L1255.4 497.4L1255.4 490.1L1255.5 491.1L1255.5 496.0L1255.6 493.8L1255.6 502.8L1255.7 508.1L1255.7 513.2L1255.8 528.3L1255.9 509.6L1255.9 506.3L1256.0 488.2L1256.2 486.1L1256.2 467.8L1256.8 481.0L1256.8 518.3L1257.2 521.9L1257.2 470.1L1257.8 505.0L1257.8 527.7L1258.2 513.6L1258.2 492.9L1258.8 471.2L1258.8 495.0L1259.2 478.7L1259.2 507.8L1259.8 510.1L1259.8 480.2L1260.2 525.9L1260.2 486.3L1260.8 480.3L1260.8 507.9L1261.2 496.5L1261.2 520.9L1261.8 510.9L1261.8 481.6L1262.2 484.3L1262.2 532.2L1262.8 517.6L1262.8 502.5L1263.2 496.3L1263.2 536.5L1263.8 518.6L1263.8 495.5L1264.2 478.6L1264.2 501.3L1264.8 516.7L1264.8 502.2L1265.2 511.5L1265.2 499.3L1265.8 508.3L1265.8 515.9L1266.2 513.6L1266.2 482.9L1266.8 520.6L1266.8 494.9L1267.2 495.9L1267.2 515.5L1267.8 522.2L1267.8 499.3L1268.2 492.3L1268.2 518.4L1268.8 511.7L1268.8 485.5L1269.2 514.9L1269.2 477.1L1269.8 486.2L1269.8 534.6L1270.2 502.2L1270.2 525.0L1270.8 527.1L1270.8 500.1L1271.2 503.7L1271.2 526.5L1271.8 536.5L1271.8 517.3L1272.2 527.6L1272.2 479.3L1272.8 473.6L1272.8 509.9L1273.2 525.3L1273.2 512.5L1273.8 502.2L1273.8 516.5L1274.2 493.3L1274.2 523.2L1274.8 522.5L1274.8 497.1L1275.2 485.2L1275.2 523.6L1275.8 527.7L1275.8 507.0L1276.2 500.7L1276.2 530.5L1276.8 529.0L1276.8 507.0L1277.2 507.9L1277.2 528.3L1277.8 521.1L1277.8 506.3L1278.2 513.0L1278.2 548.2L1278.8 539.0L1278.8 527.5L1279.2 546.3L1279.2 516.1L1279.8 536.5L1279.8 512.0L1280.2 510.7L1280.2 539.5L1280.8 556.6L1280.8 520.9L1281.2 523.6L1281.2 487.6L1281.8 481.8L1281.8 513.5L1282.2 500.2L1282.2 540.6L1282.8 520.4L1282.8 553.4L1283.2 562.5L1283.2 508.3L1283.8 507.5L1283.8 571.8L1284.2 540.6L1284.2 519.0L1284.8 531.5L1284.8 504.2L1285.2 499.5L1285.2 533.7L1285.8 534.5L1285.8 567.4L1286.2 567.9L1286.2 541.7L1286.8 538.3L1286.8 503.2L1287.2 499.7L1287.2 521.3L1287.8 507.3L1287.8 537.3L1288.2 519.9L1288.2 499.8L1288.8 533.5L1288.8 498.1L1289.2 504.1L1289.2 554.2L1289.8 512.9L1289.8 557.3L1290.2 530.3L1290.2 579.8L1290.8 577.4L1290.8 541.4L1291.2 552.0L1291.2 539.9L1291.8 558.2L1291.8 517.0L1292.2 535.2L1292.2 592.7L1292.8 523.7L1292.8 567.5L1293.2 530.5L1293.2 569.9L1293.8 524.1L1293.8 547.9L1294.2 526.6L1294.2 554.9L1294.8 549.5L1294.8 511.2L1295.2 519.9L1295.2 555.6L1295.8 573.9L1295.8 519.3L1296.2 520.5L1296.2 558.3L1296.8 567.4L1296.8 546.8L1297.2 562.8L1297.2 525.9L1297.8 567.4L1297.8 519.2L1298.2 522.8L1298.2 592.0L1298.8 592.7L1298.8 546.4L1299.2 541.2L1299.2 564.1L1299.8 567.9L1299.8 544.7L1300.2 524.3L1300.2 574.0L1300.8 584.4L1300.8 536.5L1301.2 545.9L1301.2 534.5L1301.8 522.3L1301.8 584.5L1302.2 562.4L1302.2 538.1L1302.8 549.5L1302.8 528.4L1303.2 514.4L1303.2 576.6L1303.8 594.7L1303.8 536.2L1304.2 548.5L1304.2 532.1L1304.8 538.4L1304.8 569.0L1305.2 542.7L1305.2 587.3L1305.8 542.4L1305.8 586.8L1306.2 585.1L1306.2 532.4L1306.8 547.4L1306.8 518.0L1307.2 547.9L1307.2 586.1L1307.8 594.5L1307.8 545.1L1308.2 603.8L1308.2 528.1L1308.8 508.3L1308.8 541.7L1309.2 525.6L1309.2 570.3L1309.8 572.6L1309.8 514.7L1310.2 531.6L1310.2 564.6L1310.8 556.4L1310.8 526.9L1311.2 511.4L1311.2 547.5L1311.8 549.3L1311.8 519.2L1312.2 567.5L1312.2 531.9L1312.8 590.7L1312.8 542.6L1313.2 546.0L1313.2 592.0L1313.8 538.0L1313.8 571.7L1314.2 547.6L1314.2 576.6L1314.8 597.4L1314.8 561.7L1315.2 581.1L1315.2 538.7L1315.8 527.0L1315.8 574.4L1316.2 569.2L1316.2 522.8L1316.8 573.9L1316.8 524.8L1317.2 531.0L1317.2 575.4L1317.8 551.2L1317.8 524.8L1318.2 570.3L1318.2 535.3L1318.8 528.7L1318.8 586.3L1319.2 536.1L1319.2 604.7L1319.8 528.7L1319.8 578.5L1320.2 576.9L1320.2 541.4L1320.8 530.0L1320.8 574.0L1321.2 576.7L1321.2 529.1L1321.8 563.3L1321.8 532.7L1322.2 573.9L1322.2 531.2L1322.8 531.7L1322.8 573.9L1323.2 540.5L1323.2 585.7L1323.8 574.5L1323.8 554.8L1324.2 550.5L1324.2 570.6L1324.8 532.8L1324.8 559.7L1325.2 543.9L1325.2 581.7L1325.8 535.7L1325.8 567.6L1326.2 546.6L1326.2 570.6L1326.8 589.9L1326.8 547.7L1327.2 536.4L1327.2 566.1L1327.8 577.7L1327.8 533.5L1328.2 538.5L1328.2 567.1L1328.8 567.9L1328.8 534.3L1329.2 566.3L1329.2 531.9L1329.8 587.3L1329.8 535.7L1330.2 552.1L1330.2 590.7L1330.8 591.9L1330.8 563.0L1331.2 584.5L1331.2 522.1L1331.8 600.5L1331.8 546.0L1332.2 528.7L1332.2 562.4L1332.8 535.9L1332.8 562.9L1333.2 540.8L1333.2 573.7L1333.8 577.5L1333.8 543.2L1334.2 535.6L1334.2 577.8L1334.8 557.6L1334.8 545.1L1335.2 543.2L1335.2 564.3L1335.8 568.6L1335.8 540.0L1336.2 537.8L1336.2 577.7L1336.8 557.6L1336.8 590.3L1337.2 603.2L1337.2 545.9L1337.8 557.2L1337.8 580.6L1338.2 581.8L1338.2 545.4L1338.8 543.9L1338.8 575.6L1339.2 567.0L1339.2 531.3L1339.8 560.3L1339.8 589.5L1340.2 580.6L1340.2 549.9L1340.8 579.2L1340.8 551.5L1341.2 567.5L1341.2 591.9L1341.8 548.6L1341.8 595.8L1342.2 597.3L1342.2 541.5L1342.8 548.3L1342.8 591.2L1343.2 590.3L1343.2 536.0L1343.8 583.1L1343.8 535.2L1344.2 534.1L1344.2 570.7L1344.8 547.7L1344.8 587.8L1345.2 581.5L1345.2 534.5L1345.8 543.7L1345.8 610.1L1346.2 590.6L1346.2 551.7L1346.8 537.5L1346.8 621.2L1347.2 596.1L1347.2 540.8L1347.8 572.6L1347.8 545.4L1348.2 542.9L1348.2 567.9L1348.8 517.0L1348.8 559.1L1349.2 542.5L1349.2 587.2L1349.8 586.8L1349.8 533.6L1350.2 535.0L1350.2 593.0L1350.8 610.4L1350.8 549.0L1351.2 545.3L1351.2 586.1L1351.8 585.4L1351.8 542.4L1352.2 557.8L1352.2 576.7L1352.8 537.6L1352.8 575.9L1353.2 557.2L1353.2 595.8L1353.8 576.7L1353.8 551.9L1354.2 576.7L1354.2 554.2L1354.8 555.7L1354.8 606.3L1355.2 583.0L1355.2 561.6L1355.8 579.4L1355.8 548.1L1356.2 551.2L1356.2 589.2L1356.8 629.6L1356.8 573.1L1357.2 553.9L1357.2 603.7L1357.8 555.1L1357.8 578.7L1358.2 579.4L1358.2 633.1L1358.8 603.9L1358.8 551.5L1359.2 541.1L1359.2 619.5L1359.8 625.0L1359.8 556.3L1360.2 551.6L1360.2 576.2L1360.8 592.6L1360.8 544.2L1361.2 565.0L1361.2 544.8L1361.8 541.2L1361.8 575.1L1362.2 596.0L1362.2 555.9L1362.8 551.8L1362.8 592.8L1363.2 555.0L1363.2 599.4L1363.8 592.1L1363.8 563.4L1364.2 605.1L1364.2 539.8L1364.8 589.8L1364.8 536.7L1365.2 538.7L1365.2 577.3L1365.8 607.7L1365.8 554.9L1366.2 580.5L1366.2 539.7L1366.8 588.1L1366.8 541.3L1367.2 568.4L1367.2 604.3L1367.8 546.2L1367.8 597.9L1368.2 551.3L1368.2 606.8L1368.8 622.1L1368.8 541.5L1369.2 535.2L1369.2 596.9L1369.8 559.8L1369.8 606.1L1370.2 589.0L1370.2 541.0L1370.8 541.8L1370.8 597.7L1371.2 583.5L1371.2 625.4L1371.8 619.3L1371.8 562.6L1372.2 608.8L1372.2 555.8L1372.8 559.2L1372.8 582.4L1373.2 554.8L1373.2 594.4L1373.8 608.5L1373.8 560.9L1374.2 621.4L1374.2 558.1L1374.8 553.3L1374.8 620.5L1375.2 598.2L1375.2 559.4L1375.8 625.0L1375.8 551.7L1376.2 586.6L1376.2 552.0L1376.8 550.4L1376.8 606.9L1377.2 614.5L1377.2 538.7L1377.8 633.6L1377.8 535.0L1378.2 561.9L1378.2 608.9L1378.8 586.5L1378.8 558.4L1379.2 566.8L1379.2 603.2L1379.8 602.0L1379.8 551.2L1380.2 563.5L1380.2 650.2L1380.8 556.0L1380.8 600.6L1381.2 546.0L1381.2 601.8L1381.8 551.6L1381.8 605.7L1382.2 547.3L1382.2 613.0L1382.8 592.8L1382.8 548.3L1383.2 605.4L1383.2 567.5L1383.8 568.2L1383.8 603.8L1384.2 598.9L1384.2 568.7L1384.8 570.1L1384.8 613.8L1385.2 627.1L1385.2 568.8L1385.8 543.8L1385.8 598.6L1386.2 552.5L1386.2 625.8L1386.8 601.1L1386.8 563.7L1387.2 631.1L1387.2 554.5L1387.8 556.2L1387.8 601.4L1388.2 564.4L1388.2 602.5L1388.8 564.8L1388.8 613.0L1389.2 631.7L1389.2 563.8L1389.8 605.4L1389.8 574.2L1390.2 615.2L1390.2 559.4L1390.8 606.7L1390.8 552.2L1391.2 581.8L1391.2 599.8L1391.8 634.6L1391.8 549.9L1392.2 600.7L1392.2 560.3L1392.8 596.3L1392.8 574.5L1393.2 644.5L1393.2 575.8L1393.8 572.6L1393.8 633.5L1394.2 614.9L1394.2 582.3L1394.8 619.1L1394.8 581.7L1395.2 553.5L1395.2 611.9L1395.8 616.4L1395.8 574.9L1396.2 610.3L1396.2 563.5L1396.8 594.0L1396.8 557.9L1397.2 561.9L1397.2 604.9L1397.8 571.5L1397.8 629.2L1398.2 611.4L1398.2 560.5L1398.8 549.3L1398.8 591.9L1399.2 620.0L1399.2 572.4L1399.8 564.6L1399.8 614.9L1400.2 564.8L1400.2 623.3L1400.8 610.6L1400.8 583.8L1401.2 575.6L1401.2 616.9L1401.8 615.4L1401.8 564.8L1402.2 584.1L1402.2 630.7L1402.8 628.5L1402.8 585.9L1403.2 620.8L1403.2 574.2L1403.8 561.6L1403.8 616.7L1404.2 611.1L1404.2 584.7L1404.8 632.4L1404.8 579.1L1405.2 630.4L1405.2 572.3L1405.8 570.2L1405.8 621.8L1406.2 578.2L1406.2 637.8L1406.8 585.8L1406.8 638.8L1407.2 614.2L1407.2 566.3L1407.8 567.9L1407.8 634.3L1408.2 560.3L1408.2 622.3L1408.8 563.5L1408.8 621.1L1409.2 645.2L1409.2 572.5L1409.8 613.1L1409.8 575.7L1410.2 580.7L1410.2 638.7L1410.8 618.6L1410.8 579.0L1411.2 650.7L1411.2 587.1L1411.8 607.2L1411.8 570.3L1412.2 639.3L1412.2 596.4L1412.8 579.1L1412.8 629.3L1413.2 610.6L1413.2 573.4L1413.8 576.8L1413.8 627.1L1414.2 590.3L1414.2 636.7L1414.8 654.2L1414.8 609.0L1415.2 588.4L1415.2 628.5L1415.8 580.3L1415.8 629.4L1416.2 581.0L1416.2 614.5L1416.8 581.0L1416.8 627.4L1417.2 577.7L1417.2 618.1L1417.8 630.0L1417.8 584.6L1418.2 581.9L1418.2 638.1L1418.8 629.1L1418.8 589.4L1419.2 588.8L1419.2 643.7L1419.8 647.0L1419.8 599.6L1420.2 631.8L1420.2 586.0L1420.8 635.7L1420.8 588.0L1421.2 646.7L1421.2 589.9L1421.8 646.2L1421.8 591.3L1422.2 628.9L1422.2 585.7L1422.8 648.2L1422.8 593.7L1423.2 645.9L1423.2 594.0L1423.8 590.4L1423.8 653.6L1424.2 598.1L1424.2 651.7L1424.8 632.8L1424.8 589.7L1425.2 572.4L1425.2 658.5L1425.8 594.9L1425.8 634.9L1426.2 588.3L1426.2 641.3L1426.8 635.6L1426.8 585.3L1427.2 586.9L1427.2 658.9L1427.8 588.6L1427.8 644.9L1428.2 635.5L1428.2 589.4L1428.8 644.2L1428.8 606.8L1429.2 651.4L1429.2 597.8L1429.8 596.2L1429.8 642.5L1430.2 645.8L1430.2 600.6L1430.8 599.6L1430.8 643.2L1431.2 663.8L1431.2 593.5L1431.8 591.1L1431.8 666.6L1432.2 650.0L1432.2 593.1L1432.8 614.4L1432.8 644.8L1433.2 640.1L1433.2 600.9L1433.8 598.5L1433.8 655.1L1434.2 602.9L1434.2 648.4L1434.8 651.5L1434.8 605.4L1435.2 593.4L1435.2 656.7L1435.8 647.9L1435.8 605.7L1436.2 645.7L1436.2 608.7L1436.8 600.2L1436.8 682.8L1437.2 623.7L1437.2 596.5L1437.8 684.0L1437.8 605.5L1438.2 594.1L1438.2 641.3L1438.8 660.5L1438.8 591.9L1439.2 604.9L1439.2 646.3L1439.8 591.4L1439.8 652.3L1440.2 651.5L1440.2 605.5L1440.8 651.7L1440.8 613.2L1441.2 596.0L1441.2 635.6L1441.8 650.1L1441.8 602.2L1442.2 639.9L1442.2 584.1L1442.8 611.9L1442.8 655.8L1443.2 674.0L1443.2 604.3L1443.8 643.7L1443.8 602.3L1444.2 605.0L1444.2 681.1L1444.8 593.4L1444.8 641.2L1445.2 604.2L1445.2 698.9L1445.8 652.2L1445.8 596.4L1446.2 600.8L1446.2 660.1L1446.8 599.7L1446.8 672.1L1447.2 627.8L1447.2 678.3L1447.8 606.8L1447.8 656.2L1448.2 613.7L1448.2 655.0L1448.8 655.9L1448.8 600.1L1449.2 608.3L1449.2 664.1L1449.8 611.4L1449.8 675.6L1450.2 596.1L1450.2 655.3L1450.8 678.0L1450.8 622.0L1451.2 606.8L1451.2 694.9L1451.8 616.6L1451.8 668.0L1452.2 609.5L1452.2 661.1L1452.8 674.9L1452.8 610.3L1453.2 602.2L1453.2 654.3L1453.8 651.8L1453.8 610.6L1454.2 603.6L1454.2 664.8L1454.8 689.0L1454.8 607.2L1455.2 614.5L1455.2 646.9L1455.8 620.3L1455.8 681.6L1456.2 620.6L1456.2 663.5L1456.8 616.3L1456.8 670.4L1457.2 674.6L1457.2 622.6L1457.8 605.2L1457.8 655.2L1458.2 617.1L1458.2 693.8L1458.8 602.5L1458.8 674.1L1459.2 666.3L1459.2 619.3L1459.8 620.8L1459.8 672.4L1460.2 691.0L1460.2 603.6L1460.8 677.5L1460.8 610.9L1461.2 666.8L1461.2 606.6L1461.8 659.9L1461.8 610.7L1462.2 617.3L1462.2 675.7L1462.8 598.5L1462.8 667.5L1463.2 671.7L1463.2 604.9L1463.8 662.4L1463.8 609.8L1464.2 676.7L1464.2 612.6L1464.8 615.3L1464.8 666.3L1465.2 612.4L1465.2 667.8L1465.8 686.5L1465.8 623.5L1466.2 637.9L1466.2 680.1L1466.8 672.7L1466.8 614.5L1467.2 704.6L1467.2 608.6L1467.8 686.5L1467.8 616.8L1468.2 619.0L1468.2 680.7L1468.8 597.7L1468.8 679.5L1469.2 681.3L1469.2 615.9L1469.8 616.2L1469.8 684.1L1470.2 681.2L1470.2 626.1L1470.8 618.4L1470.8 669.6L1471.2 628.9L1471.2 707.3L1471.8 665.0L1471.8 624.8L1472.2 617.6L1472.2 660.7L1472.8 614.3L1472.8 689.5L1473.2 673.4L1473.2 625.6L1473.8 721.8L1473.8 620.0L1474.2 626.3L1474.2 699.4L1474.8 687.6L1474.8 625.8L1475.2 672.7L1475.2 617.1L1475.8 618.1L1475.8 673.9L1476.2 610.9L1476.2 693.2L1476.8 672.2L1476.8 617.8L1477.2 620.1L1477.2 697.5L1477.8 698.9L1477.8 621.9L1478.2 681.3L1478.2 616.1L1478.8 610.7L1478.8 677.8L1479.2 711.6L1479.2 610.6L1479.8 615.3L1479.8 680.8L1480.2 631.6L1480.2 689.4L1480.8 693.2L1480.8 621.2L1481.2 681.6L1481.2 623.3L1481.8 681.7L1481.8 623.5L1482.2 618.7L1482.2 683.6L1482.8 621.9L1482.8 692.4L1483.2 621.5L1483.2 669.6L1483.8 694.7L1483.8 633.8L1484.2 696.7L1484.2 622.0L1484.8 625.4L1484.8 681.4L1485.2 687.0L1485.2 643.9L1485.8 705.9L1485.8 620.0L1486.2 628.1L1486.2 702.6L1486.8 623.9L1486.8 681.9L1487.2 698.3L1487.2 626.1L1487.8 696.0L1487.8 633.1L1488.2 622.6L1488.2 712.4L1488.8 619.3L1488.8 679.9L1489.2 622.9L1489.2 680.0L1489.8 692.5L1489.8 626.3L1490.2 628.2L1490.2 680.4L1490.8 703.3L1490.8 641.2L1491.2 692.0L1491.2 625.9L1491.8 645.6L1491.8 701.9L1492.2 697.8L1492.2 642.9L1492.8 636.0L1492.8 716.8L1493.2 723.3L1493.2 621.5L1493.8 632.8L1493.8 684.2L1494.2 689.4L1494.2 647.1L1494.8 608.8L1494.8 686.6L1495.2 631.7L1495.2 680.7L1495.8 625.3L1495.8 678.1L1496.2 627.9L1496.2 685.8L1496.8 689.2L1496.8 618.5L1497.2 628.1L1497.2 687.5L1497.8 645.1L1497.8 693.3L1498.2 655.6L1498.2 702.1L1498.8 636.0L1498.8 688.9L1499.2 636.6L1499.2 712.8L1499.8 632.8L1499.8 718.3L1500.2 694.2L1500.2 633.8L1500.8 645.1L1500.8 705.4L1501.2 704.2L1501.2 636.4L1501.8 711.9L1501.8 635.2L1502.2 696.1L1502.2 638.5L1502.8 642.9L1502.8 717.1L1503.2 638.4L1503.2 743.0L1503.8 703.3L1503.8 655.1L1504.2 698.4L1504.2 636.6L1504.8 718.7L1504.8 652.4L1505.2 653.4L1505.2 719.7L1505.8 710.1L1505.8 640.8L1506.2 642.3L1506.2 698.0L1506.8 695.2L1506.8 643.8L1507.2 702.8L1507.2 653.3L1507.8 648.5L1507.8 722.2L1508.2 704.6L1508.2 638.9L1508.8 712.0L1508.8 643.5L1509.2 655.9L1509.2 741.0L1509.8 740.3L1509.8 647.7L1510.2 646.5L1510.2 711.3L1510.8 697.8L1510.8 632.6L1511.2 650.3L1511.2 717.3L1511.8 652.1L1511.8 739.3L1512.2 636.5L1512.2 699.8L1512.8 737.5L1512.8 647.0L1513.2 646.1L1513.2 708.1L1513.8 642.0L1513.8 708.0L1514.2 637.2L1514.2 723.5L1514.8 644.0L1514.8 716.1L1515.2 695.3L1515.2 636.7L1515.8 651.1L1515.8 724.4L1516.2 708.9L1516.2 650.8L1516.8 645.2L1516.8 713.2L1517.2 646.6L1517.2 712.8L1517.8 662.9L1517.8 710.5L1518.2 672.8L1518.2 756.2L1518.8 733.0L1518.8 642.0L1519.2 711.7L1519.2 643.9L1519.8 724.4L1519.8 661.0L1520.2 650.1L1520.2 743.2L1520.8 713.2L1520.8 641.1L1521.2 644.9L1521.2 715.8L1521.8 657.8L1521.8 730.4L1522.2 742.5L1522.2 655.1L1522.8 708.2L1522.8 649.7L1523.2 666.3L1523.2 720.7L1523.8 676.6L1523.8 721.8L1524.2 711.1L1524.2 651.0L1524.8 658.2L1524.8 734.3L1525.2 660.5L1525.2 715.2L1525.8 661.1L1525.8 737.1L1526.2 703.3L1526.2 666.3L1526.8 651.7L1526.8 716.8L1527.2 662.2L1527.2 725.0L1527.8 663.1L1527.8 719.7L1528.2 725.6L1528.2 643.0L1528.8 708.9L1528.8 658.1L1529.2 724.5L1529.2 650.1L1529.8 713.9L1529.8 655.3L1530.2 722.1L1530.2 661.4L1530.8 740.5L1530.8 652.9L1531.2 654.6L1531.2 744.9L1531.8 729.3L1531.8 661.6L1532.2 672.0L1532.2 729.7L1532.8 669.9L1532.8 720.3L1533.2 731.4L1533.2 668.7L1533.8 738.4L1533.8 659.7L1534.2 727.9L1534.2 655.3L1534.8 646.6L1534.8 718.9L1535.2 679.3L1535.2 753.0L1535.8 663.4L1535.8 746.2L1536.2 738.8L1536.2 668.2L1536.8 657.8L1536.8 713.7L1537.2 743.2L1537.2 662.9L1537.8 747.6L1537.8 674.5L1538.2 733.6L1538.2 676.8L1538.8 736.6L1538.8 664.4L1539.2 667.6L1539.2 746.6L1539.8 658.6L1539.8 739.1L1540.2 678.7L1540.2 736.1L1540.8 671.5L1540.8 748.4L1541.2 675.4L1541.2 774.2L1541.8 655.7L1541.8 746.5L1542.2 683.8L1542.2 734.4L1542.8 743.0L1542.8 673.2L1543.2 748.0L1543.2 678.1L1543.8 734.9L1543.8 664.8L1544.2 734.5L1544.2 674.6L1544.8 761.9L1544.8 678.9L1545.2 731.7L1545.2 675.1L1545.8 762.4L1545.8 665.9L1546.2 743.9L1546.2 674.0L1546.8 751.0L1546.8 684.6L1547.2 772.4L1547.2 691.4L1547.8 739.9L1547.8 669.0L1548.2 668.9L1548.2 751.1L1548.8 732.5L1548.8 679.9L1549.2 745.1L1549.2 682.3L1549.8 685.2L1549.8 757.5L1550.2 765.2L1550.2 683.6L1550.8 680.0L1550.8 752.5L1551.2 734.2L1551.2 680.0L1551.8 670.6L1551.8 739.2L1552.2 698.6L1552.2 767.1L1552.8 764.0L1552.8 687.6L1553.2 683.9L1553.2 768.2L1553.8 756.9L1553.8 691.4L1554.2 696.4L1554.2 758.5L1554.8 693.5L1554.8 744.4L1555.2 769.9L1555.2 680.8L1555.8 753.9L1555.8 688.2L1556.2 761.6L1556.2 693.1L1556.8 769.5L1556.8 677.8L1557.2 691.3L1557.2 754.6L1557.8 767.0L1557.8 692.3L1558.2 693.1L1558.2 761.1L1558.8 692.9L1558.8 745.6L1559.2 751.5L1559.2 687.0L1559.8 694.6L1559.8 773.5L1560.2 699.6L1560.2 760.3L1560.8 754.3L1560.8 690.9L1561.2 684.7L1561.2 761.1L1561.8 749.1L1561.8 685.9L1562.2 697.0L1562.2 769.7L1562.8 683.5L1562.8 780.0L1563.2 768.2L1563.2 689.6L1563.8 702.7L1563.8 790.5L1564.2 700.3L1564.2 759.0L1564.8 693.7L1564.8 785.9L1565.2 706.5L1565.2 762.7L1565.8 691.9L1565.8 764.2L1566.2 699.4L1566.2 774.9L1566.8 692.3L1566.8 772.6L1567.2 694.0L1567.2 787.2L1567.8 717.0L1567.8 771.2L1568.2 786.7L1568.2 706.8L1568.8 706.6L1568.8 774.6L1569.2 694.3L1569.2 770.9L1569.8 716.7L1569.8 782.2L1570.2 696.3L1570.2 758.1L1570.8 703.5L1570.8 773.6L1571.2 771.5L1571.2 708.1L1571.8 714.3L1571.8 751.5L1572.2 767.9L1572.2 701.2L1572.8 696.0L1572.8 774.2L1573.2 765.0L1573.2 702.5L1573.8 791.4L1573.8 714.4L1574.2 786.0L1574.2 708.4L1574.8 713.0L1574.8 793.1L1575.2 768.7L1575.2 713.0L1575.8 776.8L1575.8 713.1L1576.2 770.0L1576.2 694.8L1576.8 719.2L1576.8 783.4L1577.2 793.9L1577.2 711.6L1577.8 705.9L1577.8 783.7L1578.2 800.9L1578.2 711.8L1578.8 711.0L1578.8 776.7L1579.2 712.6L1579.2 768.0L1579.8 708.9L1579.8 786.2L1580.2 709.1L1580.2 796.8L1580.8 706.2L1580.8 792.8L1581.2 713.7L1581.2 788.6L1581.8 712.1L1581.8 780.2L1582.2 786.5L1582.2 715.9L1582.8 789.3L1582.8 718.1L1583.2 794.4L1583.2 717.2L1583.8 782.3L1583.8 704.4L1584.2 778.0L1584.2 717.6L1584.8 712.8L1584.8 802.6L1585.2 780.0L1585.2 708.2L1585.8 775.3L1585.8 714.8L1586.2 791.1L1586.2 703.9L1586.8 717.0L1586.8 802.8L1587.2 697.3L1587.2 770.9L1587.8 802.8L1587.8 724.2L1588.2 721.3L1588.2 813.4L1588.8 704.0L1588.8 782.2L1589.2 718.5L1589.2 816.2L1589.8 715.5L1589.8 791.9L1590.2 721.4L1590.2 797.7L1590.8 726.9L1590.8 785.5L1591.2 720.3L1591.2 801.9L1591.8 819.5L1591.8 722.4L1592.2 825.7L1592.2 726.0L1592.8 724.2L1592.8 787.5L1593.2 727.3L1593.2 801.9L1593.8 809.2L1593.8 729.9L1594.2 710.3L1594.2 790.1L1594.8 822.0L1594.8 732.9L1595.2 728.6L1595.2 801.3L1595.8 730.6L1595.8 793.6L1596.2 817.1L1596.2 725.8L1596.8 799.7L1596.8 722.1L1597.2 727.4L1597.2 792.3L1597.8 723.8L1597.8 790.7L1598.2 729.3L1598.2 788.1L1598.8 717.0L1598.8 798.2L1599.2 727.6L1599.2 807.7L1599.8 801.8L1599.8 734.6L1600.2 829.4L1600.2 717.6L1600.8 731.5L1600.8 808.4L1601.2 810.1L1601.2 728.3L1601.8 728.2L1601.8 798.5L1602.2 812.4L1602.2 741.5L1602.8 732.3L1602.8 823.3L1603.2 735.1L1603.2 814.0L1603.8 808.9L1603.8 740.9L1604.2 753.7L1604.2 822.2L1604.8 730.3L1604.8 807.4L1605.2 743.4L1605.2 827.2L1605.8 745.5L1605.8 824.9L1606.2 819.6L1606.2 736.8L1606.8 804.9L1606.8 735.0L1607.2 825.2L1607.2 737.2L1607.8 830.8L1607.8 733.9L1608.2 817.3L1608.2 734.0L1608.8 746.6L1608.8 837.5L1609.2 748.6L1609.2 815.1L1609.8 750.7L1609.8 823.5L1610.2 821.8L1610.2 732.1L1610.8 746.3L1610.8 838.2L1611.2 825.2L1611.2 743.7L1611.8 822.6L1611.8 760.5L1612.2 826.0L1612.2 754.5L1612.8 750.7L1612.8 818.4L1613.2 754.1L1613.2 835.5L1613.8 829.2L1613.8 748.7L1614.2 764.9L1614.2 845.6L1614.8 749.5L1614.8 846.1L1615.2 761.0L1615.2 844.2L1615.8 755.3L1615.8 845.2L1616.2 856.2L1616.2 755.3L1616.8 827.3L1616.8 756.4L1617.2 859.1L1617.2 766.4L1617.8 747.7L1617.8 863.8L1618.2 748.9L1618.2 844.5L1618.8 847.7L1618.8 762.2L1619.2 845.3L1619.2 755.9L1619.8 835.6L1619.8 759.3L1620.2 759.8L1620.2 861.0L1620.8 845.6L1620.8 759.0L1621.2 768.7L1621.2 863.6L1621.8 848.4L1621.8 773.0L1622.2 762.5L1622.2 867.0L1622.8 870.8L1622.8 772.6L1623.2 855.1L1623.2 767.0L1623.8 764.9L1623.8 846.2L1624.2 860.4L1624.2 766.5L1624.8 851.9L1624.8 772.6L1625.2 778.6L1625.2 849.2L1625.8 774.8L1625.8 854.8L1626.2 761.3L1626.2 855.6L1626.8 878.9L1626.8 768.1L1627.2 783.5L1627.2 863.4L1627.8 847.2L1627.8 774.6L1628.2 771.2L1628.2 854.1L1628.8 781.5L1628.8 870.2L1629.2 852.3L1629.2 781.3L1629.8 787.6L1629.8 900.8L1630.2 857.9L1630.2 781.3L1630.8 790.8L1630.8 862.3L1631.2 879.9L1631.2 786.2L1631.8 860.5L1631.8 791.3L1632.2 783.7L1632.2 859.2L1632.8 780.2L1632.8 849.0L1633.2 859.5L1633.2 786.6L1633.8 873.7L1633.8 778.3L1634.2 780.9L1634.2 864.1L1634.8 780.1L1634.8 877.7L1635.2 885.1L1635.2 794.4L1635.8 776.5L1635.8 872.1L1636.2 867.4L1636.2 792.8L1636.8 791.0L1636.8 866.4L1637.2 883.9L1637.2 786.4L1637.8 779.4L1637.8 871.3L1638.2 880.6L1638.2 798.2L1638.8 893.0L1638.8 800.0L1639.2 857.4L1639.2 784.4L1639.8 795.8L1639.8 873.9L1640.2 792.6L1640.2 889.5L1640.8 796.7L1640.8 864.8L1641.2 797.8L1641.2 879.0L1641.8 783.4L1641.8 904.3L1642.2 803.6L1642.2 891.3L1642.8 880.1L1642.8 805.1L1643.2 876.7L1643.2 796.2L1643.8 875.9L1643.8 797.4L1644.2 881.3L1644.2 801.1L1644.8 800.5L1644.8 889.7L1645.2 883.8L1645.2 797.0L1645.8 813.6L1645.8 906.9L1646.2 808.0L1646.2 890.6L1646.8 810.5L1646.8 895.5L1647.2 906.1L1647.2 812.4L1647.8 892.5L1647.8 814.2L1648.2 893.8L1648.2 804.6L1648.8 810.7L1648.8 900.7L1649.2 814.8L1649.2 900.9L1649.8 810.0L1649.8 919.3L1650.2 822.4L1650.2 901.9L1650.8 818.9L1650.8 903.3L1651.2 912.8L1651.2 811.0L1651.8 897.1L1651.8 817.8L1652.2 803.8L1652.2 891.6L1652.8 815.7L1652.8 894.5L1653.2 897.1L1653.2 829.6L1653.8 814.5L1653.8 892.6L1654.2 814.3L1654.2 924.7L1654.8 831.3L1654.8 885.1L1655.2 824.5L1655.2 931.4L1655.8 822.7L1655.8 910.0L1656.2 824.1L1656.2 895.7L1656.8 909.2L1656.8 827.5L1657.2 892.4L1657.2 826.3L1657.8 830.8L1657.8 933.1L1658.2 834.1L1658.2 915.3L1658.8 820.0L1658.8 924.2L1659.2 906.7L1659.2 831.2L1659.8 816.6L1659.8 928.3L1660.2 901.3L1660.2 823.1L1660.8 915.0L1660.8 828.4L1661.2 835.4L1661.2 928.4L1661.8 839.9L1661.8 934.0L1662.2 929.1L1662.2 822.1L1662.8 825.7L1662.8 939.5L1663.2 827.8L1663.2 926.8L1663.8 840.4L1663.8 954.2L1664.2 923.8L1664.2 833.5L1664.8 833.3L1664.8 914.6L1665.2 844.5L1665.2 921.1L1665.8 925.2L1665.8 834.7L1666.2 840.1L1666.2 929.6L1666.8 838.7L1666.8 918.8L1667.2 838.4L1667.2 951.2L1667.8 948.4L1667.8 837.2L1668.2 837.0L1668.2 914.9L1668.8 840.8L1668.8 930.8L1669.2 915.4L1669.2 852.7L1669.8 934.7L1669.8 844.2L1670.2 910.9L1670.2 838.4L1670.8 840.9L1670.8 917.0L1671.2 858.9L1671.2 927.3L1671.8 854.2L1671.8 920.0L1672.2 851.5L1672.2 934.4L1672.8 921.6L1672.8 861.8L1673.2 849.5L1673.2 928.0L1673.8 844.9L1673.8 944.8L1674.2 848.9L1674.2 924.1L1674.8 927.0L1674.8 862.8L1675.2 931.1L1675.2 852.4L1675.8 921.0L1675.8 856.0L1676.2 941.0L1676.2 860.2L1676.8 943.3L1676.8 868.3L1677.2 941.4L1677.2 863.0L1677.8 858.9L1677.8 942.6L1678.2 933.9L1678.2 862.5L1678.8 958.4L1678.8 874.0L1679.2 947.9L1679.2 865.7L1679.8 960.8L1679.8 867.4L1680.2 869.0L1680.2 955.6L1680.8 945.5L1680.8 873.3L1681.2 869.5L1681.2 943.6L1681.8 962.5L1681.8 856.7L1682.2 950.6L1682.2 872.2L1682.8 953.1L1682.8 860.5L1683.2 952.4L1683.2 870.1L1683.8 941.4L1683.8 883.5L1684.2 870.1L1684.2 956.4L1684.8 877.1L1684.8 948.3L1685.2 975.7L1685.2 881.5L1685.8 881.1L1685.8 967.5L1686.2 972.1L1686.2 875.1L1686.8 975.8L1686.8 881.6L1687.2 884.8L1687.2 980.8L1687.8 884.1L1687.8 975.2L1688.2 887.2L1688.2 978.9L1688.8 874.0L1688.8 952.2L1689.2 872.3L1689.2 964.9L1689.8 892.0L1689.8 961.6L1690.2 893.4L1690.2 972.9L1690.8 971.8L1690.8 897.8L1691.2 970.6L1691.2 884.3L1691.8 889.8L1691.8 966.6L1692.2 891.3L1692.2 965.3L1692.8 894.8L1692.8 971.1L1693.2 975.8L1693.2 896.5L1693.8 899.1L1693.8 982.1L1694.2 895.4L1694.2 985.5L1694.8 893.1L1694.8 984.6L1695.2 982.4L1695.2 903.6L1695.8 981.2L1695.8 904.9L1696.2 986.5L1696.2 899.1L1696.8 996.3L1696.8 898.9L1697.2 901.3L1697.2 1033.8L1697.8 986.8L1697.8 899.1L1698.2 898.6L1698.2 999.0L1698.8 889.7L1698.8 983.4L1699.2 905.9L1699.2 979.4L1699.8 911.5L1699.8 1007.5L1700.2 1003.0L1700.2 908.7L1700.8 906.1L1700.8 1013.8L1701.2 905.3L1701.2 998.5L1701.8 902.9L1701.8 1009.7L1702.2 908.7L1702.2 999.4L1702.8 900.2L1702.8 997.0L1703.2 1008.1L1703.2 902.1L1703.8 903.6L1703.8 1012.0L1704.2 914.3L1704.2 1018.4L1704.8 1006.3L1704.8 905.0L1705.2 994.5L1705.2 894.1L1705.8 911.2L1705.8 1017.3L1706.2 913.4L1706.2 998.6L1706.8 917.8L1706.8 1023.2L1707.2 903.8L1707.2 1001.3L1707.8 910.3L1707.8 1016.5L1708.2 908.9L1708.2 1003.8L1708.8 917.4L1708.8 1033.2L1709.2 1007.2L1709.2 910.5L1709.8 914.0L1709.8 1011.1L1710.2 1008.8L1710.2 918.6L1710.8 1032.5L1710.8 923.0L1711.2 1008.8L1711.2 920.3L1711.8 1022.0L1711.8 920.6L1712.2 925.1L1712.2 1006.0" stroke="#000" stroke-width="2.4" stroke-dasharray="53 11.3 10.8 11.3" stroke-dashoffset="29.4"/>
<path d="M1248.9 326V470" stroke="#000" stroke-width="2.6"/>
<path d="M1281.2 677.2V692.4M1284.8 649.2V692.9M1286.8 665.4V676.6M1287.8 668.5V681.8M1289.2 676.9V692.6M1290.2 678.8V699.8M1291.2 687.6V721.7M1292.2 656.6V685.7M1293.2 658.0V718.2M1294.2 679.1V688.8M1295.2 659.5V675.5M1296.2 690.0V727.9M1297.2 675.3V711.6M1298.2 692.9V720.3M1299.2 686.2V717.1M1300.2 708.5V718.1M1301.2 683.1V698.3M1302.2 679.0V711.2M1303.2 677.4V688.7M1304.2 677.8V713.8M1305.2 686.7V725.6M1306.2 700.9V731.9M1307.2 700.8V733.9M1308.2 686.9V702.2M1309.2 688.2V731.3M1310.2 694.5V720.7M1311.2 690.7V715.2M1312.2 702.8V722.1M1313.2 679.0V714.7M1314.2 705.3V726.5M1315.2 671.7V698.9M1316.2 673.9V705.3M1317.2 667.5V707.6M1318.2 697.1V725.1M1319.2 686.0V739.4M1320.2 679.1V689.7M1321.2 709.1V749.0M1322.2 676.9V716.9M1323.2 699.5V725.9M1324.2 692.5V719.0M1325.2 692.8V713.2M1326.2 706.8V727.9M1327.2 690.5V717.3M1328.2 681.7V719.6M1329.2 686.5V757.8M1330.2 712.8V734.4M1331.2 697.0V727.5M1332.2 705.8V737.4M1333.2 703.8V718.2M1334.2 682.5V753.7M1335.2 700.9V748.7M1336.2 700.8V716.3M1337.2 703.1V720.8M1338.2 686.3V722.5M1339.2 707.8V718.9M1340.2 701.8V727.0M1341.2 711.9V759.4M1342.2 709.1V733.1M1343.2 700.6V724.6M1344.2 715.9V737.6M1345.2 697.4V739.3M1346.2 729.6V743.9M1347.2 700.7V726.2M1348.2 718.4V737.3M1349.2 719.9V763.0M1350.2 698.6V735.3M1351.2 706.3V742.8M1352.2 711.0V738.9M1353.2 718.3V741.9M1354.2 711.0V734.3M1355.2 708.1V745.5M1356.2 699.7V730.3M1357.2 697.6V736.2M1358.2 715.5V748.6M1359.2 676.8V732.0M1360.2 706.2V724.0M1361.2 714.1V742.9M1362.2 704.1V743.5M1363.2 691.5V732.8M1364.2 699.9V740.9M1365.2 702.1V730.1M1366.2 712.4V745.2M1367.2 714.7V751.8M1368.2 712.6V729.4M1369.2 710.0V747.7M1370.2 703.1V731.0M1371.2 718.1V750.4M1372.2 711.9V726.2M1373.2 714.8V742.6M1374.2 722.0V759.3M1375.2 728.0V745.5M1376.2 703.8V746.1M1377.2 706.1V734.3M1378.2 718.6V745.6M1379.2 730.4V764.7M1380.2 716.0V752.5M1381.2 717.7V745.2M1382.2 713.0V741.4M1383.2 708.8V728.5M1384.2 718.8V757.2M1385.2 713.7V733.6M1386.2 715.3V739.7M1387.2 735.1V770.4M1388.2 724.7V759.1M1389.2 732.7V754.8M1390.2 719.6V752.5M1391.2 718.9V760.8M1392.2 723.7V764.2M1393.2 732.9V755.8M1394.2 721.8V758.0M1395.2 730.5V743.3M1396.2 732.6V758.4M1397.2 711.0V753.4M1398.2 716.8V762.2M1399.2 716.4V764.1M1400.2 717.5V769.0M1401.2 717.8V745.8M1402.2 724.7V740.9M1403.2 729.5V762.9M1404.2 736.3V771.1M1405.2 719.2V754.8M1406.2 718.1V754.7M1407.2 724.7V758.2M1408.2 734.1V770.2M1409.2 725.6V753.0M1410.2 741.2V765.5M1411.2 722.3V756.4M1412.2 733.5V767.6M1413.2 739.7V757.6M1414.2 729.3V762.8M1415.2 723.1V760.2M1416.2 732.5V798.4M1417.2 738.6V775.1M1418.2 733.9V772.3M1419.2 736.2V783.3M1420.2 736.1V775.6M1421.2 742.4V800.1M1422.2 729.7V751.6M1423.2 728.9V769.0M1424.2 735.3V783.6M1425.2 733.8V772.9M1426.2 765.7V781.9M1427.2 734.3V776.0M1428.2 730.4V769.1M1429.2 734.5V773.1M1430.2 745.9V794.0M1431.2 756.2V785.9M1432.2 752.3V785.4M1433.2 750.3V772.5M1434.2 734.0V801.1M1435.2 743.3V768.7M1436.2 750.1V784.0M1437.2 752.7V776.3M1438.2 742.1V799.2M1439.2 756.2V804.8M1440.2 750.9V774.7M1441.2 743.4V789.2M1442.2 749.2V793.7M1443.2 753.4V791.0M1444.2 764.6V789.1M1445.2 765.1V782.3M1446.2 748.7V781.0M1447.2 762.2V802.1M1448.2 783.8V804.3M1449.2 754.7V796.9M1450.2 761.2V795.8M1451.2 749.9V801.2M1452.2 762.8V806.3M1453.2 761.1V780.1M1454.2 754.9V797.2M1455.2 752.8V799.4M1456.2 737.9V795.6M1457.2 779.9V809.6M1458.2 759.1V800.4M1459.2 765.1V812.7M1460.2 760.7V801.5M1461.2 767.3V796.6M1462.2 774.1V795.6M1463.2 767.8V789.1M1464.2 761.6V821.7M1465.2 753.2V798.3M1466.2 770.9V801.7M1467.2 759.7V799.8M1468.2 761.0V811.7M1469.2 770.6V819.3M1470.2 762.0V811.2M1471.2 769.2V804.5M1472.2 775.3V817.7M1473.2 768.5V808.8M1474.2 770.6V812.6M1475.2 769.3V813.6M1476.2 770.7V808.8M1477.2 777.9V809.0M1478.2 782.6V811.8M1479.2 772.0V823.2M1480.2 764.0V818.4M1481.2 783.7V819.6M1482.2 778.2V813.1M1483.2 782.7V822.5M1484.2 785.9V828.4M1485.2 772.0V827.9M1486.2 779.1V843.1M1487.2 769.2V821.9M1488.2 780.9V820.6M1489.2 783.2V826.8M1490.2 781.9V827.0M1491.2 791.5V820.4M1492.2 799.3V838.5M1493.2 789.4V831.3M1494.2 787.3V843.7M1495.2 790.9V840.3M1496.2 779.5V827.5M1497.2 785.0V838.6M1498.2 781.5V821.4M1499.2 804.4V829.9M1500.2 784.8V851.3M1501.2 791.0V826.1M1502.2 804.2V842.4M1503.2 805.4V837.3M1504.2 804.8V836.3M1505.2 813.1V849.7M1506.2 796.9V873.7M1507.2 805.6V852.8M1508.2 811.8V858.9M1509.2 788.9V854.3M1510.2 793.7V840.7M1511.2 812.1V842.9M1512.2 808.5V848.8M1513.2 815.3V852.6M1514.2 808.4V851.5M1515.2 807.4V848.2M1516.2 813.6V846.3M1517.2 820.0V858.4M1518.2 813.0V854.9M1519.2 816.0V849.6M1520.2 810.5V851.4M1521.2 822.7V862.8M1522.2 826.7V861.9M1523.2 808.2V858.3M1524.2 827.7V856.8M1525.2 816.3V844.9M1526.2 814.6V863.9M1527.2 825.9V852.5M1528.2 826.4V868.7M1529.2 824.6V865.7M1530.2 824.9V864.1M1531.2 823.3V856.2M1532.2 828.4V868.8M1533.2 834.9V868.6M1534.2 826.6V871.8M1535.2 834.1V871.0M1536.2 829.8V860.1M1537.2 842.5V876.7M1538.2 839.8V878.3M1539.2 834.8V867.5M1540.2 841.5V888.4M1541.2 838.5V874.3M1542.2 837.7V881.3M1543.2 836.6V891.3M1544.2 849.9V900.2M1545.2 845.9V886.3M1546.2 847.3V875.2M1547.2 860.1V890.6M1548.2 850.9V883.2M1549.2 851.5V889.7M1550.2 854.7V886.8M1551.2 861.5V904.3M1552.2 858.2V896.5M1553.2 843.2V887.1M1554.2 849.2V895.3M1555.2 851.1V898.0M1556.2 866.1V906.9M1557.2 859.8V896.1M1558.2 855.2V889.3M1559.2 864.5V888.3M1560.2 856.3V899.5M1561.2 866.9V898.9M1562.2 868.9V911.1M1563.2 868.7V907.1M1564.2 872.0V898.7M1565.2 875.8V901.3M1566.2 873.7V912.2M1567.2 874.3V914.0M1568.2 883.2V919.8M1569.2 878.1V905.1M1570.2 881.1V919.0M1571.2 878.3V915.1M1572.2 876.0V905.5M1573.2 883.9V914.7M1574.2 880.6V920.2M1575.2 877.3V924.1M1576.2 892.7V929.4M1577.2 890.3V933.2M1578.2 884.0V935.6M1579.2 876.8V928.3M1580.2 889.9V934.1M1581.2 879.8V928.2M1582.2 888.6V934.4M1583.2 896.1V930.0M1584.2 896.1V932.8M1585.2 893.4V940.4M1586.2 900.5V940.5M1587.2 889.8V940.8M1588.2 896.5V932.1M1589.2 893.3V948.6M1590.2 891.6V934.6M1591.2 894.6V937.6M1592.2 902.3V938.6M1593.2 895.7V952.4M1594.2 901.2V952.0M1595.2 912.7V959.8M1596.2 913.1V957.9M1597.2 912.3V954.4M1598.2 917.4V949.7M1599.2 912.9V956.1M1600.2 919.9V959.2M1601.2 916.3V961.0M1602.2 909.2V960.9M1603.2 924.2V961.2M1604.2 912.8V961.8M1605.2 920.7V967.4M1606.2 923.8V968.0M1607.2 926.0V964.8M1608.2 924.3V983.5M1609.2 911.5V966.4M1610.2 922.1V968.9M1611.2 932.9V974.7M1612.2 934.7V966.2M1613.2 931.3V971.6M1614.2 933.5V969.9M1615.2 937.3V973.9M1616.2 934.8V971.4M1617.2 942.5V980.2M1618.2 938.9V988.2M1619.2 940.4V985.0M1620.2 945.8V995.8M1621.2 949.9V982.5M1622.2 955.4V994.7M1623.2 944.3V992.4M1624.2 953.8V994.1M1625.2 960.1V991.4M1626.2 954.5V999.4M1627.2 960.6V1008.7M1628.2 963.9V1003.5M1629.2 963.8V1018.0M1630.2 967.7V1017.8M1631.2 975.8V1012.8M1632.2 970.2V1016.8M1633.2 971.2V1014.4M1634.2 978.7V1022.4M1635.2 974.2V1015.0M1636.2 989.9V1026.4M1637.2 980.4V1021.1M1638.2 983.0V1025.7M1639.2 987.7V1034.6M1640.2 998.7V1027.3M1641.2 983.6V1038.1M1642.2 994.3V1040.2M1643.2 996.5V1041.7M1644.2 988.9V1050.1M1645.2 1002.7V1042.5M1646.2 998.8V1041.2M1647.2 1006.7V1048.0M1648.2 1007.9V1057.8M1649.2 1008.1V1044.8M1650.2 1007.9V1052.9M1651.2 1008.5V1056.3M1652.2 1013.0V1060.8M1653.2 1015.2V1050.8M1654.2 1014.4V1054.7M1655.2 1022.8V1066.3M1656.2 1014.5V1058.4M1657.2 1016.5V1058.5M1658.2 1020.0V1071.3M1659.2 1023.8V1068.3M1660.2 1027.4V1068.0M1661.2 1029.5V1072.2M1662.2 1030.4V1064.4M1663.2 1036.3V1077.7M1664.2 1034.3V1071.8M1665.2 1031.2V1073.5M1666.2 1037.0V1077.6M1667.2 1047.0V1089.4M1668.2 1040.1V1084.4M1669.2 1042.0V1083.3M1670.2 1046.6V1087.1M1671.2 1044.4V1085.6M1672.2 1046.2V1089.4M1673.2 1047.2V1087.8M1674.2 1055.8V1101.6M1675.2 1060.1V1104.0M1676.2 1057.5V1096.7M1677.2 1056.2V1099.8M1678.2 1068.0V1104.6M1679.2 1068.3V1107.2M1680.2 1077.3V1114.5M1681.2 1073.0V1124.4M1682.2 1079.2V1117.0M1683.2 1082.8V1126.1M1684.2 1087.8V1132.2M1685.2 1087.2V1129.9M1686.2 1091.6V1132.7M1687.2 1095.9V1130.0M1688.2 1099.8V1137.7M1689.2 1100.6V1143.8M1690.2 1104.1V1148.3M1691.2 1100.2V1146.6M1692.2 1114.4V1153.6M1693.2 1110.4V1151.6M1694.2 1110.3V1153.9M1695.2 1118.1V1169.8M1696.2 1115.2V1157.1M1697.2 1125.9V1165.2M1698.2 1120.2V1161.9M1699.2 1122.2V1174.6M1700.2 1130.4V1170.1M1701.2 1136.8V1171.8M1702.2 1134.6V1180.6M1703.2 1132.2V1171.5M1704.2 1138.0V1180.6M1705.2 1136.4V1176.6M1706.2 1144.7V1180.2M1707.2 1140.5V1182.2M1708.2 1146.8V1183.1M1709.2 1154.7V1187.9M1710.2 1145.5V1193.4M1711.2 1151.4V1184.3M1712.2 1153.9V1185.5" stroke="#ff0000" stroke-width="2.4"/>
<path d="M273.0 672.5L283.0 672.7L361.1 677.3L411.0 674.5L446.7 676.8L475.6 679.8L499.0 682.8L518.4 689.8L535.3 680.6L550.3 668.5L563.7 670.2L575.8 644.4L586.8 644.4L597.0 641.6L606.4 637.4L615.2 641.6L623.8 636.1L630.4 636.6L632.8 638.5L636.6 650.8L639.0 656.5L642.8 656.7L653.7 664.1L658.9 666.8L664.2 666.0L666.5 677.0L670.3 691.7L675.6 680.5L683.2 677.0L686.0 670.8L688.9 666.8L696.4 672.5L701.2 674.1L706.9 669.8L710.7 657.5L712.6 656.5L715.4 663.4L722.6 671.0L727.3 667.0L731.6 670.8L733.8 682.2L735.2 692.1L737.5 709.2L739.5 704.0L747.7 696.6L752.0 701.2L754.4 706.9L756.6 698.8L758.2 689.3L763.9 685.5L765.0 675.5L768.6 667.7L771.0 661.8L773.8 658.0L775.7 667.9L778.4 657.0L781.9 657.0L783.3 664.1L784.8 664.1L788.6 669.8L791.9 670.8L792.8 676.5L793.3 688.3L794.3 691.5L796.2 688.8L799.0 688.3L802.3 688.3L803.3 678.4L805.2 666.0L807.6 666.0L809.5 671.3L811.4 672.7L815.2 673.2L816.6 683.1L818.0 694.5L818.5 701.2L819.7 669.8L821.4 668.9L823.1 667.5L824.7 663.4L826.3 667.5L827.9 671.6L829.5 677.3L831.1 683.4L832.6 673.3L834.1 670.3L835.6 667.2L837.1 678.0L838.6 676.4L840.0 672.5L841.5 669.4L842.9 662.8L844.3 671.4L845.7 671.8L847.1 683.6L848.4 672.6L849.8 670.0L851.1 658.9L852.4 662.2L853.7 669.9L855.0 668.8L856.3 662.1L857.5 662.1L858.8 668.9L860.0 667.9L861.3 683.0L862.5 678.7L863.7 677.6L864.9 678.8L866.1 693.2L867.2 692.7L868.4 694.1L869.5 699.4L870.7 689.4L871.8 682.6L872.9 683.0L874.0 673.3L875.1 675.1L876.2 670.1L877.3 670.4L878.4 671.5L879.4 676.7L880.5 679.6L881.6 673.2L882.6 685.0L883.6 680.8L884.6 675.7L885.6 670.0L886.7 666.7L887.7 668.2L888.6 667.8L889.6 672.4L890.6 667.7L891.6 669.4L892.5 670.8L893.5 674.2L894.4 676.0L895.4 679.3L896.3 682.6L897.2 685.4L898.1 691.8L899.0 669.5L899.9 673.1L900.8 673.1L901.7 675.1L902.6 660.8L903.5 661.9L904.4 662.0L905.2 659.5L906.1 677.9L907.0 677.9L907.8 676.5L908.6 677.1L909.5 701.0L910.3 689.8L911.1 683.0L912.0 676.9L912.8 671.3L913.6 676.4L914.4 679.9L915.2 677.6L916.0 667.2L916.8 667.8L917.6 665.7L918.4 665.7L919.1 667.9L919.9 666.6L920.7 665.8L921.4 654.8L922.2 661.6L923.0 667.9L923.7 661.8L924.5 661.5L925.2 661.7L925.9 662.7L926.7 664.5L927.4 669.4L928.1 662.1L928.8 658.8L929.6 665.4L930.3 673.3L931.0 674.9L931.7 673.2L932.4 673.6L933.1 686.4L933.8 701.3L934.5 706.8L935.1 723.0L935.8 722.6L936.5 707.2L937.2 710.4L937.8 703.6L938.5 706.2L939.2 693.4L939.8 691.2L940.5 685.1L941.1 685.6L941.8 696.2L942.4 696.4L943.1 699.1L943.7 696.3L944.4 702.2L945.0 706.0L945.6 714.9L946.3 693.5L946.9 690.4L947.5 686.7L948.1 684.9L948.7 680.4L949.3 668.7L950.0 668.7L950.6 663.8L951.2 670.0L951.8 669.9L952.4 665.2L953.0 666.9L953.5 670.7L954.1 687.4L954.7 681.2L955.3 684.7L955.9 683.7L956.5 682.0L957.0 689.1L957.6 685.1L958.2 683.7L958.8 684.7L959.3 692.2L959.9 699.0L960.5 704.7L961.0 690.1L961.6 691.5L962.1 697.4L962.7 700.5L963.2 692.3L963.8 683.4L964.3 683.6L964.9 683.2L965.4 698.7L965.9 691.0L966.5 685.8L967.0 683.2L967.5 678.3L968.1 678.7L968.6 674.6L969.1 674.0L969.6 672.1L970.1 678.6L970.7 674.1L971.2 673.7L971.7 678.8L972.2 683.3L972.7 686.0L973.2 691.0L973.7 675.3L974.2 673.9L974.7 679.4L975.2 680.2L975.7 681.7L976.2 680.8L976.7 675.0L977.2 675.7L977.7 691.2L978.2 693.9L978.7 687.7L979.2 684.8L979.6 672.6L980.1 677.3L980.6 680.1L981.1 677.7L981.5 677.8L982.0 677.9L982.5 685.0L983.0 686.5L983.4 691.9L983.9 681.6L984.4 665.7L984.8 667.4L985.3 670.0L985.7 667.5L986.2 668.4L986.7 664.1L987.1 671.3L987.6 662.5L988.0 668.3L988.5 668.3L988.9 664.1L989.4 664.5L989.8 662.9L990.3 669.1L990.7 667.9L991.1 688.0L991.6 712.9L992.0 710.1L992.4 716.7L992.9 692.8L993.3 679.7L993.7 673.8L994.2 677.3L994.6 674.9L995.0 672.6L995.5 668.6L995.9 670.6L996.3 669.9L996.7 679.1L997.1 682.8L997.6 677.6L998.0 679.0L998.4 681.6L998.8 685.0L999.2 685.4L999.6 691.9L1000.0 696.4L1000.5 699.8L1000.9 706.9L1001.3 698.3L1001.7 690.6L1002.1 692.1L1002.5 687.0L1002.9 704.6L1003.3 684.8L1003.7 684.0L1004.1 679.8L1004.5 685.1L1004.9 690.1L1005.3 676.1L1005.7 680.4L1006.1 677.6L1006.4 680.9L1006.8 677.2L1007.2 677.5L1007.6 674.3L1008.0 675.9L1008.4 689.8L1008.8 687.3L1009.1 690.2L1009.5 699.9L1009.9 705.9L1010.3 703.0L1010.7 690.9L1011.0 690.5L1011.4 693.7L1011.8 688.8L1012.2 689.2L1012.5 691.9L1012.9 694.4L1013.3 693.1L1013.6 716.1L1014.0 716.1L1014.4 693.0L1014.7 699.7L1015.1 680.3L1015.5 677.9L1015.8 673.9L1016.2 674.6L1016.6 672.1L1016.9 671.4L1017.3 678.9L1017.6 670.0L1018.0 683.5L1018.3 687.4L1018.7 678.8L1019.0 680.1L1019.4 679.7L1019.8 677.2L1020.1 680.3L1020.5 691.4L1020.8 691.9L1021.1 685.9L1021.5 686.1L1021.8 684.2L1022.2 674.8L1022.5 677.7L1022.9 678.2L1023.2 676.3L1023.6 675.1L1023.9 678.1L1024.2 685.0L1024.6 677.3L1024.9 689.3L1025.2 675.3L1025.6 675.6L1025.9 675.9L1026.3 666.1L1026.6 655.5L1026.9 656.2L1027.2 660.0L1027.6 659.1L1027.9 668.4L1028.2 655.4L1028.6 655.2L1028.9 660.4L1029.2 675.1L1029.5 667.5L1029.9 671.9L1030.2 670.1L1030.5 668.2L1030.8 679.4L1031.2 679.4L1031.5 682.7L1031.8 682.8L1032.1 698.6L1032.4 680.8L1032.8 672.2L1033.1 671.9L1033.4 676.9L1033.7 677.1L1034.0 677.0L1034.3 675.0L1034.6 670.6L1035.0 679.5L1035.3 696.5L1035.6 694.3L1035.9 694.4L1036.2 694.4L1036.5 692.7L1036.8 693.2L1037.1 702.0L1037.4 704.6L1037.7 672.6L1038.0 676.9L1038.3 677.0L1038.6 679.6L1038.9 682.6L1039.2 674.7L1039.5 673.7L1039.8 677.8L1040.1 708.0L1040.4 705.9L1040.7 703.9L1041.0 690.4L1041.3 690.5L1041.6 704.0L1041.9 707.9L1042.2 701.1L1042.5 705.8L1042.8 695.7L1043.1 686.1L1043.4 689.0L1043.7 685.9L1044.0 676.7L1044.3 672.0L1044.5 675.6L1044.8 671.1L1045.1 667.6L1045.4 674.4L1045.7 679.7L1046.0 680.5L1046.3 689.8L1046.6 689.1L1046.8 689.5L1047.1 698.5L1047.4 719.5L1047.7 722.4L1048.0 714.1L1048.2 693.5L1048.5 681.6L1048.8 687.1L1049.1 686.2L1049.4 683.2L1049.6 682.5L1049.9 673.4L1050.2 668.9L1050.5 679.0L1050.7 682.6L1051.0 682.7L1051.3 682.5L1051.6 677.5L1051.8 677.3L1052.1 682.4L1052.4 690.4L1052.7 688.5L1052.9 700.1L1053.2 686.9L1053.5 684.0L1053.7 693.5L1054.0 696.1L1054.3 689.1L1054.5 687.0L1054.8 668.9L1055.1 664.6L1055.3 669.9L1055.6 670.5L1055.9 659.3L1056.1 655.7L1056.4 661.4L1056.7 664.0L1056.9 681.0L1057.2 686.9L1057.4 685.2L1057.7 678.3L1058.0 697.2L1058.2 705.1L1058.5 691.5L1058.7 686.1L1059.0 688.7L1059.3 689.6L1059.5 695.0L1059.8 708.6L1060.0 703.2L1060.3 704.3L1060.5 727.0L1060.8 744.4L1061.0 737.8L1061.3 726.7L1061.5 702.5L1061.8 702.4L1062.1 695.9L1062.3 686.7L1062.6 684.6L1062.8 679.9L1063.1 679.8L1063.3 677.4L1063.6 687.7L1063.8 688.3L1064.1 692.7L1064.3 696.7L1064.5 690.3L1064.8 685.9L1065.0 683.6L1065.3 682.9L1065.5 682.5L1065.8 680.2L1066.0 682.7L1066.3 678.7L1066.5 685.5L1066.7 695.5L1067.0 683.9L1067.2 673.5L1067.5 662.7L1067.7 663.4L1068.0 661.6L1068.2 657.7L1068.4 653.2L1068.7 653.9L1068.9 659.0L1069.1 667.4L1069.4 679.6L1069.6 656.7L1069.9 657.6L1070.1 657.1L1070.3 659.5L1070.6 659.1L1070.8 656.4L1071.0 659.1L1071.3 658.5L1071.5 672.3L1071.7 674.1L1072.0 687.0L1072.2 682.4L1072.4 681.2L1072.7 689.2L1072.9 678.2L1073.1 679.5L1073.4 673.7L1073.6 671.1L1073.8 665.6L1074.1 663.0L1074.3 662.4L1074.5 662.7L1074.7 661.1L1075.0 659.7L1075.2 661.6L1075.4 662.5L1075.6 666.9L1075.9 668.9L1076.1 669.2L1076.3 668.9L1076.5 675.7L1076.8 675.9L1077.0 688.4L1077.2 685.4L1077.4 689.9L1077.7 698.6L1077.9 689.5L1078.1 690.5L1078.3 686.1L1078.5 680.7L1078.8 679.9L1079.0 677.6L1079.2 668.7L1079.4 668.9L1079.6 674.5L1079.9 675.0L1080.1 677.0L1080.3 667.9L1080.5 672.0L1080.7 677.7L1081.0 670.5L1081.2 668.6L1081.4 667.7L1081.6 664.4L1081.8 667.9L1082.0 673.3L1082.3 668.9L1082.5 666.2L1082.7 675.8L1082.9 669.2L1083.1 653.5L1083.3 654.7L1083.5 647.0L1083.7 644.5L1084.0 644.4L1084.2 638.2L1084.4 636.6L1084.6 640.6L1084.8 645.3L1085.0 643.4L1085.2 651.0L1085.4 661.8L1085.6 662.8L1085.8 675.9L1086.1 686.4L1086.3 688.8L1086.5 710.7L1086.7 725.7L1086.9 688.7L1087.1 686.6L1087.3 689.2L1087.5 692.5L1087.7 688.7L1087.9 685.9L1088.1 680.0L1088.3 671.5L1088.5 671.2L1088.7 670.6L1088.9 670.7L1089.1 664.6L1089.3 664.2L1089.6 663.1L1089.8 654.0L1090.0 660.2L1090.2 672.0L1090.4 672.3L1090.6 673.1L1090.8 670.4L1091.0 672.7L1091.2 670.0L1091.4 679.3L1091.6 677.3L1091.8 676.9L1092.0 661.8L1092.2 662.2L1092.4 668.4L1092.6 666.7L1092.8 661.8L1092.9 670.6L1093.1 660.9L1093.3 658.3L1093.5 669.8L1093.7 659.2L1093.9 656.7L1094.1 655.1L1094.3 659.9L1094.5 660.0L1094.7 651.7L1094.9 655.8L1095.1 656.8L1095.3 665.7L1095.5 669.3L1095.7 672.3L1095.9 664.6L1096.1 662.2L1096.3 680.5L1096.5 681.8L1096.6 667.2L1096.8 667.1L1097.0 665.3L1097.2 666.2L1097.4 670.7L1097.6 673.4L1097.8 670.3L1098.0 663.5L1098.2 668.3L1098.4 668.9L1098.5 672.3L1098.7 672.3L1098.9 682.7L1099.1 676.3L1099.3 657.1L1099.5 650.6L1099.7 657.3L1099.9 657.0L1100.0 653.7L1100.2 654.6L1100.4 654.1L1100.6 657.4L1100.8 677.2L1101.0 693.7L1101.2 687.7L1101.3 687.8L1101.5 679.5L1101.7 676.6L1101.9 668.9L1102.1 664.3L1102.3 662.6L1102.5 667.4L1102.6 668.6L1102.8 669.5L1103.0 665.0L1103.2 664.0L1103.4 666.0L1103.5 669.7L1103.7 678.5L1103.9 674.8L1104.1 673.6L1104.3 668.8L1104.4 679.8L1104.6 680.8L1104.8 672.5L1105.0 672.7L1105.2 675.9L1105.3 674.7L1105.5 678.6L1105.7 677.0L1105.9 664.0L1106.1 662.3L1106.2 674.0L1106.4 674.9L1106.6 670.1L1106.8 650.4L1106.9 648.3L1107.1 648.5L1107.3 642.7L1107.5 643.7L1107.7 643.3L1107.8 643.7L1108.0 643.9L1108.2 659.8L1108.4 661.2L1108.5 665.0L1108.7 697.2L1108.9 694.2L1109.1 679.9L1109.2 673.6L1109.4 676.7L1109.6 663.9L1109.7 660.2L1109.9 651.6L1110.1 651.2L1110.3 651.6L1110.4 657.2L1110.6 651.2L1110.8 651.9L1110.9 661.2L1111.1 664.2L1111.3 671.0L1111.5 666.1L1111.6 663.8L1111.8 666.0L1112.0 678.0L1112.1 672.1L1112.3 675.4L1112.5 662.4L1112.6 657.6L1112.8 664.1L1113.0 668.7L1113.2 668.0L1113.3 668.9L1113.5 667.7L1113.7 667.2L1113.8 667.0L1114.0 676.0L1114.2 675.4L1114.3 677.3L1114.5 675.5L1114.7 670.9L1114.8 674.6L1115.0 674.8L1115.2 690.8L1115.3 692.0L1115.5 660.5L1115.7 654.8L1115.8 655.5L1116.0 651.8L1116.1 653.8L1116.3 649.9L1116.5 646.9L1116.6 642.6L1116.8 659.4L1117.0 655.6L1117.1 651.9L1117.3 657.0L1117.5 656.3L1117.6 651.1L1117.8 655.2L1117.9 662.0L1118.1 660.1L1118.3 671.2L1118.4 673.7L1118.6 663.9L1118.8 664.0L1118.9 679.6L1119.1 680.1L1119.2 682.5L1119.4 684.4L1119.6 663.9L1119.7 649.8L1119.9 653.1L1120.0 650.2L1120.2 650.3L1120.4 651.4L1120.5 650.0L1120.7 652.6L1120.8 667.7L1121.0 696.4L1121.1 709.3L1121.3 725.4L1121.5 719.8L1121.6 706.3L1121.8 703.1L1121.9 704.5L1122.1 696.1L1122.2 692.2L1122.4 696.0L1122.6 692.1L1122.7 684.0L1122.9 690.1L1123.0 695.0L1123.2 689.5L1123.3 681.7L1123.5 685.4L1123.6 674.1L1123.8 667.9L1124.0 674.0L1124.1 671.9L1124.3 671.6L1124.4 663.0L1124.6 670.9L1124.7 670.3L1124.9 671.9L1125.0 672.0L1125.2 670.7L1125.3 675.2L1125.5 673.0L1125.6 680.9L1125.8 676.6L1126.0 676.7L1126.1 687.2L1126.3 699.4L1126.4 701.7L1126.6 693.9L1126.7 675.2L1126.9 673.7L1127.0 673.2L1127.2 669.3L1127.3 669.6L1127.5 668.4L1127.6 667.6L1127.8 667.3L1127.9 678.8L1128.1 688.1L1128.2 695.6L1128.4 704.5L1128.5 690.4L1128.7 692.4L1128.8 684.9L1129.0 680.4L1129.1 677.5L1129.3 675.7L1129.4 665.8L1129.6 665.8L1129.7 646.7L1129.8 640.3L1130.0 643.8L1130.1 639.7L1130.3 635.5L1130.4 635.9L1130.6 639.7L1130.7 637.2L1130.9 654.8L1131.0 662.7L1131.2 663.0L1131.3 668.6L1131.5 673.0L1131.6 665.2L1131.8 659.5L1131.9 662.4L1132.0 659.0L1132.2 661.5L1132.3 658.6L1132.5 661.7L1132.6 670.3L1132.8 676.0L1132.9 679.3L1133.1 679.7L1133.2 683.9L1133.3 672.3L1133.5 673.0L1133.6 675.1L1133.8 678.4L1133.9 668.2L1134.1 664.2L1134.2 655.5L1134.3 653.8L1134.5 646.7L1134.6 642.3L1134.8 643.9L1134.9 637.2L1135.2 641.6L1135.2 630.6L1135.6 636.5L1135.8 641.9L1135.9 639.3L1136.2 641.1L1136.2 651.8L1136.6 668.7L1136.7 667.6L1136.9 667.3L1137.2 670.8L1137.2 679.7L1137.8 681.2L1137.8 691.9L1138.1 686.8L1138.3 669.7L1138.4 662.1L1138.8 657.9L1138.8 640.8L1139.1 642.8L1139.2 643.1L1139.4 652.2L1139.8 657.0L1139.8 697.4L1140.2 694.1L1140.2 697.6L1140.6 686.7L1140.7 691.8L1140.9 693.5L1141.2 694.1L1141.2 655.5L1141.8 652.8L1141.8 657.8L1142.2 654.5L1142.2 684.0L1142.6 690.7L1142.7 689.9L1142.9 688.1L1143.2 702.9L1143.2 655.2L1143.8 648.1L1143.8 644.2L1144.2 637.9L1144.2 663.6L1144.8 648.1L1144.8 659.2L1145.1 662.5L1145.3 663.8L1145.4 658.0L1145.8 685.4L1145.8 673.2L1146.2 669.1L1146.2 649.7L1146.8 652.9L1146.8 646.8L1147.2 646.4L1147.2 670.0L1147.8 665.1L1147.8 682.8L1148.2 677.6L1148.2 690.1L1148.8 680.7L1148.8 676.0L1149.2 681.9L1149.2 647.1L1149.6 649.2L1149.8 648.1L1149.9 654.7L1150.2 655.4L1150.2 638.2L1150.8 655.5L1150.8 640.7L1151.2 637.6L1151.2 657.3L1151.8 654.6L1151.8 659.0L1152.2 658.5L1152.2 652.6L1152.8 659.7L1152.8 677.1L1153.2 670.8L1153.2 677.1L1153.8 676.9L1153.8 683.6L1154.2 664.0L1154.2 645.2L1154.8 642.0L1154.8 648.8L1155.2 659.0L1155.2 684.7L1155.8 690.2L1155.8 674.9L1156.2 691.5L1156.2 667.0L1156.8 653.8L1156.8 640.9L1157.2 635.9L1157.2 626.1L1157.8 646.4L1157.8 630.8L1158.2 639.9L1158.2 668.2L1158.8 662.7L1158.8 696.1L1159.2 689.4L1159.2 677.4L1159.8 665.1L1159.8 668.2L1160.2 668.3L1160.2 683.1L1160.8 698.1L1160.8 691.0L1161.2 642.8L1161.2 632.1L1161.8 631.7L1161.8 625.9L1162.2 646.2L1162.2 663.6L1162.8 665.0L1162.8 672.9L1163.2 674.2L1163.2 668.8L1163.8 678.3L1163.8 655.5L1164.2 663.0L1164.2 653.5L1164.8 649.9L1164.8 645.0L1165.2 649.3L1165.2 657.3L1165.8 656.5L1165.8 695.7L1166.2 676.2L1166.2 663.4L1166.8 656.2L1166.8 646.8L1167.2 646.6L1167.2 653.0L1167.8 650.9L1167.8 636.6L1168.2 650.0L1168.2 685.2L1168.8 693.4L1168.8 669.8L1169.2 669.7L1169.2 649.6L1169.8 651.4L1169.8 665.6L1170.2 682.8L1170.2 678.1L1170.8 690.0L1170.8 655.3L1171.2 656.9L1171.2 642.3L1171.8 643.1L1171.8 653.6L1172.2 671.4L1172.2 653.7L1172.8 657.1L1172.8 676.3L1173.2 682.3L1173.2 662.2L1173.8 663.1L1173.8 648.7L1174.2 646.9L1174.2 658.5L1174.8 644.5L1174.8 660.6L1175.2 643.6L1175.2 656.3L1175.8 652.9L1175.8 667.3L1176.2 662.9L1176.2 648.8L1176.8 660.4L1176.8 646.1L1177.2 640.9L1177.2 649.7L1177.8 644.5L1177.8 659.9L1178.2 655.0L1178.2 639.7L1178.8 643.3L1178.8 633.1L1179.2 644.3L1179.2 688.1L1179.8 686.1L1179.8 653.0L1180.2 647.7L1180.2 634.4L1180.8 632.8L1180.8 643.1L1181.2 638.8L1181.2 653.3L1181.8 657.6L1181.8 663.5L1182.2 671.1L1182.2 648.4L1182.8 653.5L1182.8 637.0L1183.2 639.7L1183.2 635.0L1183.8 634.4L1183.8 652.7L1184.2 656.9L1184.2 674.5L1184.8 676.3L1184.8 690.9L1185.2 693.9L1185.2 665.4L1185.8 682.0L1185.8 645.2L1186.2 647.7L1186.2 635.4L1186.8 631.0L1186.8 653.6L1187.2 649.5L1187.2 672.5L1187.8 675.9L1187.8 666.5L1188.2 667.0L1188.2 673.8L1188.8 663.5L1188.8 656.5L1189.2 651.2L1189.2 665.7L1189.8 660.2L1189.8 673.1L1190.2 652.4L1190.2 662.1L1190.8 664.8L1190.8 648.7L1191.2 645.2L1191.2 649.8L1191.8 650.8L1191.8 671.3L1192.2 651.6L1192.2 642.3L1192.8 634.5L1192.8 645.5L1193.2 636.7L1193.2 645.1L1193.8 667.1L1193.8 646.1L1194.2 655.0L1194.2 637.5L1194.8 653.8L1194.8 648.6L1195.2 662.4L1195.2 649.7L1195.8 650.5L1195.8 665.6L1196.2 651.9L1196.2 649.1L1196.8 638.2L1196.8 651.0L1197.2 647.3L1197.2 664.9L1197.8 668.4L1197.8 643.7L1198.2 651.5L1198.2 643.7L1198.8 628.8L1198.8 651.3L1199.2 630.5L1199.2 652.3L1199.8 646.5L1199.8 634.9L1200.2 624.9L1200.2 640.3L1200.8 650.9L1200.8 687.6L1201.2 672.1L1201.2 652.1L1201.8 659.5L1201.8 646.0L1202.2 653.3L1202.2 644.9L1202.8 664.1L1202.8 652.8L1203.2 663.8L1203.2 647.9L1203.8 644.4L1203.8 630.2L1204.2 630.4L1204.2 643.6L1204.8 639.0L1204.8 665.4L1205.2 665.4L1205.2 656.5L1205.8 649.1L1205.8 653.5L1206.2 667.7L1206.2 659.5L1206.8 664.2L1206.8 649.4L1207.2 642.0L1207.2 654.7L1207.8 648.5L1207.8 665.0L1208.2 657.5L1208.2 684.1L1208.8 662.9L1208.8 674.6L1209.2 693.9L1209.2 666.3L1209.8 669.3L1209.8 660.7L1210.2 676.3L1210.2 650.7L1210.8 656.5L1210.8 643.7L1211.2 652.2L1211.2 668.9L1211.8 657.9L1211.8 673.2L1212.2 670.7L1212.2 659.7L1212.8 649.9L1212.8 663.0L1213.2 659.5L1213.2 674.0L1213.8 674.9L1213.8 711.2L1214.2 683.6L1214.2 648.6L1214.8 643.1L1214.8 654.3L1215.2 655.7L1215.2 672.3L1215.8 658.0L1215.8 678.7L1216.2 679.2L1216.2 640.5L1216.8 630.6L1216.8 655.5L1217.2 661.2L1217.2 639.5L1217.8 629.8L1217.8 645.5L1218.2 645.5L1218.2 664.6L1218.8 648.1L1218.8 654.2L1219.2 672.2L1219.2 646.4L1219.8 657.7L1219.8 641.6L1220.2 628.3L1220.2 637.1L1220.8 648.5L1220.8 676.7L1221.2 657.0L1221.2 627.3L1221.8 638.8L1221.8 701.6L1222.2 690.0L1222.2 648.0L1222.8 663.6L1222.8 641.2L1223.2 635.3L1223.2 656.2L1223.8 653.8L1223.8 671.6L1224.2 653.9L1224.2 673.2L1224.8 668.4L1224.8 646.3L1225.2 645.7L1225.2 630.7L1225.8 633.6L1225.8 648.6L1226.2 654.5L1226.2 631.5L1226.8 625.9L1226.8 640.2L1227.2 652.1L1227.2 696.1L1227.8 632.8L1227.8 650.7L1228.2 648.1L1228.2 659.9L1228.8 651.6L1228.8 657.5L1229.2 672.1L1229.2 647.9L1229.8 635.0L1229.8 647.1L1230.2 650.0L1230.2 671.2L1230.8 656.3L1230.8 669.2L1231.2 655.5L1231.2 622.2L1231.8 624.8L1231.8 634.5L1232.2 644.9L1232.2 633.4L1232.8 655.6L1232.8 677.9L1233.2 658.3L1233.2 630.1L1233.8 637.7L1233.8 666.4L1234.2 641.9L1234.2 623.6L1234.8 633.5L1234.8 675.0L1235.2 665.9L1235.2 649.0L1235.8 657.9L1235.8 636.7L1236.2 647.6L1236.2 670.7L1236.8 657.6L1236.8 673.9L1237.2 665.5L1237.2 638.9L1237.8 653.9L1237.8 628.1L1238.2 640.8L1238.2 612.8L1238.8 615.5L1238.8 636.0L1239.2 631.9L1239.2 644.3L1239.8 650.1L1239.8 635.0L1240.2 637.0L1240.2 657.1L1240.8 659.7L1240.8 647.3L1241.2 669.8L1241.2 641.5L1241.8 642.4L1241.8 656.0L1242.0 655.1L1242.1 648.8L1242.2 646.4L1242.2 641.8L1242.3 643.3L1242.4 648.5L1242.4 655.2L1242.5 651.3L1242.5 655.1L1242.6 665.4L1242.7 668.3L1242.7 680.4L1242.8 680.8L1242.8 682.1L1242.9 672.6L1243.0 661.9L1243.0 654.4L1243.1 654.8L1243.1 652.6L1243.2 630.1L1243.3 630.8L1243.3 622.5L1243.4 624.5L1243.4 632.0L1243.5 635.1L1243.6 634.2L1243.6 634.8L1243.7 631.7L1243.7 631.9L1243.8 632.5L1243.9 628.1L1243.9 623.2L1244.0 616.0L1244.0 612.3L1244.1 611.7L1244.2 626.8L1244.2 624.7L1244.3 631.3L1244.3 631.0L1244.4 636.2L1244.5 637.0L1244.5 644.8L1244.6 649.9L1244.6 649.8L1244.7 649.4L1244.8 649.7L1244.8 651.5L1244.9 650.2L1244.9 670.0L1245.0 659.8L1245.1 651.4L1245.1 644.4L1245.2 645.3L1245.2 640.7L1245.3 638.5L1245.4 626.7L1245.4 626.0L1245.5 629.9L1245.5 635.5L1245.6 643.5L1245.7 644.6L1245.7 651.9L1245.8 661.0L1245.8 691.3L1245.9 677.4L1246.0 679.4L1246.0 666.7L1246.1 665.2L1246.1 639.3L1246.2 638.9L1246.3 620.5L1246.3 621.8L1246.4 624.1L1246.4 621.9L1246.5 624.9L1246.5 618.7L1246.6 632.5L1246.7 627.5L1246.7 653.1L1246.8 651.1L1246.8 642.8L1246.9 631.1L1247.0 630.0L1247.0 637.4L1247.1 633.0L1247.1 634.2L1247.2 631.8L1247.3 628.2L1247.3 635.0L1247.4 653.1L1247.4 654.9L1247.5 643.1L1247.5 649.7L1247.6 644.9L1247.7 628.5L1247.7 630.2L1247.8 620.3L1247.8 615.4L1247.9 612.2L1248.0 609.9L1248.0 608.2L1248.1 610.1L1248.1 605.4L1248.2 604.6L1248.2 608.6L1248.3 609.6L1248.4 603.4L1248.4 599.8L1248.5 594.3L1248.5 585.3L1248.6 597.9L1248.6 577.6L1248.7 570.2L1248.8 567.8L1248.8 566.7L1248.9 568.4L1248.9 568.2L1249.0 564.8L1249.1 565.3L1249.1 571.1L1249.2 580.0L1249.2 581.4L1249.3 587.4L1249.3 595.1L1249.4 595.0L1249.5 605.6L1249.5 614.8L1249.6 620.5L1249.6 622.3L1249.7 619.7L1249.7 623.1L1249.8 622.7L1249.9 631.0L1249.9 639.8L1250.0 631.6L1250.0 643.3L1250.1 635.0L1250.1 636.3L1250.2 635.9L1250.3 629.1L1250.3 631.4L1250.4 630.2L1250.4 637.0L1250.5 629.3L1250.5 629.1L1250.6 629.7L1250.7 624.9L1250.7 631.2L1250.8 631.5L1250.8 630.0L1250.9 628.0L1250.9 627.1L1251.0 631.9L1251.1 628.8L1251.1 633.9L1251.2 638.8L1251.2 637.3L1251.3 633.0L1251.3 636.9L1251.4 648.1L1251.5 653.3L1251.5 662.3L1251.6 664.0L1251.6 653.6L1251.7 651.7L1251.7 642.6L1251.8 642.5L1251.9 636.5L1251.9 633.6L1252.0 637.4L1252.0 631.8L1252.1 636.0L1252.1 638.8L1252.2 651.6L1252.2 645.6L1252.3 653.2L1252.4 648.4L1252.4 648.1L1252.5 649.1L1252.5 647.1L1252.6 645.8L1252.6 648.6L1252.7 654.1L1252.8 654.6L1252.8 641.6L1252.9 635.5L1252.9 634.7L1253.0 638.3L1253.0 634.7L1253.1 626.5L1253.1 627.5L1253.2 626.3L1253.3 628.7L1253.3 630.8L1253.4 634.6L1253.4 633.0L1253.5 633.7L1253.5 644.7L1253.6 643.0L1253.6 637.2L1253.7 650.5L1253.8 656.3L1253.8 658.2L1253.9 655.3L1253.9 660.6L1254.0 663.9L1254.0 666.3L1254.1 685.0L1254.1 681.0L1254.2 643.8L1254.3 641.9L1254.3 635.6L1254.4 635.7L1254.4 631.6L1254.5 630.5L1254.5 626.9L1254.6 627.5L1254.6 646.4L1254.7 646.5L1254.8 658.1L1254.8 660.1L1254.9 667.4L1254.9 669.3L1255.0 679.3L1255.0 675.9L1255.1 654.1L1255.1 654.8L1255.2 647.8L1255.3 644.4L1255.3 639.5L1255.4 633.4L1255.4 620.0L1255.5 621.4L1255.5 629.7L1255.6 624.3L1255.6 627.0L1255.7 629.4L1255.7 633.2L1255.8 639.6L1255.9 657.6L1255.9 657.7L1256.0 652.8L1256.2 634.7L1256.2 654.7L1256.8 662.1L1256.8 646.1L1257.2 644.8L1257.2 663.2L1257.8 657.3L1257.8 637.4L1258.2 651.7L1258.2 695.1L1258.8 676.5L1258.8 644.4L1259.2 675.7L1259.2 652.5L1259.8 654.1L1259.8 631.6L1260.2 634.3L1260.2 670.2L1260.8 674.3L1260.8 640.2L1261.2 638.5L1261.2 664.4L1261.8 671.8L1261.8 699.2L1262.2 696.3L1262.2 668.8L1262.8 666.8L1262.8 694.8L1263.2 666.6L1263.2 633.5L1263.8 667.6L1263.8 642.8L1264.2 639.4L1264.2 654.9L1264.8 643.9L1264.8 676.1L1265.2 672.0L1265.2 639.0L1265.8 648.4L1265.8 683.8L1266.2 666.9L1266.2 642.7L1266.8 635.5L1266.8 654.2L1267.2 658.1L1267.2 685.7L1267.8 673.0L1267.8 688.4L1268.2 681.5L1268.2 666.3L1268.8 677.8L1268.8 666.6L1269.2 671.7L1269.2 640.4L1269.8 650.5L1269.8 677.4L1270.2 651.8L1270.2 663.0L1270.8 656.2L1270.8 679.5L1271.2 672.2L1271.2 697.2L1271.8 702.1L1271.8 673.8L1272.2 659.3L1272.2 641.3L1272.8 657.1L1272.8 687.2L1273.2 699.5L1273.2 664.7L1273.8 660.8L1273.8 651.2L1274.2 647.6L1274.2 671.8L1274.8 661.2L1274.8 673.3L1275.2 687.4L1275.2 661.4L1275.8 670.8L1275.8 696.6L1276.2 654.6L1276.2 701.4L1276.8 708.0L1276.8 678.9L1277.2 687.3L1277.2 647.1L1277.8 656.8L1277.8 683.4L1278.2 685.7L1278.2 666.6L1278.8 681.3L1278.8 698.4L1279.2 725.5L1279.2 652.3L1279.8 651.1L1279.8 634.2L1280.2 654.8L1280.2 718.3L1280.8 673.0L1280.8 697.7L1281.2 693.5L1281.2 674.6L1281.8 678.7L1281.8 658.2L1282.2 669.4L1282.2 729.7L1282.8 699.4L1282.8 658.0L1283.2 660.5L1283.2 690.0L1283.8 676.2L1283.8 729.3L1284.2 688.9L1284.2 653.1L1284.8 647.9L1284.8 695.3L1285.2 715.6L1285.2 672.5L1285.8 661.4L1285.8 711.3L1286.2 661.9L1286.2 679.9L1286.8 680.3L1286.8 665.1L1287.2 662.7L1287.2 709.3L1287.8 688.8L1287.8 662.3L1288.2 663.3L1288.2 701.4L1288.8 670.8L1288.8 686.3L1289.2 671.7L1289.2 696.3L1289.8 654.4L1289.8 673.1L1290.2 705.1L1290.2 674.5L1290.8 666.1L1290.8 685.5L1291.2 681.6L1291.2 722.1L1291.8 731.2L1291.8 658.3L1292.2 655.2L1292.2 686.2L1292.8 662.3L1292.8 707.6L1293.2 657.3L1293.2 719.7L1293.8 713.6L1293.8 678.8L1294.2 676.6L1294.2 691.2L1294.8 669.2L1294.8 687.6L1295.2 682.0L1295.2 657.6L1295.8 663.1L1295.8 699.0L1296.2 684.6L1296.2 731.0L1296.8 737.3L1296.8 668.1L1297.2 673.5L1297.2 719.3L1297.8 663.2L1297.8 708.5L1298.2 731.0L1298.2 685.7L1298.8 704.1L1298.8 682.6L1299.2 678.5L1299.2 720.0L1299.8 710.3L1299.8 678.8L1300.2 708.0L1300.2 722.4L1300.8 703.0L1300.8 677.3L1301.2 679.9L1301.2 699.9L1301.8 678.3L1301.8 730.4L1302.2 718.5L1302.2 677.8L1302.8 680.9L1302.8 707.4L1303.2 674.8L1303.2 690.2L1303.8 677.0L1303.8 713.4L1304.2 676.5L1304.2 716.8L1304.8 722.6L1304.8 687.4L1305.2 735.0L1305.2 679.7L1305.8 684.9L1305.8 733.0L1306.2 738.2L1306.2 699.9L1306.8 678.6L1306.8 697.3L1307.2 695.5L1307.2 745.4L1307.8 707.5L1307.8 681.5L1308.2 685.3L1308.2 704.9L1308.8 702.5L1308.8 677.8L1309.2 681.3L1309.2 734.2L1309.8 688.4L1309.8 717.7L1310.2 693.0L1310.2 724.6L1310.8 712.9L1310.8 739.7L1311.2 719.8L1311.2 689.1L1311.8 689.3L1311.8 703.6L1312.2 696.8L1312.2 725.3L1312.8 723.8L1312.8 678.4L1313.2 675.7L1313.2 722.1L1313.8 712.4L1313.8 688.0L1314.2 701.1L1314.2 726.7L1314.8 709.4L1314.8 683.2L1315.2 671.1L1315.2 702.0L1315.8 672.7L1315.8 740.1L1316.2 713.8L1316.2 672.0L1316.8 706.4L1316.8 668.1L1317.2 666.6L1317.2 716.6L1317.8 741.9L1317.8 697.1L1318.2 693.4L1318.2 732.1L1318.8 743.8L1318.8 710.1L1319.2 743.4L1319.2 683.5L1319.8 721.8L1319.8 679.2L1320.2 703.8L1320.2 673.6L1320.8 706.0L1320.8 681.4L1321.2 707.7L1321.2 755.7L1321.8 743.2L1321.8 673.6L1322.2 667.5L1322.2 722.2L1322.8 669.9L1322.8 711.3L1323.2 697.8L1323.2 743.3L1323.8 712.5L1323.8 739.5L1324.2 726.9L1324.2 689.1L1324.8 680.1L1324.8 738.7L1325.2 692.4L1325.2 717.5L1325.8 729.1L1325.8 692.3L1326.2 734.0L1326.2 705.1L1326.8 682.1L1326.8 740.3L1327.2 686.4L1327.2 726.1L1327.8 723.5L1327.8 701.2L1328.2 720.1L1328.2 680.2L1328.8 721.2L1328.8 684.0L1329.2 677.2L1329.2 763.2L1329.8 696.1L1329.8 733.5L1330.2 738.2L1330.2 711.3L1330.8 728.1L1330.8 699.8L1331.2 696.0L1331.2 736.5L1331.8 706.4L1331.8 775.4L1332.2 740.7L1332.2 703.9L1332.8 669.9L1332.8 761.5L1333.2 720.8L1333.2 700.6L1333.8 683.4L1333.8 743.6L1334.2 755.7L1334.2 682.3L1334.8 727.2L1334.8 675.2L1335.2 694.8L1335.2 765.6L1335.8 712.4L1335.8 681.9L1336.2 698.3L1336.2 726.3L1336.8 728.6L1336.8 706.2L1337.2 730.4L1337.2 699.6L1337.8 722.5L1337.8 698.9L1338.2 685.0L1338.2 724.2L1338.8 715.9L1338.8 680.2L1339.2 719.6L1339.2 700.1L1339.8 713.4L1339.8 752.5L1340.2 690.2L1340.2 730.7L1340.8 741.9L1340.8 695.3L1341.2 776.9L1341.2 692.4L1341.8 672.4L1341.8 729.0L1342.2 757.9L1342.2 700.6L1342.8 693.7L1342.8 731.5L1343.2 725.4L1343.2 699.2L1343.8 735.8L1343.8 704.8L1344.2 713.7L1344.2 742.3L1344.8 739.0L1344.8 689.0L1345.2 686.6L1345.2 744.0L1345.8 745.6L1345.8 722.1L1346.2 725.3L1346.2 761.9L1346.8 736.0L1346.8 669.4L1347.2 697.7L1347.2 743.1L1347.8 737.4L1347.8 689.8L1348.2 715.2L1348.2 739.6L1348.8 762.6L1348.8 709.6L1349.2 714.3L1349.2 768.1L1349.8 724.8L1349.8 708.8L1350.2 736.3L1350.2 690.0L1350.8 738.2L1350.8 713.1L1351.2 750.2L1351.2 699.4L1351.8 705.3L1351.8 741.6L1352.2 742.6L1352.2 703.3L1352.8 739.2L1352.8 700.0L1353.2 749.3L1353.2 711.8L1353.8 744.5L1353.8 698.7L1354.2 747.3L1354.2 705.9L1354.8 703.1L1354.8 739.2L1355.2 764.4L1355.2 703.7L1355.8 708.8L1355.8 756.4L1356.2 697.4L1356.2 732.7L1356.8 736.5L1356.8 710.8L1357.2 742.5L1357.2 691.2L1357.8 686.4L1357.8 741.5L1358.2 709.8L1358.2 751.9L1358.8 749.7L1358.8 713.9L1359.2 737.7L1359.2 676.5L1359.8 675.2L1359.8 732.4L1360.2 735.5L1360.2 702.8L1360.8 732.1L1360.8 706.2L1361.2 743.1L1361.2 709.5L1361.8 703.1L1361.8 731.8L1362.2 755.5L1362.2 702.4L1362.8 704.2L1362.8 730.6L1363.2 744.3L1363.2 691.1L1363.8 765.5L1363.8 695.9L1364.2 754.8L1364.2 691.0L1364.8 713.6L1364.8 749.2L1365.2 734.0L1365.2 699.9L1365.8 767.0L1365.8 704.4L1366.2 748.9L1366.2 708.1L1366.8 694.6L1366.8 736.8L1367.2 760.5L1367.2 707.5L1367.8 774.1L1367.8 702.9L1368.2 705.3L1368.2 735.2L1368.8 742.2L1368.8 705.0L1369.2 703.3L1369.2 750.5L1369.8 750.3L1369.8 725.9L1370.2 698.9L1370.2 734.8L1370.8 719.5L1370.8 764.2L1371.2 757.0L1371.2 715.6L1371.8 754.8L1371.8 703.1L1372.2 709.8L1372.2 741.5L1372.8 715.5L1372.8 737.3L1373.2 713.9L1373.2 750.2L1373.8 741.6L1373.8 698.1L1374.2 720.5L1374.2 766.4L1374.8 704.7L1374.8 738.0L1375.2 716.2L1375.2 755.2L1375.8 720.9L1375.8 747.2L1376.2 748.5L1376.2 702.0L1376.8 745.2L1376.8 707.3L1377.2 698.7L1377.2 745.4L1377.8 743.0L1377.8 705.5L1378.2 711.6L1378.2 749.6L1378.8 697.6L1378.8 754.8L1379.2 727.9L1379.2 778.9L1379.8 769.0L1379.8 714.4L1380.2 715.6L1380.2 760.1L1380.8 746.8L1380.8 714.2L1381.2 713.2L1381.2 758.1L1381.8 721.1L1381.8 754.0L1382.2 710.8L1382.2 744.6L1382.8 757.9L1382.8 714.0L1383.2 739.3L1383.2 702.5L1383.8 756.6L1383.8 716.1L1384.2 711.5L1384.2 772.8L1384.8 759.0L1384.8 718.9L1385.2 708.1L1385.2 748.5L1385.8 751.8L1385.8 720.9L1386.2 746.9L1386.2 711.8L1386.8 713.4L1386.8 748.9L1387.2 733.6L1387.2 772.7L1387.8 740.8L1387.8 723.9L1388.2 718.0L1388.2 774.3L1388.8 729.5L1388.8 779.2L1389.2 762.0L1389.2 726.2L1389.8 762.5L1389.8 707.5L1390.2 711.2L1390.2 756.2L1390.8 745.7L1390.8 701.3L1391.2 706.8L1391.2 766.3L1391.8 721.8L1391.8 749.0L1392.2 718.8L1392.2 771.0L1392.8 713.4L1392.8 747.3L1393.2 728.3L1393.2 768.9L1393.8 763.9L1393.8 714.2L1394.2 765.3L1394.2 717.5L1394.8 778.6L1394.8 702.1L1395.2 722.6L1395.2 748.5L1395.8 791.1L1395.8 719.3L1396.2 760.7L1396.2 729.0L1396.8 756.4L1396.8 717.2L1397.2 705.4L1397.2 756.8L1397.8 705.9L1397.8 801.4L1398.2 779.8L1398.2 714.6L1398.8 712.7L1398.8 776.6L1399.2 766.2L1399.2 714.1L1399.8 768.6L1399.8 709.6L1400.2 716.2L1400.2 772.4L1400.8 781.1L1400.8 721.0L1401.2 763.5L1401.2 715.6L1401.8 726.2L1401.8 780.7L1402.2 722.4L1402.2 744.4L1402.8 749.9L1402.8 719.2L1403.2 724.2L1403.2 767.0L1403.8 730.2L1403.8 775.3L1404.2 727.6L1404.2 784.8L1404.8 719.0L1404.8 762.7L1405.2 770.0L1405.2 713.7L1405.8 732.0L1405.8 761.1L1406.2 766.8L1406.2 710.2L1406.8 758.9L1406.8 724.7L1407.2 722.2L1407.2 775.5L1407.8 729.6L1407.8 771.3L1408.2 776.3L1408.2 728.3L1408.8 763.5L1408.8 735.2L1409.2 723.7L1409.2 761.9L1409.8 726.6L1409.8 774.9L1410.2 768.9L1410.2 738.8L1410.8 752.3L1410.8 717.3L1411.2 769.2L1411.2 719.1L1411.8 761.1L1411.8 705.9L1412.2 725.2L1412.2 789.6L1412.8 788.5L1412.8 736.7L1413.2 736.1L1413.2 760.0L1413.8 725.6L1413.8 782.9L1414.2 725.0L1414.2 781.5L1414.8 792.0L1414.8 732.3L1415.2 794.5L1415.2 719.8L1415.8 797.4L1415.8 730.0L1416.2 726.5L1416.2 825.6L1416.8 773.1L1416.8 735.9L1417.2 796.4L1417.2 735.6L1417.8 805.6L1417.8 721.3L1418.2 777.5L1418.2 728.7L1418.8 761.6L1418.8 734.1L1419.2 800.9L1419.2 732.0L1419.8 738.2L1419.8 774.2L1420.2 727.0L1420.2 781.2L1420.8 732.9L1420.8 830.4L1421.2 737.6L1421.2 820.1L1421.8 796.8L1421.8 722.9L1422.2 725.3L1422.2 757.8L1422.8 725.1L1422.8 780.5L1423.2 776.9L1423.2 722.8L1423.8 787.2L1423.8 725.4L1424.2 725.6L1424.2 787.1L1424.8 772.3L1424.8 738.6L1425.2 729.2L1425.2 783.9L1425.8 721.6L1425.8 798.6L1426.2 795.0L1426.2 760.4L1426.8 733.3L1426.8 788.5L1427.2 788.6L1427.2 729.9L1427.8 740.2L1427.8 790.6L1428.2 786.9L1428.2 727.9L1428.8 791.8L1428.8 758.9L1429.2 785.3L1429.2 722.5L1429.8 737.3L1429.8 804.8L1430.2 803.9L1430.2 733.6L1430.8 724.7L1430.8 784.7L1431.2 749.7L1431.2 811.3L1431.8 725.0L1431.8 803.7L1432.2 745.8L1432.2 794.1L1432.8 731.4L1432.8 782.4L1433.2 778.1L1433.2 737.9L1433.8 742.1L1433.8 807.0L1434.2 811.6L1434.2 727.1L1434.8 783.3L1434.8 731.8L1435.2 731.2L1435.2 774.0L1435.8 750.2L1435.8 806.8L1436.2 787.3L1436.2 736.8L1436.8 747.6L1436.8 799.4L1437.2 742.8L1437.2 783.4L1437.8 796.7L1437.8 724.6L1438.2 814.9L1438.2 736.1L1438.8 743.4L1438.8 798.9L1439.2 749.4L1439.2 822.4L1439.8 826.3L1439.8 741.1L1440.2 741.5L1440.2 782.2L1440.8 792.6L1440.8 746.7L1441.2 740.8L1441.2 804.8L1441.8 785.5L1441.8 748.2L1442.2 810.8L1442.2 745.9L1442.8 743.8L1442.8 808.8L1443.2 746.8L1443.2 800.4L1443.8 739.0L1443.8 823.2L1444.2 795.8L1444.2 762.5L1444.8 801.8L1444.8 749.2L1445.2 763.2L1445.2 786.6L1445.8 754.4L1445.8 795.7L1446.2 741.8L1446.2 786.5L1446.8 756.3L1446.8 812.6L1447.2 759.8L1447.2 816.7L1447.8 743.6L1447.8 812.5L1448.2 818.7L1448.2 777.3L1448.8 748.6L1448.8 796.7L1449.2 816.9L1449.2 744.1L1449.8 797.3L1449.8 746.0L1450.2 753.4L1450.2 804.5L1450.8 745.3L1450.8 794.3L1451.2 812.0L1451.2 734.4L1451.8 792.7L1451.8 752.7L1452.2 814.6L1452.2 753.9L1452.8 751.8L1452.8 791.7L1453.2 755.5L1453.2 793.0L1453.8 810.9L1453.8 754.5L1454.2 801.0L1454.2 752.1L1454.8 820.6L1454.8 744.8L1455.2 748.7L1455.2 814.5L1455.8 812.9L1455.8 767.4L1456.2 808.2L1456.2 732.8L1456.8 806.6L1456.8 762.3L1457.2 776.3L1457.2 825.8L1457.8 763.0L1457.8 817.3L1458.2 820.0L1458.2 753.4L1458.8 750.5L1458.8 862.3L1459.2 822.6L1459.2 758.3L1459.8 844.1L1459.8 767.8L1460.2 757.1L1460.2 809.8L1460.8 738.4L1460.8 811.0L1461.2 760.8L1461.2 821.9L1461.8 760.8L1461.8 838.0L1462.2 804.8L1462.2 770.5L1462.8 753.8L1462.8 804.7L1463.2 799.4L1463.2 762.1L1463.8 777.8L1463.8 811.3L1464.2 832.8L1464.2 756.3L1464.8 827.9L1464.8 757.6L1465.2 806.3L1465.2 745.5L1465.8 751.6L1465.8 799.5L1466.2 765.9L1466.2 815.1L1466.8 756.7L1466.8 805.9L1467.2 755.7L1467.2 811.3L1467.8 763.0L1467.8 831.0L1468.2 820.3L1468.2 754.0L1468.8 762.6L1468.8 820.4L1469.2 833.7L1469.2 763.6L1469.8 828.4L1469.8 763.1L1470.2 755.0L1470.2 822.5L1470.8 832.2L1470.8 767.2L1471.2 813.9L1471.2 763.9L1471.8 813.8L1471.8 767.6L1472.2 769.1L1472.2 828.5L1472.8 783.0L1472.8 827.2L1473.2 829.8L1473.2 761.2L1473.8 763.2L1473.8 827.6L1474.2 827.7L1474.2 762.6L1474.8 810.9L1474.8 759.9L1475.2 764.0L1475.2 831.7L1475.8 761.7L1475.8 843.3L1476.2 761.5L1476.2 816.3L1476.8 822.7L1476.8 770.4L1477.2 769.9L1477.2 839.3L1477.8 768.6L1477.8 832.8L1478.2 819.5L1478.2 774.5L1478.8 858.4L1478.8 788.9L1479.2 835.0L1479.2 764.7L1479.8 833.5L1479.8 757.4L1480.2 752.5L1480.2 823.4L1480.8 832.5L1480.8 762.9L1481.2 835.3L1481.2 772.0L1481.8 851.2L1481.8 769.2L1482.2 764.3L1482.2 823.8L1482.8 814.7L1482.8 758.1L1483.2 770.9L1483.2 829.2L1483.8 836.6L1483.8 771.2L1484.2 774.2L1484.2 849.9L1484.8 848.1L1484.8 772.9L1485.2 831.6L1485.2 757.9L1485.8 826.7L1485.8 778.1L1486.2 769.6L1486.2 869.2L1486.8 753.9L1486.8 830.0L1487.2 838.6L1487.2 760.7L1487.8 763.0L1487.8 844.7L1488.2 851.0L1488.2 768.1L1488.8 775.3L1488.8 846.4L1489.2 778.5L1489.2 848.0L1489.8 842.5L1489.8 788.4L1490.2 840.1L1490.2 766.9L1490.8 763.3L1490.8 840.1L1491.2 830.9L1491.2 778.2L1491.8 774.4L1491.8 864.8L1492.2 846.4L1492.2 793.6L1492.8 777.0L1492.8 843.9L1493.2 785.4L1493.2 844.7L1493.8 785.8L1493.8 858.0L1494.2 781.8L1494.2 886.4L1494.8 785.4L1494.8 855.7L1495.2 784.1L1495.2 854.7L1495.8 862.1L1495.8 789.7L1496.2 774.9L1496.2 832.7L1496.8 783.4L1496.8 854.3L1497.2 774.7L1497.2 857.2L1497.8 783.9L1497.8 857.1L1498.2 843.9L1498.2 772.3L1498.8 792.4L1498.8 856.0L1499.2 834.5L1499.2 794.6L1499.8 791.9L1499.8 855.1L1500.2 862.3L1500.2 781.1L1500.8 793.9L1500.8 858.5L1501.2 787.3L1501.2 840.9L1501.8 847.3L1501.8 784.5L1502.2 869.4L1502.2 794.1L1502.8 799.1L1502.8 856.1L1503.2 845.1L1503.2 798.0L1503.8 785.0L1503.8 850.0L1504.2 797.9L1504.2 867.5L1504.8 868.1L1504.8 785.2L1505.2 861.2L1505.2 807.0L1505.8 877.3L1505.8 809.3L1506.2 903.5L1506.2 791.0L1506.8 780.4L1506.8 846.8L1507.2 800.3L1507.2 882.5L1507.8 867.7L1507.8 787.6L1508.2 801.5L1508.2 883.6L1508.8 862.1L1508.8 796.3L1509.2 869.2L1509.2 774.8L1509.8 888.1L1509.8 801.4L1510.2 784.6L1510.2 860.0L1510.8 792.6L1510.8 850.2L1511.2 861.0L1511.2 799.1L1511.8 869.5L1511.8 786.6L1512.2 876.3L1512.2 798.3L1512.8 802.2L1512.8 867.2L1513.2 866.8L1513.2 810.2L1513.8 811.7L1513.8 872.3L1514.2 862.2L1514.2 803.3L1514.8 804.1L1514.8 858.6L1515.2 795.2L1515.2 871.8L1515.8 855.2L1515.8 798.8L1516.2 802.5L1516.2 858.2L1516.8 854.9L1516.8 793.7L1517.2 870.6L1517.2 809.1L1517.8 878.7L1517.8 809.7L1518.2 879.1L1518.2 807.0L1518.8 876.0L1518.8 800.5L1519.2 805.9L1519.2 862.3L1519.8 794.1L1519.8 888.1L1520.2 802.6L1520.2 871.3L1520.8 856.7L1520.8 803.2L1521.2 803.9L1521.2 897.4L1521.8 807.0L1521.8 871.3L1522.2 877.4L1522.2 815.0L1522.8 883.1L1522.8 816.9L1523.2 794.3L1523.2 876.1L1523.8 881.6L1523.8 811.3L1524.2 817.2L1524.2 875.5L1524.8 809.0L1524.8 860.7L1525.2 805.4L1525.2 868.5L1525.8 821.7L1525.8 886.8L1526.2 889.7L1526.2 804.4L1526.8 873.2L1526.8 815.9L1527.2 822.1L1527.2 862.2L1527.8 895.0L1527.8 814.2L1528.2 811.9L1528.2 884.6L1528.8 888.5L1528.8 804.1L1529.2 812.0L1529.2 877.9L1529.8 807.9L1529.8 896.5L1530.2 885.2L1530.2 812.6L1530.8 893.7L1530.8 816.0L1531.2 813.6L1531.2 873.4L1531.8 811.3L1531.8 874.7L1532.2 875.1L1532.2 817.9L1532.8 877.3L1532.8 818.8L1533.2 823.8L1533.2 880.8L1533.8 883.3L1533.8 802.9L1534.2 900.0L1534.2 818.5L1534.8 815.8L1534.8 890.6L1535.2 888.8L1535.2 822.8L1535.8 822.7L1535.8 900.2L1536.2 814.9L1536.2 875.8L1536.8 876.9L1536.8 823.5L1537.2 837.1L1537.2 889.3L1537.8 869.6L1537.8 824.0L1538.2 822.1L1538.2 890.0L1538.8 905.3L1538.8 825.4L1539.2 822.3L1539.2 880.0L1539.8 827.8L1539.8 879.1L1540.2 832.4L1540.2 897.3L1540.8 892.9L1540.8 829.3L1541.2 827.9L1541.2 884.9L1541.8 891.1L1541.8 837.2L1542.2 902.5L1542.2 827.8L1542.8 818.8L1542.8 906.8L1543.2 896.8L1543.2 825.1L1543.8 913.3L1543.8 833.0L1544.2 912.9L1544.2 846.1L1544.8 890.7L1544.8 842.8L1545.2 896.8L1545.2 832.8L1545.8 891.8L1545.8 825.0L1546.2 896.7L1546.2 832.3L1546.8 837.3L1546.8 914.2L1547.2 852.3L1547.2 905.5L1547.8 925.0L1547.8 843.0L1548.2 913.0L1548.2 844.9L1548.8 912.2L1548.8 835.6L1549.2 901.8L1549.2 840.9L1549.8 841.3L1549.8 905.7L1550.2 904.9L1550.2 844.5L1550.8 908.8L1550.8 846.1L1551.2 922.1L1551.2 850.8L1551.8 832.7L1551.8 895.3L1552.2 845.9L1552.2 916.5L1552.8 837.9L1552.8 917.6L1553.2 899.0L1553.2 831.0L1553.8 841.1L1553.8 926.0L1554.2 919.4L1554.2 838.0L1554.8 851.6L1554.8 905.7L1555.2 912.7L1555.2 846.3L1555.8 836.1L1555.8 911.5L1556.2 923.7L1556.2 854.0L1556.8 936.3L1556.8 860.8L1557.2 923.5L1557.2 851.1L1557.8 844.9L1557.8 908.5L1558.2 901.4L1558.2 851.6L1558.8 854.2L1558.8 920.8L1559.2 858.7L1559.2 912.5L1559.8 858.0L1559.8 930.3L1560.2 926.1L1560.2 847.1L1560.8 912.6L1560.8 859.7L1561.2 853.1L1561.2 924.8L1561.8 861.0L1561.8 926.4L1562.2 938.7L1562.2 858.2L1562.8 911.1L1562.8 858.7L1563.2 862.7L1563.2 922.3L1563.8 864.4L1563.8 915.6L1564.2 862.5L1564.2 918.3L1564.8 927.7L1564.8 860.1L1565.2 867.3L1565.2 931.6L1565.8 860.3L1565.8 916.8L1566.2 863.8L1566.2 923.0L1566.8 859.5L1566.8 921.7L1567.2 943.8L1567.2 863.9L1567.8 937.5L1567.8 867.3L1568.2 873.6L1568.2 946.9L1568.8 840.2L1568.8 928.8L1569.2 933.9L1569.2 863.4L1569.8 914.0L1569.8 863.2L1570.2 873.8L1570.2 932.2L1570.8 874.6L1570.8 940.8L1571.2 869.0L1571.2 934.6L1571.8 930.0L1571.8 854.1L1572.2 915.8L1572.2 870.3L1572.8 939.5L1572.8 864.2L1573.2 925.6L1573.2 874.9L1573.8 939.2L1573.8 856.2L1574.2 869.3L1574.2 945.5L1574.8 942.2L1574.8 854.1L1575.2 865.9L1575.2 941.1L1575.8 876.9L1575.8 936.7L1576.2 878.9L1576.2 948.0L1576.8 951.3L1576.8 867.6L1577.2 882.3L1577.2 964.5L1577.8 980.3L1577.8 880.0L1578.2 875.0L1578.2 960.3L1578.8 866.2L1578.8 957.1L1579.2 960.7L1579.2 865.6L1579.8 958.1L1579.8 883.2L1580.2 878.8L1580.2 966.9L1580.8 882.6L1580.8 975.7L1581.2 953.1L1581.2 863.8L1581.8 949.8L1581.8 883.1L1582.2 878.1L1582.2 952.9L1582.8 885.3L1582.8 963.7L1583.2 881.3L1583.2 973.2L1583.8 893.7L1583.8 942.8L1584.2 886.4L1584.2 966.3L1584.8 955.2L1584.8 867.5L1585.2 968.3L1585.2 875.9L1585.8 877.1L1585.8 949.3L1586.2 957.4L1586.2 888.6L1586.8 947.3L1586.8 879.0L1587.2 873.8L1587.2 952.7L1587.8 947.7L1587.8 874.2L1588.2 881.9L1588.2 952.8L1588.8 962.5L1588.8 892.5L1589.2 882.3L1589.2 989.6L1589.8 959.5L1589.8 887.3L1590.2 874.3L1590.2 947.7L1590.8 884.6L1590.8 951.4L1591.2 879.5L1591.2 969.4L1591.8 955.9L1591.8 897.2L1592.2 895.8L1592.2 993.1L1592.8 890.8L1592.8 967.0L1593.2 876.3L1593.2 988.9L1593.8 880.5L1593.8 954.2L1594.2 983.4L1594.2 875.8L1594.8 967.8L1594.8 888.2L1595.2 903.3L1595.2 976.5L1595.8 894.0L1595.8 984.1L1596.2 983.2L1596.2 900.6L1596.8 899.8L1596.8 990.9L1597.2 900.3L1597.2 983.5L1597.8 997.5L1597.8 908.2L1598.2 966.6L1598.2 894.4L1598.8 896.4L1598.8 980.9L1599.2 973.8L1599.2 893.2L1599.8 902.1L1599.8 990.9L1600.2 993.6L1600.2 914.9L1600.8 904.4L1600.8 972.1L1601.2 897.2L1601.2 993.7L1601.8 895.5L1601.8 988.1L1602.2 981.0L1602.2 904.2L1602.8 888.3L1602.8 999.3L1603.2 905.5L1603.2 983.5L1603.8 977.0L1603.8 897.8L1604.2 895.6L1604.2 1021.6L1604.8 908.4L1604.8 988.5L1605.2 986.9L1605.2 907.4L1605.8 906.2L1605.8 973.6L1606.2 989.7L1606.2 914.3L1606.8 904.3L1606.8 993.6L1607.2 1001.6L1607.2 913.3L1607.8 903.9L1607.8 989.0L1608.2 913.3L1608.2 997.6L1608.8 998.0L1608.8 918.4L1609.2 1010.9L1609.2 906.0L1609.8 995.8L1609.8 918.2L1610.2 909.1L1610.2 991.5L1610.8 917.3L1610.8 993.0L1611.2 989.6L1611.2 916.4L1611.8 985.4L1611.8 919.8L1612.2 926.6L1612.2 992.2L1612.8 976.2L1612.8 923.8L1613.2 918.9L1613.2 986.2L1613.8 902.0L1613.8 991.4L1614.2 1011.6L1614.2 925.9L1614.8 1009.5L1614.8 933.1L1615.2 924.7L1615.2 1012.3L1615.8 928.9L1615.8 1005.0L1616.2 988.6L1616.2 920.7L1616.8 924.4L1616.8 990.4L1617.2 935.8L1617.2 1025.9L1617.8 997.4L1617.8 929.8L1618.2 933.3L1618.2 1001.3L1618.8 989.8L1618.8 931.3L1619.2 924.3L1619.2 997.2L1619.8 923.0L1619.8 1000.2L1620.2 1048.1L1620.2 911.5L1620.8 1005.3L1620.8 932.7L1621.2 937.2L1621.2 1038.2L1621.8 1043.7L1621.8 919.0L1622.2 947.4L1622.2 1026.3L1622.8 941.1L1622.8 1024.4L1623.2 1019.7L1623.2 935.2L1623.8 930.8L1623.8 1006.2L1624.2 1014.9L1624.2 938.7L1624.8 936.8L1624.8 1013.8L1625.2 1011.8L1625.2 946.4L1625.8 943.1L1625.8 1030.1L1626.2 934.8L1626.2 1027.0L1626.8 1031.1L1626.8 948.1L1627.2 1019.7L1627.2 949.6L1627.8 1031.7L1627.8 950.9L1628.2 1030.0L1628.2 941.4L1628.8 1042.7L1628.8 950.4L1629.2 941.7L1629.2 1041.8L1629.8 1040.3L1629.8 958.0L1630.2 959.0L1630.2 1048.8L1630.8 1036.2L1630.8 952.2L1631.2 955.3L1631.2 1033.0L1631.8 956.8L1631.8 1029.5L1632.2 953.1L1632.2 1049.3L1632.8 1038.8L1632.8 973.1L1633.2 1035.3L1633.2 955.1L1633.8 1040.9L1633.8 964.7L1634.2 947.7L1634.2 1047.1L1634.8 974.6L1634.8 1048.7L1635.2 957.8L1635.2 1032.7L1635.8 1032.0L1635.8 952.1L1636.2 966.3L1636.2 1047.9L1636.8 1049.7L1636.8 962.8L1637.2 963.7L1637.2 1051.2L1637.8 1091.5L1637.8 967.7L1638.2 964.6L1638.2 1040.9L1638.8 1046.2L1638.8 967.1L1639.2 970.4L1639.2 1066.8L1639.8 976.3L1639.8 1072.5L1640.2 977.1L1640.2 1052.2L1640.8 979.5L1640.8 1057.6L1641.2 1070.8L1641.2 972.3L1641.8 972.6L1641.8 1082.6L1642.2 972.4L1642.2 1053.9L1642.8 984.2L1642.8 1080.8L1643.2 974.3L1643.2 1068.2L1643.8 964.2L1643.8 1069.6L1644.2 980.6L1644.2 1068.0L1644.8 1083.7L1644.8 995.0L1645.2 1074.3L1645.2 984.0L1645.8 985.3L1645.8 1054.5L1646.2 1074.4L1646.2 989.7L1646.8 987.9L1646.8 1067.5L1647.2 1069.2L1647.2 997.3L1647.8 981.8L1647.8 1094.6L1648.2 984.2L1648.2 1083.0L1648.8 1060.0L1648.8 983.2L1649.2 1069.6L1649.2 984.3L1649.8 983.3L1649.8 1078.0L1650.2 1086.4L1650.2 992.4L1650.8 1086.2L1650.8 989.2L1651.2 993.1L1651.2 1103.2L1651.8 1003.2L1651.8 1096.6L1652.2 1079.4L1652.2 1002.7L1652.8 1065.8L1652.8 1003.4L1653.2 1002.8L1653.2 1068.7L1653.8 1080.0L1653.8 1004.0L1654.2 990.0L1654.2 1085.1L1654.8 1005.0L1654.8 1095.0L1655.2 997.6L1655.2 1092.1L1655.8 998.9L1655.8 1102.5L1656.2 994.0L1656.2 1082.3L1656.8 1090.6L1656.8 997.9L1657.2 1078.9L1657.2 995.0L1657.8 1006.4L1657.8 1083.3L1658.2 1001.0L1658.2 1099.3L1658.8 1104.5L1658.8 1012.7L1659.2 1003.1L1659.2 1107.6L1659.8 1133.1L1659.8 1010.7L1660.2 1016.9L1660.2 1103.5L1660.8 1009.9L1660.8 1091.3L1661.2 1117.0L1661.2 1017.8L1661.8 1099.1L1661.8 1014.1L1662.2 1014.9L1662.2 1090.8L1662.8 1017.0L1662.8 1100.4L1663.2 1103.0L1663.2 1010.9L1663.8 1012.1L1663.8 1112.6L1664.2 1098.3L1664.2 1019.5L1664.8 1099.2L1664.8 1021.5L1665.2 1106.5L1665.2 1015.9L1665.8 1022.3L1665.8 1106.4L1666.2 1026.4L1666.2 1109.9L1666.8 1104.4L1666.8 1004.1L1667.2 1107.5L1667.2 1026.2L1667.8 1022.0L1667.8 1101.9L1668.2 1100.5L1668.2 1029.1L1668.8 1028.1L1668.8 1128.9L1669.2 1122.9L1669.2 1030.9L1669.8 1036.4L1669.8 1115.6L1670.2 1124.6L1670.2 1031.2L1670.8 1044.1L1670.8 1124.2L1671.2 1101.2L1671.2 1016.7L1671.8 1034.6L1671.8 1120.9L1672.2 1031.6L1672.2 1105.4L1672.8 1033.9L1672.8 1107.9L1673.2 1109.4L1673.2 1030.5L1673.8 1036.4L1673.8 1118.4L1674.2 1049.3L1674.2 1129.5L1674.8 1035.0L1674.8 1128.0L1675.2 1151.9L1675.2 1039.3L1675.8 1135.2L1675.8 1051.1L1676.2 1037.9L1676.2 1131.4L1676.8 1051.4L1676.8 1134.6L1677.2 1048.7L1677.2 1121.0L1677.8 1115.3L1677.8 1060.5L1678.2 1135.1L1678.2 1059.1L1678.8 1058.3L1678.8 1130.2L1679.2 1051.0L1679.2 1136.2L1679.8 1052.2L1679.8 1124.1L1680.2 1060.1L1680.2 1136.8L1680.8 1055.0L1680.8 1141.4L1681.2 1057.9L1681.2 1162.5L1681.8 1159.1L1681.8 1067.3L1682.2 1062.9L1682.2 1169.4L1682.8 1132.5L1682.8 1049.7L1683.2 1057.1L1683.2 1152.5L1683.8 1065.4L1683.8 1138.8L1684.2 1158.2L1684.2 1076.3L1684.8 1070.7L1684.8 1153.2L1685.2 1169.5L1685.2 1073.9L1685.8 1067.0L1685.8 1161.0L1686.2 1167.7L1686.2 1073.2L1686.8 1080.3L1686.8 1144.6L1687.2 1149.0L1687.2 1085.4L1687.8 1075.9L1687.8 1175.4L1688.2 1187.3L1688.2 1087.6L1688.8 1167.5L1688.8 1091.2L1689.2 1091.6L1689.2 1184.3L1689.8 1099.3L1689.8 1159.4L1690.2 1083.4L1690.2 1177.6L1690.8 1187.0L1690.8 1086.8L1691.2 1179.4L1691.2 1081.4L1691.8 1172.5L1691.8 1093.9L1692.2 1092.8L1692.2 1177.8L1692.8 1093.7L1692.8 1195.6L1693.2 1093.3L1693.2 1171.7L1693.8 1103.0L1693.8 1193.9L1694.2 1090.4L1694.2 1188.4L1694.8 1170.3L1694.8 1096.2L1695.2 1185.9L1695.2 1098.3L1695.8 1103.1L1695.8 1185.6L1696.2 1186.1L1696.2 1103.5L1696.8 1082.7L1696.8 1171.1L1697.2 1114.2L1697.2 1184.7L1697.8 1191.9L1697.8 1107.9L1698.2 1192.7L1698.2 1098.4L1698.8 1097.6L1698.8 1212.1L1699.2 1200.0L1699.2 1112.9L1699.8 1108.0L1699.8 1202.6L1700.2 1114.0L1700.2 1185.3L1700.8 1205.5L1700.8 1116.5L1701.2 1125.4L1701.2 1202.2L1701.8 1201.7L1701.8 1108.0L1702.2 1122.8L1702.2 1199.1L1702.8 1117.7L1702.8 1205.5L1703.2 1190.9L1703.2 1117.2L1703.8 1202.3L1703.8 1118.8L1704.2 1109.1L1704.2 1202.8L1704.8 1123.3L1704.8 1198.5L1705.2 1122.1L1705.2 1222.7L1705.8 1124.1L1705.8 1209.4L1706.2 1212.8L1706.2 1128.8L1706.8 1125.7L1706.8 1204.3L1707.2 1129.5L1707.2 1210.7L1707.8 1129.8L1707.8 1208.0L1708.2 1214.4L1708.2 1117.9L1708.8 1202.2L1708.8 1132.5L1709.2 1143.4L1709.2 1218.5L1709.8 1134.4L1709.8 1215.9L1710.2 1209.7L1710.2 1124.0L1710.8 1135.9L1710.8 1239.3L1711.2 1131.8L1711.2 1210.4L1711.8 1135.3L1711.8 1215.6L1712.2 1213.2L1712.2 1137.6" stroke="#ff0000" stroke-width="2.4" stroke-dasharray="10.8 10.8" stroke-dashoffset="2.5"/>
</g>
<path d="M371.2 1290.4v-25.5M371.2 22.8v25.5M422.7 1290.4v-25.5M422.7 22.8v25.5M459.3 1290.4v-25.5M459.3 22.8v25.5M487.6 1290.4v-25.5M487.6 22.8v25.5M510.8 1290.4v-25.5M510.8 22.8v25.5M530.4 1290.4v-25.5M530.4 22.8v25.5M547.3 1290.4v-25.5M547.3 22.8v25.5M562.3 1290.4v-25.5M562.3 22.8v25.5M575.7 1290.4v-25.5M575.7 22.8v25.5M663.8 1290.4v-25.5M663.8 22.8v25.5M715.3 1290.4v-25.5M715.3 22.8v25.5M751.8 1290.4v-25.5M751.8 22.8v25.5M780.2 1290.4v-25.5M780.2 22.8v25.5M803.4 1290.4v-25.5M803.4 22.8v25.5M822.9 1290.4v-25.5M822.9 22.8v25.5M839.9 1290.4v-25.5M839.9 22.8v25.5M854.9 1290.4v-25.5M854.9 22.8v25.5M868.3 1290.4v-42.0M868.3 22.8v42.0M956.3 1290.4v-25.5M956.3 22.8v25.5M1007.9 1290.4v-25.5M1007.9 22.8v25.5M1044.4 1290.4v-25.5M1044.4 22.8v25.5M1072.8 1290.4v-25.5M1072.8 22.8v25.5M1095.9 1290.4v-25.5M1095.9 22.8v25.5M1115.5 1290.4v-25.5M1115.5 22.8v25.5M1132.5 1290.4v-25.5M1132.5 22.8v25.5M1147.5 1290.4v-25.5M1147.5 22.8v25.5M1160.8 1290.4v-25.5M1160.8 22.8v25.5M1248.9 1290.4v-25.5M1248.9 22.8v25.5M1300.4 1290.4v-25.5M1300.4 22.8v25.5M1337.0 1290.4v-25.5M1337.0 22.8v25.5M1365.4 1290.4v-25.5M1365.4 22.8v25.5M1388.5 1290.4v-25.5M1388.5 22.8v25.5M1408.1 1290.4v-25.5M1408.1 22.8v25.5M1425.1 1290.4v-25.5M1425.1 22.8v25.5M1440.0 1290.4v-25.5M1440.0 22.8v25.5M1453.4 1290.4v-42.0M1453.4 22.8v42.0M1541.5 1290.4v-25.5M1541.5 22.8v25.5M1593.0 1290.4v-25.5M1593.0 22.8v25.5M1629.6 1290.4v-25.5M1629.6 22.8v25.5M1657.9 1290.4v-25.5M1657.9 22.8v25.5M1681.1 1290.4v-25.5M1681.1 22.8v25.5M1700.7 1290.4v-25.5M1700.7 22.8v25.5M1717.7 1290.4v-25.5M1717.7 22.8v25.5M1732.6 1290.4v-25.5M1732.6 22.8v25.5M1746.0 1290.4v-25.5M1746.0 22.8v25.5M1834.1 1290.4v-25.5M1834.1 22.8v25.5M1885.6 1290.4v-25.5M1885.6 22.8v25.5M1922.2 1290.4v-25.5M1922.2 22.8v25.5M1950.5 1290.4v-25.5M1950.5 22.8v25.5M1973.7 1290.4v-25.5M1973.7 22.8v25.5M1993.3 1290.4v-25.5M1993.3 22.8v25.5M2010.2 1290.4v-25.5M2010.2 22.8v25.5M2025.2 1290.4v-25.5M2025.2 22.8v25.5M283.1 1243.9h25.5M2038.6 1243.9h-25.5M283.1 1222.2h25.5M2038.6 1222.2h-25.5M283.1 1208.0h25.5M2038.6 1208.0h-25.5M283.1 1197.4h25.5M2038.6 1197.4h-25.5M283.1 1192.9h25.5M2038.6 1192.9h-25.5M283.1 1146.4h25.5M2038.6 1146.4h-25.5M283.1 1124.7h25.5M2038.6 1124.7h-25.5M283.1 1110.5h25.5M2038.6 1110.5h-25.5M283.1 1099.8h25.5M2038.6 1099.8h-25.5M283.1 1095.4h25.5M2038.6 1095.4h-25.5M283.1 1048.9h25.5M2038.6 1048.9h-25.5M283.1 1027.2h25.5M2038.6 1027.2h-25.5M283.1 1013.0h25.5M2038.6 1013.0h-25.5M283.1 1002.3h25.5M2038.6 1002.3h-25.5M283.1 997.9h42.0M2038.6 997.9h-42.0M283.1 951.4h25.5M2038.6 951.4h-25.5M283.1 929.7h25.5M2038.6 929.7h-25.5M283.1 915.5h25.5M2038.6 915.5h-25.5M283.1 904.8h25.5M2038.6 904.8h-25.5M283.1 900.4h25.5M2038.6 900.4h-25.5M283.1 853.8h25.5M2038.6 853.8h-25.5M283.1 832.2h25.5M2038.6 832.2h-25.5M283.1 818.0h25.5M2038.6 818.0h-25.5M283.1 807.3h25.5M2038.6 807.3h-25.5M283.1 802.9h25.5M2038.6 802.9h-25.5M283.1 756.3h25.5M2038.6 756.3h-25.5M283.1 734.7h25.5M2038.6 734.7h-25.5M283.1 720.5h25.5M2038.6 720.5h-25.5M283.1 709.8h25.5M2038.6 709.8h-25.5M283.1 705.4h42.0M2038.6 705.4h-42.0M283.1 658.8h25.5M2038.6 658.8h-25.5M283.1 637.2h25.5M2038.6 637.2h-25.5M283.1 623.0h25.5M2038.6 623.0h-25.5M283.1 612.3h25.5M2038.6 612.3h-25.5M283.1 607.8h25.5M2038.6 607.8h-25.5M283.1 561.3h25.5M2038.6 561.3h-25.5M283.1 539.7h25.5M2038.6 539.7h-25.5M283.1 525.4h25.5M2038.6 525.4h-25.5M283.1 514.8h25.5M2038.6 514.8h-25.5M283.1 510.3h25.5M2038.6 510.3h-25.5M283.1 463.8h25.5M2038.6 463.8h-25.5M283.1 442.2h25.5M2038.6 442.2h-25.5M283.1 427.9h25.5M2038.6 427.9h-25.5M283.1 417.3h25.5M2038.6 417.3h-25.5M283.1 412.8h42.0M2038.6 412.8h-42.0M283.1 366.3h25.5M2038.6 366.3h-25.5M283.1 344.7h25.5M2038.6 344.7h-25.5M283.1 330.4h25.5M2038.6 330.4h-25.5M283.1 319.8h25.5M2038.6 319.8h-25.5M283.1 315.3h25.5M2038.6 315.3h-25.5M283.1 268.8h25.5M2038.6 268.8h-25.5M283.1 247.2h25.5M2038.6 247.2h-25.5M283.1 232.9h25.5M2038.6 232.9h-25.5M283.1 222.3h25.5M2038.6 222.3h-25.5M283.1 217.8h25.5M2038.6 217.8h-25.5M283.1 171.3h25.5M2038.6 171.3h-25.5M283.1 149.7h25.5M2038.6 149.7h-25.5M283.1 135.4h25.5M2038.6 135.4h-25.5M283.1 124.8h25.5M2038.6 124.8h-25.5M283.1 120.3h42.0M2038.6 120.3h-42.0M283.1 73.8h25.5M2038.6 73.8h-25.5M283.1 52.2h25.5M2038.6 52.2h-25.5M283.1 37.9h25.5M2038.6 37.9h-25.5M283.1 27.3h25.5M2038.6 27.3h-25.5" stroke="#000" stroke-width="2.1" fill="none"/>
<rect x="283.1" y="22.8" width="1755.5" height="1267.6" fill="none" stroke="#000" stroke-width="2.7" stroke-linejoin="round"/>
<path d="M1248.4 928V780" stroke="#000" stroke-width="2.2" fill="none"/>
<path d="M1248.4 741L1264.4 790H1232.4Z" fill="#000" stroke="#000" stroke-width="1.2" stroke-linejoin="round"/>
<text transform="translate(343.3 107.5) scale(1.02 1)" font-size="52.5">(b) Grooved cylinder</text>
<text transform="translate(330.0 224.2) scale(1.02 1)" font-size="52.5">Straked cylinder</text>
<text transform="translate(328.6 362.7) scale(0.997 1)" font-size="52.5"><tspan class="i">x</tspan><tspan dx="-2.6">*</tspan><tspan dx="2.6"> </tspan>= 10</text>
<text transform="translate(324.8 503.9) scale(0.997 1)" font-size="52.5"><tspan class="i">x</tspan><tspan dx="-2.6">*</tspan><tspan dx="2.6"> </tspan>= 20</text>
<text transform="translate(326.0 650.4) scale(0.997 1)" font-size="52.5"><tspan class="i">x</tspan><tspan dx="-2.6">*</tspan><tspan dx="2.6"> </tspan>= 40</text>
<text transform="translate(1159.0 1024.4) scale(1.01 1)" font-size="52.5"><tspan class="i">St</tspan> = 0.2</text>
<text transform="translate(256.8 148.2) scale(0.975 1.03)" font-size="58.2" text-anchor="end">10<tspan font-size="40.6" dy="-30.3">9</tspan></text>
<text transform="translate(256.8 440.7) scale(0.975 1.03)" font-size="58.2" text-anchor="end">10<tspan font-size="40.6" dy="-30.3">6</tspan></text>
<text transform="translate(256.8 733.3) scale(0.975 1.03)" font-size="58.2" text-anchor="end">10<tspan font-size="40.6" dy="-30.3">3</tspan></text>
<text transform="translate(256.8 1025.8) scale(0.975 1.03)" font-size="58.2" text-anchor="end">10<tspan font-size="40.6" dy="-30.3">0</tspan></text>
<text transform="translate(256.8 1318.3) scale(0.975 1.03)" font-size="58.2" text-anchor="end">10<tspan font-size="40.6" dy="-30.3">-3</tspan></text>
<text transform="translate(283.6 1389.8) scale(0.975 1.03)" font-size="58.2" text-anchor="middle">10<tspan font-size="40.6" dy="-30.3">-4</tspan></text>
<text transform="translate(868.8 1389.8) scale(0.975 1.03)" font-size="58.2" text-anchor="middle">10<tspan font-size="40.6" dy="-30.3">-2</tspan></text>
<text transform="translate(1453.9 1389.8) scale(0.975 1.03)" font-size="58.2" text-anchor="middle">10<tspan font-size="40.6" dy="-30.3">0</tspan></text>
<text transform="translate(2039.1 1389.8) scale(0.975 1.03)" font-size="58.2" text-anchor="middle">10<tspan font-size="40.6" dy="-30.3">2</tspan></text>
<text transform="translate(1141.5 1504.5)" font-size="56.5" class="i">f*</text>
<text transform="translate(54.4 680.8) rotate(-90)" font-size="40"><tspan font-family="'Liberation Serif',serif" font-size="51.5">ϕ</tspan><tspan dy="27.2" dx="0">v</tspan></text>
</svg></body></html>
